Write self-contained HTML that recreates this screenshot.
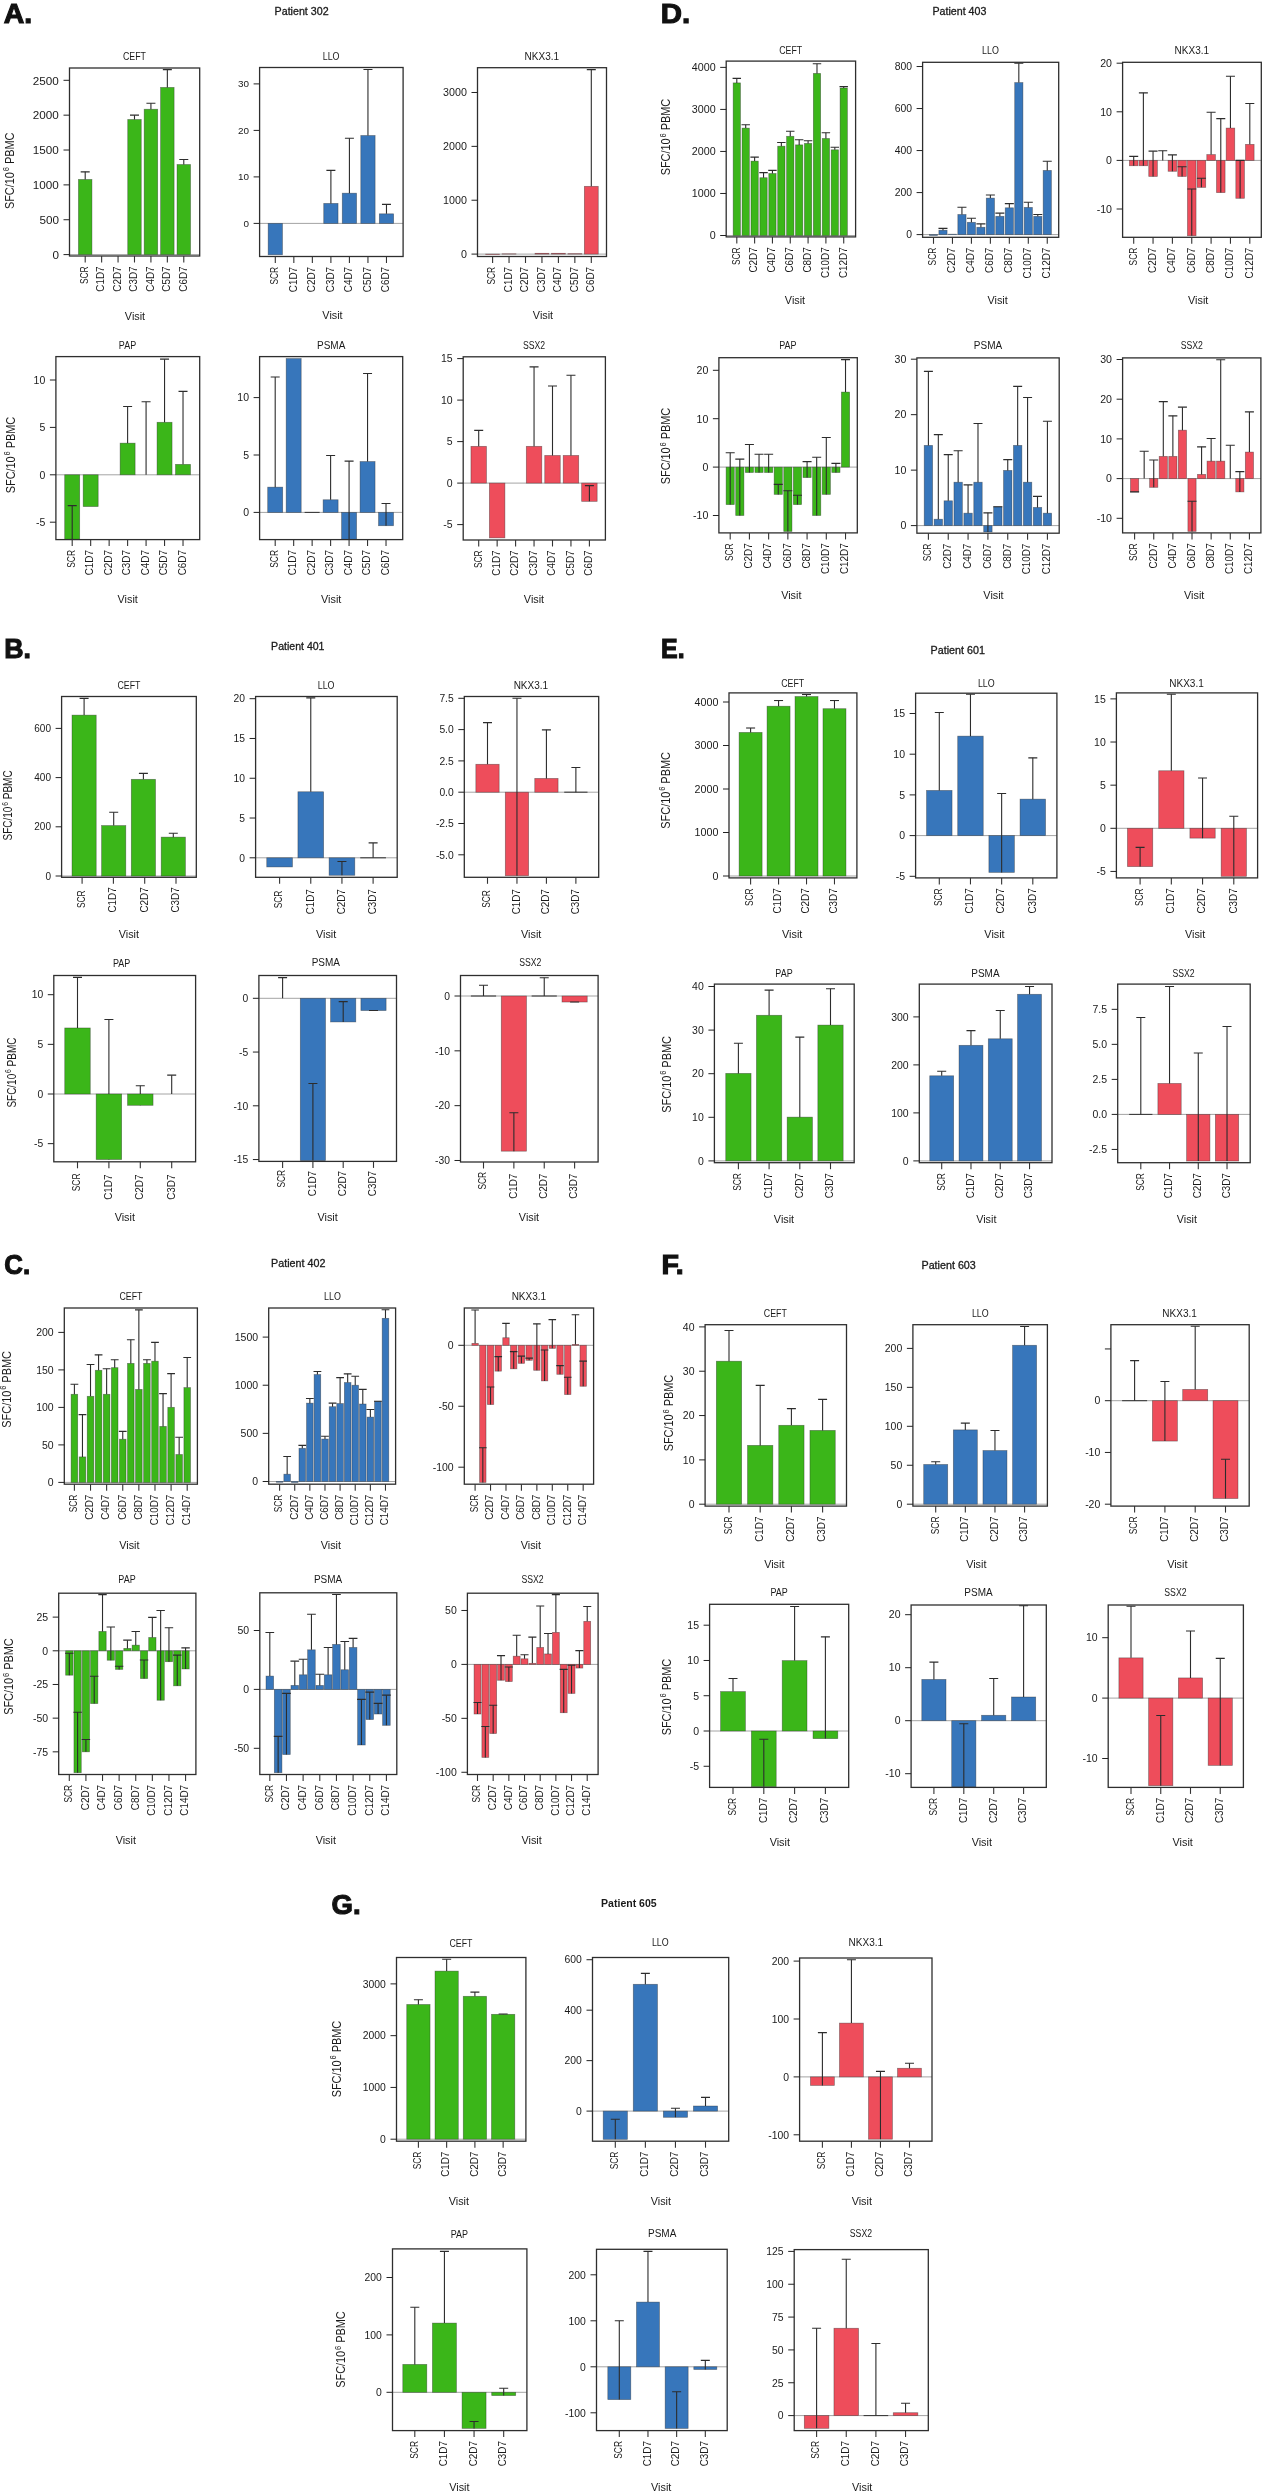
<!DOCTYPE html>
<html><head><meta charset="utf-8"><style>
html,body{margin:0;padding:0;background:#fff;overflow:hidden;}
svg{display:block;font-family:"Liberation Sans",sans-serif;will-change:transform;-webkit-font-smoothing:antialiased;}
</style></head><body>
<svg width="1262" height="2492" viewBox="0 0 1262 2492">
<rect width="1262" height="2492" fill="#fff"/>
<text x="3.70" y="23.20" text-anchor="start" font-size="27.5" font-weight="bold" textLength="28.40" lengthAdjust="spacingAndGlyphs" fill="#111" stroke="#111" stroke-width="1.1">A.</text>
<text x="274.60" y="15.00" text-anchor="start" font-size="10.6" textLength="54.00" lengthAdjust="spacingAndGlyphs" fill="#1a1a1a" stroke="#1a1a1a" stroke-width="0.3">Patient 302</text>
<text x="660.70" y="22.80" text-anchor="start" font-size="27.5" font-weight="bold" textLength="29.40" lengthAdjust="spacingAndGlyphs" fill="#111" stroke="#111" stroke-width="1.1">D.</text>
<text x="932.40" y="14.60" text-anchor="start" font-size="10.6" textLength="54.00" lengthAdjust="spacingAndGlyphs" fill="#1a1a1a" stroke="#1a1a1a" stroke-width="0.3">Patient 403</text>
<text x="4.30" y="658.20" text-anchor="start" font-size="27.5" font-weight="bold" textLength="26.70" lengthAdjust="spacingAndGlyphs" fill="#111" stroke="#111" stroke-width="1.1">B.</text>
<text x="271.10" y="649.70" text-anchor="start" font-size="10.6" textLength="53.40" lengthAdjust="spacingAndGlyphs" fill="#1a1a1a" stroke="#1a1a1a" stroke-width="0.3">Patient 401</text>
<text x="661.00" y="657.70" text-anchor="start" font-size="27.5" font-weight="bold" textLength="23.60" lengthAdjust="spacingAndGlyphs" fill="#111" stroke="#111" stroke-width="1.1">E.</text>
<text x="930.60" y="653.70" text-anchor="start" font-size="10.6" textLength="54.30" lengthAdjust="spacingAndGlyphs" fill="#1a1a1a" stroke="#1a1a1a" stroke-width="0.3">Patient 601</text>
<text x="4.30" y="1273.70" text-anchor="start" font-size="27.5" font-weight="bold" textLength="25.80" lengthAdjust="spacingAndGlyphs" fill="#111" stroke="#111" stroke-width="1.1">C.</text>
<text x="271.10" y="1266.80" text-anchor="start" font-size="10.6" textLength="54.30" lengthAdjust="spacingAndGlyphs" fill="#1a1a1a" stroke="#1a1a1a" stroke-width="0.3">Patient 402</text>
<text x="661.60" y="1273.70" text-anchor="start" font-size="27.5" font-weight="bold" textLength="22.20" lengthAdjust="spacingAndGlyphs" fill="#111" stroke="#111" stroke-width="1.1">F.</text>
<text x="921.50" y="1268.80" text-anchor="start" font-size="10.6" textLength="54.30" lengthAdjust="spacingAndGlyphs" fill="#1a1a1a" stroke="#1a1a1a" stroke-width="0.3">Patient 603</text>
<text x="331.50" y="1914.30" text-anchor="start" font-size="27.5" font-weight="bold" textLength="29.10" lengthAdjust="spacingAndGlyphs" fill="#111" stroke="#111" stroke-width="1.1">G.</text>
<text x="601.10" y="1907.40" text-anchor="start" font-size="10.6" font-weight="bold" textLength="55.60" lengthAdjust="spacingAndGlyphs" fill="#1a1a1a">Patient 605</text>
<clipPath id="c1"><rect x="69.5" y="68" width="130.20" height="188.00"/></clipPath>
<g clip-path="url(#c1)">
<line x1="69.5" x2="199.7" y1="254.60" y2="254.60" stroke="#a4a4a4" stroke-width="1"/>
<rect x="78.45" y="179.44" width="13.50" height="75.16" fill="#3bb619" stroke="rgba(40,40,40,0.5)" stroke-width="0.7"/>
<rect x="127.74" y="119.48" width="13.50" height="135.12" fill="#3bb619" stroke="rgba(40,40,40,0.5)" stroke-width="0.7"/>
<rect x="144.17" y="109.23" width="13.50" height="145.37" fill="#3bb619" stroke="rgba(40,40,40,0.5)" stroke-width="0.7"/>
<rect x="160.60" y="87.41" width="13.50" height="167.19" fill="#3bb619" stroke="rgba(40,40,40,0.5)" stroke-width="0.7"/>
<rect x="177.03" y="164.52" width="13.50" height="90.08" fill="#3bb619" stroke="rgba(40,40,40,0.5)" stroke-width="0.7"/>
<line x1="85.20" x2="85.20" y1="179.44" y2="171.84" stroke="#2c2c2c" stroke-width="1.1"/>
<line x1="80.70" x2="89.70" y1="171.84" y2="171.84" stroke="#2c2c2c" stroke-width="1.1"/>
<line x1="134.49" x2="134.49" y1="119.48" y2="115.16" stroke="#2c2c2c" stroke-width="1.1"/>
<line x1="129.99" x2="138.99" y1="115.16" y2="115.16" stroke="#2c2c2c" stroke-width="1.1"/>
<line x1="150.92" x2="150.92" y1="109.23" y2="103.24" stroke="#2c2c2c" stroke-width="1.1"/>
<line x1="146.42" x2="155.42" y1="103.24" y2="103.24" stroke="#2c2c2c" stroke-width="1.1"/>
<line x1="167.35" x2="167.35" y1="87.41" y2="69.63" stroke="#2c2c2c" stroke-width="1.1"/>
<line x1="162.85" x2="171.85" y1="69.63" y2="69.63" stroke="#2c2c2c" stroke-width="1.1"/>
<line x1="183.78" x2="183.78" y1="164.52" y2="159.50" stroke="#2c2c2c" stroke-width="1.1"/>
<line x1="179.28" x2="188.28" y1="159.50" y2="159.50" stroke="#2c2c2c" stroke-width="1.1"/>
</g>
<rect x="69.5" y="68" width="130.20" height="188.00" fill="none" stroke="#2e2e2e" stroke-width="1.3"/>
<line x1="63.50" x2="69.5" y1="254.60" y2="254.60" stroke="#222" stroke-width="1"/>
<text x="58.90" y="258.81" text-anchor="end" font-size="11.7" textLength="6.51" lengthAdjust="spacingAndGlyphs" fill="#1a1a1a">0</text>
<line x1="63.50" x2="69.5" y1="219.74" y2="219.74" stroke="#222" stroke-width="1"/>
<text x="58.90" y="223.95" text-anchor="end" font-size="11.7" textLength="19.52" lengthAdjust="spacingAndGlyphs" fill="#1a1a1a">500</text>
<line x1="63.50" x2="69.5" y1="184.88" y2="184.88" stroke="#222" stroke-width="1"/>
<text x="58.90" y="189.09" text-anchor="end" font-size="11.7" textLength="26.03" lengthAdjust="spacingAndGlyphs" fill="#1a1a1a">1000</text>
<line x1="63.50" x2="69.5" y1="150.02" y2="150.02" stroke="#222" stroke-width="1"/>
<text x="58.90" y="154.23" text-anchor="end" font-size="11.7" textLength="26.03" lengthAdjust="spacingAndGlyphs" fill="#1a1a1a">1500</text>
<line x1="63.50" x2="69.5" y1="115.16" y2="115.16" stroke="#222" stroke-width="1"/>
<text x="58.90" y="119.37" text-anchor="end" font-size="11.7" textLength="26.03" lengthAdjust="spacingAndGlyphs" fill="#1a1a1a">2000</text>
<line x1="63.50" x2="69.5" y1="80.30" y2="80.30" stroke="#222" stroke-width="1"/>
<text x="58.90" y="84.51" text-anchor="end" font-size="11.7" textLength="26.03" lengthAdjust="spacingAndGlyphs" fill="#1a1a1a">2500</text>
<line x1="85.20" x2="85.20" y1="256" y2="262.5" stroke="#333" stroke-width="1.1"/>
<text transform="translate(88.00,266.50) rotate(-90)" text-anchor="end" font-size="11" textLength="17.60" lengthAdjust="spacingAndGlyphs" fill="#1a1a1a">SCR</text>
<line x1="101.63" x2="101.63" y1="256" y2="262.5" stroke="#333" stroke-width="1.1"/>
<text transform="translate(104.43,266.50) rotate(-90)" text-anchor="end" font-size="11" textLength="25.17" lengthAdjust="spacingAndGlyphs" fill="#1a1a1a">C1D7</text>
<line x1="118.06" x2="118.06" y1="256" y2="262.5" stroke="#333" stroke-width="1.1"/>
<text transform="translate(120.86,266.50) rotate(-90)" text-anchor="end" font-size="11" textLength="25.17" lengthAdjust="spacingAndGlyphs" fill="#1a1a1a">C2D7</text>
<line x1="134.49" x2="134.49" y1="256" y2="262.5" stroke="#333" stroke-width="1.1"/>
<text transform="translate(137.29,266.50) rotate(-90)" text-anchor="end" font-size="11" textLength="25.17" lengthAdjust="spacingAndGlyphs" fill="#1a1a1a">C3D7</text>
<line x1="150.92" x2="150.92" y1="256" y2="262.5" stroke="#333" stroke-width="1.1"/>
<text transform="translate(153.72,266.50) rotate(-90)" text-anchor="end" font-size="11" textLength="25.17" lengthAdjust="spacingAndGlyphs" fill="#1a1a1a">C4D7</text>
<line x1="167.35" x2="167.35" y1="256" y2="262.5" stroke="#333" stroke-width="1.1"/>
<text transform="translate(170.15,266.50) rotate(-90)" text-anchor="end" font-size="11" textLength="25.17" lengthAdjust="spacingAndGlyphs" fill="#1a1a1a">C5D7</text>
<line x1="183.78" x2="183.78" y1="256" y2="262.5" stroke="#333" stroke-width="1.1"/>
<text transform="translate(186.58,266.50) rotate(-90)" text-anchor="end" font-size="11" textLength="25.17" lengthAdjust="spacingAndGlyphs" fill="#1a1a1a">C6D7</text>
<text x="134.50" y="59.60" text-anchor="middle" font-size="10" textLength="23.00" lengthAdjust="spacingAndGlyphs" fill="#1a1a1a">CEFT</text>
<text x="135.00" y="320.00" text-anchor="middle" font-size="10.5" textLength="20.30" lengthAdjust="spacingAndGlyphs" fill="#1a1a1a">Visit</text>
<text transform="translate(13.60,170.80) rotate(-90)" text-anchor="middle" font-size="12" fill="#1a1a1a" textLength="76.5" lengthAdjust="spacingAndGlyphs">SFC/10<tspan font-size="8.2" dx="1" dy="-4.3">6</tspan><tspan dy="4.3"> PBMC</tspan></text>
<clipPath id="c2"><rect x="259.6" y="67.5" width="143.50" height="189.00"/></clipPath>
<g clip-path="url(#c2)">
<line x1="259.6" x2="403.1" y1="223.40" y2="223.40" stroke="#a4a4a4" stroke-width="1"/>
<rect x="268.15" y="223.40" width="14.30" height="31.39" fill="#3776bb" stroke="rgba(40,40,40,0.5)" stroke-width="0.7"/>
<rect x="323.74" y="203.41" width="14.30" height="20.00" fill="#3776bb" stroke="rgba(40,40,40,0.5)" stroke-width="0.7"/>
<rect x="342.27" y="193.18" width="14.30" height="30.22" fill="#3776bb" stroke="rgba(40,40,40,0.5)" stroke-width="0.7"/>
<rect x="360.80" y="135.51" width="14.30" height="87.89" fill="#3776bb" stroke="rgba(40,40,40,0.5)" stroke-width="0.7"/>
<rect x="379.33" y="213.82" width="14.30" height="9.58" fill="#3776bb" stroke="rgba(40,40,40,0.5)" stroke-width="0.7"/>
<line x1="330.89" x2="330.89" y1="203.41" y2="170.39" stroke="#2c2c2c" stroke-width="1.1"/>
<line x1="326.39" x2="335.39" y1="170.39" y2="170.39" stroke="#2c2c2c" stroke-width="1.1"/>
<line x1="349.42" x2="349.42" y1="193.18" y2="138.31" stroke="#2c2c2c" stroke-width="1.1"/>
<line x1="344.92" x2="353.92" y1="138.31" y2="138.31" stroke="#2c2c2c" stroke-width="1.1"/>
<line x1="367.95" x2="367.95" y1="135.51" y2="69.48" stroke="#2c2c2c" stroke-width="1.1"/>
<line x1="363.45" x2="372.45" y1="69.48" y2="69.48" stroke="#2c2c2c" stroke-width="1.1"/>
<line x1="386.48" x2="386.48" y1="213.82" y2="204.34" stroke="#2c2c2c" stroke-width="1.1"/>
<line x1="381.98" x2="390.98" y1="204.34" y2="204.34" stroke="#2c2c2c" stroke-width="1.1"/>
</g>
<rect x="259.6" y="67.5" width="143.50" height="189.00" fill="none" stroke="#2e2e2e" stroke-width="1.3"/>
<line x1="253.60" x2="259.6" y1="223.40" y2="223.40" stroke="#222" stroke-width="1"/>
<text x="249.00" y="226.96" text-anchor="end" font-size="9.9" textLength="5.51" lengthAdjust="spacingAndGlyphs" fill="#1a1a1a">0</text>
<line x1="253.60" x2="259.6" y1="176.90" y2="176.90" stroke="#222" stroke-width="1"/>
<text x="249.00" y="180.46" text-anchor="end" font-size="9.9" textLength="11.01" lengthAdjust="spacingAndGlyphs" fill="#1a1a1a">10</text>
<line x1="253.60" x2="259.6" y1="130.40" y2="130.40" stroke="#222" stroke-width="1"/>
<text x="249.00" y="133.96" text-anchor="end" font-size="9.9" textLength="11.01" lengthAdjust="spacingAndGlyphs" fill="#1a1a1a">20</text>
<line x1="253.60" x2="259.6" y1="83.90" y2="83.90" stroke="#222" stroke-width="1"/>
<text x="249.00" y="87.46" text-anchor="end" font-size="9.9" textLength="11.01" lengthAdjust="spacingAndGlyphs" fill="#1a1a1a">30</text>
<line x1="275.30" x2="275.30" y1="256.5" y2="263.0" stroke="#333" stroke-width="1.1"/>
<text transform="translate(278.10,267.00) rotate(-90)" text-anchor="end" font-size="11" textLength="17.60" lengthAdjust="spacingAndGlyphs" fill="#1a1a1a">SCR</text>
<line x1="293.83" x2="293.83" y1="256.5" y2="263.0" stroke="#333" stroke-width="1.1"/>
<text transform="translate(296.63,267.00) rotate(-90)" text-anchor="end" font-size="11" textLength="25.17" lengthAdjust="spacingAndGlyphs" fill="#1a1a1a">C1D7</text>
<line x1="312.36" x2="312.36" y1="256.5" y2="263.0" stroke="#333" stroke-width="1.1"/>
<text transform="translate(315.16,267.00) rotate(-90)" text-anchor="end" font-size="11" textLength="25.17" lengthAdjust="spacingAndGlyphs" fill="#1a1a1a">C2D7</text>
<line x1="330.89" x2="330.89" y1="256.5" y2="263.0" stroke="#333" stroke-width="1.1"/>
<text transform="translate(333.69,267.00) rotate(-90)" text-anchor="end" font-size="11" textLength="25.17" lengthAdjust="spacingAndGlyphs" fill="#1a1a1a">C3D7</text>
<line x1="349.42" x2="349.42" y1="256.5" y2="263.0" stroke="#333" stroke-width="1.1"/>
<text transform="translate(352.22,267.00) rotate(-90)" text-anchor="end" font-size="11" textLength="25.17" lengthAdjust="spacingAndGlyphs" fill="#1a1a1a">C4D7</text>
<line x1="367.95" x2="367.95" y1="256.5" y2="263.0" stroke="#333" stroke-width="1.1"/>
<text transform="translate(370.75,267.00) rotate(-90)" text-anchor="end" font-size="11" textLength="25.17" lengthAdjust="spacingAndGlyphs" fill="#1a1a1a">C5D7</text>
<line x1="386.48" x2="386.48" y1="256.5" y2="263.0" stroke="#333" stroke-width="1.1"/>
<text transform="translate(389.28,267.00) rotate(-90)" text-anchor="end" font-size="11" textLength="25.17" lengthAdjust="spacingAndGlyphs" fill="#1a1a1a">C6D7</text>
<text x="331.10" y="59.50" text-anchor="middle" font-size="10" textLength="16.80" lengthAdjust="spacingAndGlyphs" fill="#1a1a1a">LLO</text>
<text x="332.50" y="319.00" text-anchor="middle" font-size="10.5" textLength="20.30" lengthAdjust="spacingAndGlyphs" fill="#1a1a1a">Visit</text>
<clipPath id="c3"><rect x="477.5" y="67.7" width="129.00" height="188.80"/></clipPath>
<g clip-path="url(#c3)">
<line x1="477.5" x2="606.5" y1="254.10" y2="254.10" stroke="#a4a4a4" stroke-width="1"/>
<rect x="485.65" y="254.10" width="13.90" height="0.43" fill="#ee4d5b" stroke="rgba(40,40,40,0.5)" stroke-width="0.7"/>
<rect x="502.10" y="253.83" width="13.90" height="0.27" fill="#ee4d5b" stroke="rgba(40,40,40,0.5)" stroke-width="0.7"/>
<rect x="535.00" y="253.29" width="13.90" height="0.81" fill="#ee4d5b" stroke="rgba(40,40,40,0.5)" stroke-width="0.7"/>
<rect x="551.45" y="253.29" width="13.90" height="0.81" fill="#ee4d5b" stroke="rgba(40,40,40,0.5)" stroke-width="0.7"/>
<rect x="567.90" y="253.67" width="13.90" height="0.43" fill="#ee4d5b" stroke="rgba(40,40,40,0.5)" stroke-width="0.7"/>
<rect x="584.35" y="186.33" width="13.90" height="67.77" fill="#ee4d5b" stroke="rgba(40,40,40,0.5)" stroke-width="0.7"/>
<line x1="591.30" x2="591.30" y1="186.33" y2="69.60" stroke="#2c2c2c" stroke-width="1.1"/>
<line x1="586.80" x2="595.80" y1="69.60" y2="69.60" stroke="#2c2c2c" stroke-width="1.1"/>
</g>
<rect x="477.5" y="67.7" width="129.00" height="188.80" fill="none" stroke="#2e2e2e" stroke-width="1.3"/>
<line x1="471.50" x2="477.5" y1="254.10" y2="254.10" stroke="#222" stroke-width="1"/>
<text x="466.90" y="257.95" text-anchor="end" font-size="10.7" textLength="5.95" lengthAdjust="spacingAndGlyphs" fill="#1a1a1a">0</text>
<line x1="471.50" x2="477.5" y1="200.23" y2="200.23" stroke="#222" stroke-width="1"/>
<text x="466.90" y="204.08" text-anchor="end" font-size="10.7" textLength="23.80" lengthAdjust="spacingAndGlyphs" fill="#1a1a1a">1000</text>
<line x1="471.50" x2="477.5" y1="146.36" y2="146.36" stroke="#222" stroke-width="1"/>
<text x="466.90" y="150.21" text-anchor="end" font-size="10.7" textLength="23.80" lengthAdjust="spacingAndGlyphs" fill="#1a1a1a">2000</text>
<line x1="471.50" x2="477.5" y1="92.49" y2="92.49" stroke="#222" stroke-width="1"/>
<text x="466.90" y="96.34" text-anchor="end" font-size="10.7" textLength="23.80" lengthAdjust="spacingAndGlyphs" fill="#1a1a1a">3000</text>
<line x1="492.60" x2="492.60" y1="256.5" y2="263.0" stroke="#333" stroke-width="1.1"/>
<text transform="translate(495.40,267.00) rotate(-90)" text-anchor="end" font-size="11" textLength="17.60" lengthAdjust="spacingAndGlyphs" fill="#1a1a1a">SCR</text>
<line x1="509.05" x2="509.05" y1="256.5" y2="263.0" stroke="#333" stroke-width="1.1"/>
<text transform="translate(511.85,267.00) rotate(-90)" text-anchor="end" font-size="11" textLength="25.17" lengthAdjust="spacingAndGlyphs" fill="#1a1a1a">C1D7</text>
<line x1="525.50" x2="525.50" y1="256.5" y2="263.0" stroke="#333" stroke-width="1.1"/>
<text transform="translate(528.30,267.00) rotate(-90)" text-anchor="end" font-size="11" textLength="25.17" lengthAdjust="spacingAndGlyphs" fill="#1a1a1a">C2D7</text>
<line x1="541.95" x2="541.95" y1="256.5" y2="263.0" stroke="#333" stroke-width="1.1"/>
<text transform="translate(544.75,267.00) rotate(-90)" text-anchor="end" font-size="11" textLength="25.17" lengthAdjust="spacingAndGlyphs" fill="#1a1a1a">C3D7</text>
<line x1="558.40" x2="558.40" y1="256.5" y2="263.0" stroke="#333" stroke-width="1.1"/>
<text transform="translate(561.20,267.00) rotate(-90)" text-anchor="end" font-size="11" textLength="25.17" lengthAdjust="spacingAndGlyphs" fill="#1a1a1a">C4D7</text>
<line x1="574.85" x2="574.85" y1="256.5" y2="263.0" stroke="#333" stroke-width="1.1"/>
<text transform="translate(577.65,267.00) rotate(-90)" text-anchor="end" font-size="11" textLength="25.17" lengthAdjust="spacingAndGlyphs" fill="#1a1a1a">C5D7</text>
<line x1="591.30" x2="591.30" y1="256.5" y2="263.0" stroke="#333" stroke-width="1.1"/>
<text transform="translate(594.10,267.00) rotate(-90)" text-anchor="end" font-size="11" textLength="25.17" lengthAdjust="spacingAndGlyphs" fill="#1a1a1a">C6D7</text>
<text x="541.80" y="59.70" text-anchor="middle" font-size="10" textLength="34.50" lengthAdjust="spacingAndGlyphs" fill="#1a1a1a">NKX3.1</text>
<text x="543.00" y="318.80" text-anchor="middle" font-size="10.5" textLength="20.30" lengthAdjust="spacingAndGlyphs" fill="#1a1a1a">Visit</text>
<clipPath id="c4"><rect x="55.9" y="356.6" width="143.80" height="183.00"/></clipPath>
<g clip-path="url(#c4)">
<line x1="55.9" x2="199.7" y1="474.80" y2="474.80" stroke="#a4a4a4" stroke-width="1"/>
<rect x="64.70" y="474.80" width="15.00" height="64.46" fill="#3bb619" stroke="rgba(40,40,40,0.5)" stroke-width="0.7"/>
<rect x="83.17" y="474.80" width="15.00" height="31.76" fill="#3bb619" stroke="rgba(40,40,40,0.5)" stroke-width="0.7"/>
<rect x="120.11" y="443.14" width="15.00" height="31.66" fill="#3bb619" stroke="rgba(40,40,40,0.5)" stroke-width="0.7"/>
<rect x="157.05" y="422.28" width="15.00" height="52.52" fill="#3bb619" stroke="rgba(40,40,40,0.5)" stroke-width="0.7"/>
<rect x="175.52" y="464.37" width="15.00" height="10.43" fill="#3bb619" stroke="rgba(40,40,40,0.5)" stroke-width="0.7"/>
<line x1="72.20" x2="72.20" y1="539.26" y2="505.61" stroke="#2c2c2c" stroke-width="1.1"/>
<line x1="67.70" x2="76.70" y1="505.61" y2="505.61" stroke="#2c2c2c" stroke-width="1.1"/>
<line x1="127.61" x2="127.61" y1="443.14" y2="406.54" stroke="#2c2c2c" stroke-width="1.1"/>
<line x1="123.11" x2="132.11" y1="406.54" y2="406.54" stroke="#2c2c2c" stroke-width="1.1"/>
<line x1="146.08" x2="146.08" y1="474.80" y2="401.80" stroke="#2c2c2c" stroke-width="1.1"/>
<line x1="141.58" x2="150.58" y1="401.80" y2="401.80" stroke="#2c2c2c" stroke-width="1.1"/>
<line x1="164.55" x2="164.55" y1="422.28" y2="359.14" stroke="#2c2c2c" stroke-width="1.1"/>
<line x1="160.05" x2="169.05" y1="359.14" y2="359.14" stroke="#2c2c2c" stroke-width="1.1"/>
<line x1="183.02" x2="183.02" y1="464.37" y2="391.38" stroke="#2c2c2c" stroke-width="1.1"/>
<line x1="178.52" x2="187.52" y1="391.38" y2="391.38" stroke="#2c2c2c" stroke-width="1.1"/>
</g>
<rect x="55.9" y="356.6" width="143.80" height="183.00" fill="none" stroke="#2e2e2e" stroke-width="1.3"/>
<line x1="49.90" x2="55.9" y1="522.20" y2="522.20" stroke="#222" stroke-width="1"/>
<text x="45.30" y="525.98" text-anchor="end" font-size="10.5" textLength="9.34" lengthAdjust="spacingAndGlyphs" fill="#1a1a1a">-5</text>
<line x1="49.90" x2="55.9" y1="474.80" y2="474.80" stroke="#222" stroke-width="1"/>
<text x="45.30" y="478.58" text-anchor="end" font-size="10.5" textLength="5.84" lengthAdjust="spacingAndGlyphs" fill="#1a1a1a">0</text>
<line x1="49.90" x2="55.9" y1="427.40" y2="427.40" stroke="#222" stroke-width="1"/>
<text x="45.30" y="431.18" text-anchor="end" font-size="10.5" textLength="5.84" lengthAdjust="spacingAndGlyphs" fill="#1a1a1a">5</text>
<line x1="49.90" x2="55.9" y1="380.00" y2="380.00" stroke="#222" stroke-width="1"/>
<text x="45.30" y="383.78" text-anchor="end" font-size="10.5" textLength="11.68" lengthAdjust="spacingAndGlyphs" fill="#1a1a1a">10</text>
<line x1="72.20" x2="72.20" y1="539.6" y2="546.1" stroke="#333" stroke-width="1.1"/>
<text transform="translate(75.00,550.10) rotate(-90)" text-anchor="end" font-size="11" textLength="17.60" lengthAdjust="spacingAndGlyphs" fill="#1a1a1a">SCR</text>
<line x1="90.67" x2="90.67" y1="539.6" y2="546.1" stroke="#333" stroke-width="1.1"/>
<text transform="translate(93.47,550.10) rotate(-90)" text-anchor="end" font-size="11" textLength="25.17" lengthAdjust="spacingAndGlyphs" fill="#1a1a1a">C1D7</text>
<line x1="109.14" x2="109.14" y1="539.6" y2="546.1" stroke="#333" stroke-width="1.1"/>
<text transform="translate(111.94,550.10) rotate(-90)" text-anchor="end" font-size="11" textLength="25.17" lengthAdjust="spacingAndGlyphs" fill="#1a1a1a">C2D7</text>
<line x1="127.61" x2="127.61" y1="539.6" y2="546.1" stroke="#333" stroke-width="1.1"/>
<text transform="translate(130.41,550.10) rotate(-90)" text-anchor="end" font-size="11" textLength="25.17" lengthAdjust="spacingAndGlyphs" fill="#1a1a1a">C3D7</text>
<line x1="146.08" x2="146.08" y1="539.6" y2="546.1" stroke="#333" stroke-width="1.1"/>
<text transform="translate(148.88,550.10) rotate(-90)" text-anchor="end" font-size="11" textLength="25.17" lengthAdjust="spacingAndGlyphs" fill="#1a1a1a">C4D7</text>
<line x1="164.55" x2="164.55" y1="539.6" y2="546.1" stroke="#333" stroke-width="1.1"/>
<text transform="translate(167.35,550.10) rotate(-90)" text-anchor="end" font-size="11" textLength="25.17" lengthAdjust="spacingAndGlyphs" fill="#1a1a1a">C5D7</text>
<line x1="183.02" x2="183.02" y1="539.6" y2="546.1" stroke="#333" stroke-width="1.1"/>
<text transform="translate(185.82,550.10) rotate(-90)" text-anchor="end" font-size="11" textLength="25.17" lengthAdjust="spacingAndGlyphs" fill="#1a1a1a">C6D7</text>
<text x="127.50" y="349.30" text-anchor="middle" font-size="10" textLength="17.30" lengthAdjust="spacingAndGlyphs" fill="#1a1a1a">PAP</text>
<text x="127.70" y="603.30" text-anchor="middle" font-size="10.5" textLength="20.30" lengthAdjust="spacingAndGlyphs" fill="#1a1a1a">Visit</text>
<text transform="translate(14.60,455.00) rotate(-90)" text-anchor="middle" font-size="12" fill="#1a1a1a" textLength="76.5" lengthAdjust="spacingAndGlyphs">SFC/10<tspan font-size="8.2" dx="1" dy="-4.3">6</tspan><tspan dy="4.3"> PBMC</tspan></text>
<clipPath id="c5"><rect x="259.6" y="356.6" width="143.10" height="183.00"/></clipPath>
<g clip-path="url(#c5)">
<line x1="259.6" x2="402.7" y1="512.40" y2="512.40" stroke="#a4a4a4" stroke-width="1"/>
<rect x="267.70" y="487.14" width="15.00" height="25.26" fill="#3776bb" stroke="rgba(40,40,40,0.5)" stroke-width="0.7"/>
<rect x="286.17" y="358.57" width="15.00" height="153.83" fill="#3776bb" stroke="rgba(40,40,40,0.5)" stroke-width="0.7"/>
<line x1="304.64" x2="319.64" y1="512.40" y2="512.40" stroke="#333" stroke-width="1"/>
<rect x="323.11" y="499.77" width="15.00" height="12.63" fill="#3776bb" stroke="rgba(40,40,40,0.5)" stroke-width="0.7"/>
<rect x="341.58" y="512.40" width="15.00" height="28.70" fill="#3776bb" stroke="rgba(40,40,40,0.5)" stroke-width="0.7"/>
<rect x="360.05" y="461.54" width="15.00" height="50.86" fill="#3776bb" stroke="rgba(40,40,40,0.5)" stroke-width="0.7"/>
<rect x="378.52" y="512.40" width="15.00" height="13.32" fill="#3776bb" stroke="rgba(40,40,40,0.5)" stroke-width="0.7"/>
<line x1="275.20" x2="275.20" y1="487.14" y2="376.94" stroke="#2c2c2c" stroke-width="1.1"/>
<line x1="270.70" x2="279.70" y1="376.94" y2="376.94" stroke="#2c2c2c" stroke-width="1.1"/>
<line x1="330.61" x2="330.61" y1="499.77" y2="455.46" stroke="#2c2c2c" stroke-width="1.1"/>
<line x1="326.11" x2="335.11" y1="455.46" y2="455.46" stroke="#2c2c2c" stroke-width="1.1"/>
<line x1="349.08" x2="349.08" y1="541.10" y2="461.08" stroke="#2c2c2c" stroke-width="1.1"/>
<line x1="344.58" x2="353.58" y1="461.08" y2="461.08" stroke="#2c2c2c" stroke-width="1.1"/>
<line x1="367.55" x2="367.55" y1="461.54" y2="373.49" stroke="#2c2c2c" stroke-width="1.1"/>
<line x1="363.05" x2="372.05" y1="373.49" y2="373.49" stroke="#2c2c2c" stroke-width="1.1"/>
<line x1="386.02" x2="386.02" y1="525.72" y2="503.45" stroke="#2c2c2c" stroke-width="1.1"/>
<line x1="381.52" x2="390.52" y1="503.45" y2="503.45" stroke="#2c2c2c" stroke-width="1.1"/>
</g>
<rect x="259.6" y="356.6" width="143.10" height="183.00" fill="none" stroke="#2e2e2e" stroke-width="1.3"/>
<line x1="253.60" x2="259.6" y1="512.40" y2="512.40" stroke="#222" stroke-width="1"/>
<text x="249.00" y="516.18" text-anchor="end" font-size="10.5" textLength="5.84" lengthAdjust="spacingAndGlyphs" fill="#1a1a1a">0</text>
<line x1="253.60" x2="259.6" y1="455.00" y2="455.00" stroke="#222" stroke-width="1"/>
<text x="249.00" y="458.78" text-anchor="end" font-size="10.5" textLength="5.84" lengthAdjust="spacingAndGlyphs" fill="#1a1a1a">5</text>
<line x1="253.60" x2="259.6" y1="397.60" y2="397.60" stroke="#222" stroke-width="1"/>
<text x="249.00" y="401.38" text-anchor="end" font-size="10.5" textLength="11.68" lengthAdjust="spacingAndGlyphs" fill="#1a1a1a">10</text>
<line x1="275.20" x2="275.20" y1="539.6" y2="546.1" stroke="#333" stroke-width="1.1"/>
<text transform="translate(278.00,550.10) rotate(-90)" text-anchor="end" font-size="11" textLength="17.60" lengthAdjust="spacingAndGlyphs" fill="#1a1a1a">SCR</text>
<line x1="293.67" x2="293.67" y1="539.6" y2="546.1" stroke="#333" stroke-width="1.1"/>
<text transform="translate(296.47,550.10) rotate(-90)" text-anchor="end" font-size="11" textLength="25.17" lengthAdjust="spacingAndGlyphs" fill="#1a1a1a">C1D7</text>
<line x1="312.14" x2="312.14" y1="539.6" y2="546.1" stroke="#333" stroke-width="1.1"/>
<text transform="translate(314.94,550.10) rotate(-90)" text-anchor="end" font-size="11" textLength="25.17" lengthAdjust="spacingAndGlyphs" fill="#1a1a1a">C2D7</text>
<line x1="330.61" x2="330.61" y1="539.6" y2="546.1" stroke="#333" stroke-width="1.1"/>
<text transform="translate(333.41,550.10) rotate(-90)" text-anchor="end" font-size="11" textLength="25.17" lengthAdjust="spacingAndGlyphs" fill="#1a1a1a">C3D7</text>
<line x1="349.08" x2="349.08" y1="539.6" y2="546.1" stroke="#333" stroke-width="1.1"/>
<text transform="translate(351.88,550.10) rotate(-90)" text-anchor="end" font-size="11" textLength="25.17" lengthAdjust="spacingAndGlyphs" fill="#1a1a1a">C4D7</text>
<line x1="367.55" x2="367.55" y1="539.6" y2="546.1" stroke="#333" stroke-width="1.1"/>
<text transform="translate(370.35,550.10) rotate(-90)" text-anchor="end" font-size="11" textLength="25.17" lengthAdjust="spacingAndGlyphs" fill="#1a1a1a">C5D7</text>
<line x1="386.02" x2="386.02" y1="539.6" y2="546.1" stroke="#333" stroke-width="1.1"/>
<text transform="translate(388.82,550.10) rotate(-90)" text-anchor="end" font-size="11" textLength="25.17" lengthAdjust="spacingAndGlyphs" fill="#1a1a1a">C6D7</text>
<text x="331.20" y="349.30" text-anchor="middle" font-size="10" textLength="28.30" lengthAdjust="spacingAndGlyphs" fill="#1a1a1a">PSMA</text>
<text x="331.20" y="603.30" text-anchor="middle" font-size="10.5" textLength="20.30" lengthAdjust="spacingAndGlyphs" fill="#1a1a1a">Visit</text>
<clipPath id="c6"><rect x="463.2" y="356.8" width="142.20" height="183.20"/></clipPath>
<g clip-path="url(#c6)">
<line x1="463.2" x2="605.4" y1="483.10" y2="483.10" stroke="#a4a4a4" stroke-width="1"/>
<rect x="470.95" y="446.33" width="15.50" height="36.77" fill="#ee4d5b" stroke="rgba(40,40,40,0.5)" stroke-width="0.7"/>
<rect x="489.40" y="483.10" width="15.50" height="54.78" fill="#ee4d5b" stroke="rgba(40,40,40,0.5)" stroke-width="0.7"/>
<rect x="526.30" y="446.33" width="15.50" height="36.77" fill="#ee4d5b" stroke="rgba(40,40,40,0.5)" stroke-width="0.7"/>
<rect x="544.75" y="455.46" width="15.50" height="27.64" fill="#ee4d5b" stroke="rgba(40,40,40,0.5)" stroke-width="0.7"/>
<rect x="563.20" y="455.46" width="15.50" height="27.64" fill="#ee4d5b" stroke="rgba(40,40,40,0.5)" stroke-width="0.7"/>
<rect x="581.65" y="483.10" width="15.50" height="18.26" fill="#ee4d5b" stroke="rgba(40,40,40,0.5)" stroke-width="0.7"/>
<line x1="478.70" x2="478.70" y1="446.33" y2="430.40" stroke="#2c2c2c" stroke-width="1.1"/>
<line x1="474.20" x2="483.20" y1="430.40" y2="430.40" stroke="#2c2c2c" stroke-width="1.1"/>
<line x1="534.05" x2="534.05" y1="446.33" y2="366.90" stroke="#2c2c2c" stroke-width="1.1"/>
<line x1="529.55" x2="538.55" y1="366.90" y2="366.90" stroke="#2c2c2c" stroke-width="1.1"/>
<line x1="552.50" x2="552.50" y1="455.46" y2="385.99" stroke="#2c2c2c" stroke-width="1.1"/>
<line x1="548.00" x2="557.00" y1="385.99" y2="385.99" stroke="#2c2c2c" stroke-width="1.1"/>
<line x1="570.95" x2="570.95" y1="455.46" y2="375.20" stroke="#2c2c2c" stroke-width="1.1"/>
<line x1="566.45" x2="575.45" y1="375.20" y2="375.20" stroke="#2c2c2c" stroke-width="1.1"/>
<line x1="589.40" x2="589.40" y1="501.36" y2="485.59" stroke="#2c2c2c" stroke-width="1.1"/>
<line x1="584.90" x2="593.90" y1="485.59" y2="485.59" stroke="#2c2c2c" stroke-width="1.1"/>
</g>
<rect x="463.2" y="356.8" width="142.20" height="183.20" fill="none" stroke="#2e2e2e" stroke-width="1.3"/>
<line x1="457.20" x2="463.2" y1="524.60" y2="524.60" stroke="#222" stroke-width="1"/>
<text x="452.60" y="528.38" text-anchor="end" font-size="10.5" textLength="9.34" lengthAdjust="spacingAndGlyphs" fill="#1a1a1a">-5</text>
<line x1="457.20" x2="463.2" y1="483.10" y2="483.10" stroke="#222" stroke-width="1"/>
<text x="452.60" y="486.88" text-anchor="end" font-size="10.5" textLength="5.84" lengthAdjust="spacingAndGlyphs" fill="#1a1a1a">0</text>
<line x1="457.20" x2="463.2" y1="441.60" y2="441.60" stroke="#222" stroke-width="1"/>
<text x="452.60" y="445.38" text-anchor="end" font-size="10.5" textLength="5.84" lengthAdjust="spacingAndGlyphs" fill="#1a1a1a">5</text>
<line x1="457.20" x2="463.2" y1="400.10" y2="400.10" stroke="#222" stroke-width="1"/>
<text x="452.60" y="403.88" text-anchor="end" font-size="10.5" textLength="11.68" lengthAdjust="spacingAndGlyphs" fill="#1a1a1a">10</text>
<line x1="457.20" x2="463.2" y1="358.60" y2="358.60" stroke="#222" stroke-width="1"/>
<text x="452.60" y="362.38" text-anchor="end" font-size="10.5" textLength="11.68" lengthAdjust="spacingAndGlyphs" fill="#1a1a1a">15</text>
<line x1="478.70" x2="478.70" y1="540" y2="546.5" stroke="#333" stroke-width="1.1"/>
<text transform="translate(481.50,550.50) rotate(-90)" text-anchor="end" font-size="11" textLength="17.60" lengthAdjust="spacingAndGlyphs" fill="#1a1a1a">SCR</text>
<line x1="497.15" x2="497.15" y1="540" y2="546.5" stroke="#333" stroke-width="1.1"/>
<text transform="translate(499.95,550.50) rotate(-90)" text-anchor="end" font-size="11" textLength="25.17" lengthAdjust="spacingAndGlyphs" fill="#1a1a1a">C1D7</text>
<line x1="515.60" x2="515.60" y1="540" y2="546.5" stroke="#333" stroke-width="1.1"/>
<text transform="translate(518.40,550.50) rotate(-90)" text-anchor="end" font-size="11" textLength="25.17" lengthAdjust="spacingAndGlyphs" fill="#1a1a1a">C2D7</text>
<line x1="534.05" x2="534.05" y1="540" y2="546.5" stroke="#333" stroke-width="1.1"/>
<text transform="translate(536.85,550.50) rotate(-90)" text-anchor="end" font-size="11" textLength="25.17" lengthAdjust="spacingAndGlyphs" fill="#1a1a1a">C3D7</text>
<line x1="552.50" x2="552.50" y1="540" y2="546.5" stroke="#333" stroke-width="1.1"/>
<text transform="translate(555.30,550.50) rotate(-90)" text-anchor="end" font-size="11" textLength="25.17" lengthAdjust="spacingAndGlyphs" fill="#1a1a1a">C4D7</text>
<line x1="570.95" x2="570.95" y1="540" y2="546.5" stroke="#333" stroke-width="1.1"/>
<text transform="translate(573.75,550.50) rotate(-90)" text-anchor="end" font-size="11" textLength="25.17" lengthAdjust="spacingAndGlyphs" fill="#1a1a1a">C5D7</text>
<line x1="589.40" x2="589.40" y1="540" y2="546.5" stroke="#333" stroke-width="1.1"/>
<text transform="translate(592.20,550.50) rotate(-90)" text-anchor="end" font-size="11" textLength="25.17" lengthAdjust="spacingAndGlyphs" fill="#1a1a1a">C6D7</text>
<text x="534.00" y="349.10" text-anchor="middle" font-size="10" textLength="22.20" lengthAdjust="spacingAndGlyphs" fill="#1a1a1a">SSX2</text>
<text x="534.00" y="603.40" text-anchor="middle" font-size="10.5" textLength="20.30" lengthAdjust="spacingAndGlyphs" fill="#1a1a1a">Visit</text>
<clipPath id="c7"><rect x="726.2" y="61.1" width="129.40" height="175.80"/></clipPath>
<g clip-path="url(#c7)">
<line x1="726.2" x2="855.6" y1="235.50" y2="235.50" stroke="#a4a4a4" stroke-width="1"/>
<rect x="733.15" y="82.89" width="7.30" height="152.61" fill="#3bb619" stroke="rgba(40,40,40,0.5)" stroke-width="0.7"/>
<rect x="742.06" y="128.11" width="7.30" height="107.39" fill="#3bb619" stroke="rgba(40,40,40,0.5)" stroke-width="0.7"/>
<rect x="750.97" y="161.11" width="7.30" height="74.39" fill="#3bb619" stroke="rgba(40,40,40,0.5)" stroke-width="0.7"/>
<rect x="759.88" y="177.71" width="7.30" height="57.79" fill="#3bb619" stroke="rgba(40,40,40,0.5)" stroke-width="0.7"/>
<rect x="768.79" y="173.51" width="7.30" height="61.99" fill="#3bb619" stroke="rgba(40,40,40,0.5)" stroke-width="0.7"/>
<rect x="777.70" y="146.19" width="7.30" height="89.31" fill="#3bb619" stroke="rgba(40,40,40,0.5)" stroke-width="0.7"/>
<rect x="786.61" y="136.31" width="7.30" height="99.19" fill="#3bb619" stroke="rgba(40,40,40,0.5)" stroke-width="0.7"/>
<rect x="795.52" y="144.88" width="7.30" height="90.62" fill="#3bb619" stroke="rgba(40,40,40,0.5)" stroke-width="0.7"/>
<rect x="804.43" y="143.41" width="7.30" height="92.09" fill="#3bb619" stroke="rgba(40,40,40,0.5)" stroke-width="0.7"/>
<rect x="813.34" y="73.39" width="7.30" height="162.11" fill="#3bb619" stroke="rgba(40,40,40,0.5)" stroke-width="0.7"/>
<rect x="822.25" y="138.49" width="7.30" height="97.01" fill="#3bb619" stroke="rgba(40,40,40,0.5)" stroke-width="0.7"/>
<rect x="831.16" y="149.80" width="7.30" height="85.70" fill="#3bb619" stroke="rgba(40,40,40,0.5)" stroke-width="0.7"/>
<rect x="840.07" y="88.02" width="7.30" height="147.48" fill="#3bb619" stroke="rgba(40,40,40,0.5)" stroke-width="0.7"/>
<line x1="736.80" x2="736.80" y1="82.89" y2="78.39" stroke="#2c2c2c" stroke-width="1.1"/>
<line x1="732.58" x2="741.02" y1="78.39" y2="78.39" stroke="#2c2c2c" stroke-width="1.1"/>
<line x1="745.71" x2="745.71" y1="128.11" y2="124.79" stroke="#2c2c2c" stroke-width="1.1"/>
<line x1="741.49" x2="749.93" y1="124.79" y2="124.79" stroke="#2c2c2c" stroke-width="1.1"/>
<line x1="754.62" x2="754.62" y1="161.11" y2="157.11" stroke="#2c2c2c" stroke-width="1.1"/>
<line x1="750.40" x2="758.84" y1="157.11" y2="157.11" stroke="#2c2c2c" stroke-width="1.1"/>
<line x1="763.53" x2="763.53" y1="177.71" y2="172.58" stroke="#2c2c2c" stroke-width="1.1"/>
<line x1="759.31" x2="767.75" y1="172.58" y2="172.58" stroke="#2c2c2c" stroke-width="1.1"/>
<line x1="772.44" x2="772.44" y1="173.51" y2="170.40" stroke="#2c2c2c" stroke-width="1.1"/>
<line x1="768.22" x2="776.66" y1="170.40" y2="170.40" stroke="#2c2c2c" stroke-width="1.1"/>
<line x1="781.35" x2="781.35" y1="146.19" y2="142.49" stroke="#2c2c2c" stroke-width="1.1"/>
<line x1="777.13" x2="785.57" y1="142.49" y2="142.49" stroke="#2c2c2c" stroke-width="1.1"/>
<line x1="790.26" x2="790.26" y1="136.31" y2="131.18" stroke="#2c2c2c" stroke-width="1.1"/>
<line x1="786.04" x2="794.48" y1="131.18" y2="131.18" stroke="#2c2c2c" stroke-width="1.1"/>
<line x1="799.17" x2="799.17" y1="144.88" y2="139.80" stroke="#2c2c2c" stroke-width="1.1"/>
<line x1="794.95" x2="803.39" y1="139.80" y2="139.80" stroke="#2c2c2c" stroke-width="1.1"/>
<line x1="808.08" x2="808.08" y1="143.41" y2="140.68" stroke="#2c2c2c" stroke-width="1.1"/>
<line x1="803.86" x2="812.30" y1="140.68" y2="140.68" stroke="#2c2c2c" stroke-width="1.1"/>
<line x1="816.99" x2="816.99" y1="73.39" y2="63.81" stroke="#2c2c2c" stroke-width="1.1"/>
<line x1="812.77" x2="821.21" y1="63.81" y2="63.81" stroke="#2c2c2c" stroke-width="1.1"/>
<line x1="825.90" x2="825.90" y1="138.49" y2="132.69" stroke="#2c2c2c" stroke-width="1.1"/>
<line x1="821.68" x2="830.12" y1="132.69" y2="132.69" stroke="#2c2c2c" stroke-width="1.1"/>
<line x1="834.81" x2="834.81" y1="149.80" y2="147.28" stroke="#2c2c2c" stroke-width="1.1"/>
<line x1="830.59" x2="839.03" y1="147.28" y2="147.28" stroke="#2c2c2c" stroke-width="1.1"/>
<line x1="843.72" x2="843.72" y1="88.02" y2="86.59" stroke="#2c2c2c" stroke-width="1.1"/>
<line x1="839.50" x2="847.94" y1="86.59" y2="86.59" stroke="#2c2c2c" stroke-width="1.1"/>
</g>
<rect x="726.2" y="61.1" width="129.40" height="175.80" fill="none" stroke="#2e2e2e" stroke-width="1.3"/>
<line x1="720.20" x2="726.2" y1="235.50" y2="235.50" stroke="#222" stroke-width="1"/>
<text x="715.60" y="239.35" text-anchor="end" font-size="10.7" textLength="5.95" lengthAdjust="spacingAndGlyphs" fill="#1a1a1a">0</text>
<line x1="720.20" x2="726.2" y1="193.47" y2="193.47" stroke="#222" stroke-width="1"/>
<text x="715.60" y="197.32" text-anchor="end" font-size="10.7" textLength="23.80" lengthAdjust="spacingAndGlyphs" fill="#1a1a1a">1000</text>
<line x1="720.20" x2="726.2" y1="151.44" y2="151.44" stroke="#222" stroke-width="1"/>
<text x="715.60" y="155.29" text-anchor="end" font-size="10.7" textLength="23.80" lengthAdjust="spacingAndGlyphs" fill="#1a1a1a">2000</text>
<line x1="720.20" x2="726.2" y1="109.41" y2="109.41" stroke="#222" stroke-width="1"/>
<text x="715.60" y="113.26" text-anchor="end" font-size="10.7" textLength="23.80" lengthAdjust="spacingAndGlyphs" fill="#1a1a1a">3000</text>
<line x1="720.20" x2="726.2" y1="67.38" y2="67.38" stroke="#222" stroke-width="1"/>
<text x="715.60" y="71.23" text-anchor="end" font-size="10.7" textLength="23.80" lengthAdjust="spacingAndGlyphs" fill="#1a1a1a">4000</text>
<line x1="736.80" x2="736.80" y1="236.9" y2="243.4" stroke="#333" stroke-width="1.1"/>
<text transform="translate(739.60,247.40) rotate(-90)" text-anchor="end" font-size="11" textLength="17.60" lengthAdjust="spacingAndGlyphs" fill="#1a1a1a">SCR</text>
<line x1="754.62" x2="754.62" y1="236.9" y2="243.4" stroke="#333" stroke-width="1.1"/>
<text transform="translate(757.42,247.40) rotate(-90)" text-anchor="end" font-size="11" textLength="25.17" lengthAdjust="spacingAndGlyphs" fill="#1a1a1a">C2D7</text>
<line x1="772.44" x2="772.44" y1="236.9" y2="243.4" stroke="#333" stroke-width="1.1"/>
<text transform="translate(775.24,247.40) rotate(-90)" text-anchor="end" font-size="11" textLength="25.17" lengthAdjust="spacingAndGlyphs" fill="#1a1a1a">C4D7</text>
<line x1="790.26" x2="790.26" y1="236.9" y2="243.4" stroke="#333" stroke-width="1.1"/>
<text transform="translate(793.06,247.40) rotate(-90)" text-anchor="end" font-size="11" textLength="25.17" lengthAdjust="spacingAndGlyphs" fill="#1a1a1a">C6D7</text>
<line x1="808.08" x2="808.08" y1="236.9" y2="243.4" stroke="#333" stroke-width="1.1"/>
<text transform="translate(810.88,247.40) rotate(-90)" text-anchor="end" font-size="11" textLength="25.17" lengthAdjust="spacingAndGlyphs" fill="#1a1a1a">C8D7</text>
<line x1="825.90" x2="825.90" y1="236.9" y2="243.4" stroke="#333" stroke-width="1.1"/>
<text transform="translate(828.70,247.40) rotate(-90)" text-anchor="end" font-size="11" textLength="30.64" lengthAdjust="spacingAndGlyphs" fill="#1a1a1a">C10D7</text>
<line x1="843.72" x2="843.72" y1="236.9" y2="243.4" stroke="#333" stroke-width="1.1"/>
<text transform="translate(846.52,247.40) rotate(-90)" text-anchor="end" font-size="11" textLength="30.64" lengthAdjust="spacingAndGlyphs" fill="#1a1a1a">C12D7</text>
<text x="790.70" y="53.80" text-anchor="middle" font-size="10" textLength="23.00" lengthAdjust="spacingAndGlyphs" fill="#1a1a1a">CEFT</text>
<text x="795.00" y="304.40" text-anchor="middle" font-size="10.5" textLength="20.30" lengthAdjust="spacingAndGlyphs" fill="#1a1a1a">Visit</text>
<text transform="translate(670.10,137.10) rotate(-90)" text-anchor="middle" font-size="12" fill="#1a1a1a" textLength="76.5" lengthAdjust="spacingAndGlyphs">SFC/10<tspan font-size="8.2" dx="1" dy="-4.3">6</tspan><tspan dy="4.3"> PBMC</tspan></text>
<clipPath id="c8"><rect x="922.6" y="62.3" width="136.10" height="175.00"/></clipPath>
<g clip-path="url(#c8)">
<line x1="922.6" x2="1058.7" y1="234.60" y2="234.60" stroke="#a4a4a4" stroke-width="1"/>
<rect x="929.40" y="234.60" width="8.20" height="0.84" fill="#3776bb" stroke="rgba(40,40,40,0.5)" stroke-width="0.7"/>
<rect x="938.88" y="230.19" width="8.20" height="4.41" fill="#3776bb" stroke="rgba(40,40,40,0.5)" stroke-width="0.7"/>
<rect x="948.36" y="234.18" width="8.20" height="0.42" fill="#3776bb" stroke="rgba(40,40,40,0.5)" stroke-width="0.7"/>
<rect x="957.84" y="214.49" width="8.20" height="20.11" fill="#3776bb" stroke="rgba(40,40,40,0.5)" stroke-width="0.7"/>
<rect x="967.32" y="222.31" width="8.20" height="12.29" fill="#3776bb" stroke="rgba(40,40,40,0.5)" stroke-width="0.7"/>
<rect x="976.80" y="227.25" width="8.20" height="7.35" fill="#3776bb" stroke="rgba(40,40,40,0.5)" stroke-width="0.7"/>
<rect x="986.28" y="198.11" width="8.20" height="36.49" fill="#3776bb" stroke="rgba(40,40,40,0.5)" stroke-width="0.7"/>
<rect x="995.76" y="216.32" width="8.20" height="18.28" fill="#3776bb" stroke="rgba(40,40,40,0.5)" stroke-width="0.7"/>
<rect x="1005.24" y="207.81" width="8.20" height="26.79" fill="#3776bb" stroke="rgba(40,40,40,0.5)" stroke-width="0.7"/>
<rect x="1014.72" y="82.59" width="8.20" height="152.01" fill="#3776bb" stroke="rgba(40,40,40,0.5)" stroke-width="0.7"/>
<rect x="1024.20" y="207.39" width="8.20" height="27.21" fill="#3776bb" stroke="rgba(40,40,40,0.5)" stroke-width="0.7"/>
<rect x="1033.68" y="216.32" width="8.20" height="18.28" fill="#3776bb" stroke="rgba(40,40,40,0.5)" stroke-width="0.7"/>
<rect x="1043.16" y="170.41" width="8.20" height="64.19" fill="#3776bb" stroke="rgba(40,40,40,0.5)" stroke-width="0.7"/>
<line x1="942.98" x2="942.98" y1="230.19" y2="228.40" stroke="#2c2c2c" stroke-width="1.1"/>
<line x1="938.48" x2="947.48" y1="228.40" y2="228.40" stroke="#2c2c2c" stroke-width="1.1"/>
<line x1="961.94" x2="961.94" y1="214.49" y2="207.29" stroke="#2c2c2c" stroke-width="1.1"/>
<line x1="957.44" x2="966.44" y1="207.29" y2="207.29" stroke="#2c2c2c" stroke-width="1.1"/>
<line x1="971.42" x2="971.42" y1="222.31" y2="218.21" stroke="#2c2c2c" stroke-width="1.1"/>
<line x1="966.92" x2="975.92" y1="218.21" y2="218.21" stroke="#2c2c2c" stroke-width="1.1"/>
<line x1="980.90" x2="980.90" y1="227.25" y2="223.88" stroke="#2c2c2c" stroke-width="1.1"/>
<line x1="976.40" x2="985.40" y1="223.88" y2="223.88" stroke="#2c2c2c" stroke-width="1.1"/>
<line x1="990.38" x2="990.38" y1="198.11" y2="195.00" stroke="#2c2c2c" stroke-width="1.1"/>
<line x1="985.88" x2="994.88" y1="195.00" y2="195.00" stroke="#2c2c2c" stroke-width="1.1"/>
<line x1="999.86" x2="999.86" y1="216.32" y2="213.17" stroke="#2c2c2c" stroke-width="1.1"/>
<line x1="995.36" x2="1004.36" y1="213.17" y2="213.17" stroke="#2c2c2c" stroke-width="1.1"/>
<line x1="1009.34" x2="1009.34" y1="207.81" y2="203.61" stroke="#2c2c2c" stroke-width="1.1"/>
<line x1="1004.84" x2="1013.84" y1="203.61" y2="203.61" stroke="#2c2c2c" stroke-width="1.1"/>
<line x1="1018.82" x2="1018.82" y1="82.59" y2="63.24" stroke="#2c2c2c" stroke-width="1.1"/>
<line x1="1014.32" x2="1023.32" y1="63.24" y2="63.24" stroke="#2c2c2c" stroke-width="1.1"/>
<line x1="1028.30" x2="1028.30" y1="207.39" y2="202.31" stroke="#2c2c2c" stroke-width="1.1"/>
<line x1="1023.80" x2="1032.80" y1="202.31" y2="202.31" stroke="#2c2c2c" stroke-width="1.1"/>
<line x1="1037.78" x2="1037.78" y1="216.32" y2="214.49" stroke="#2c2c2c" stroke-width="1.1"/>
<line x1="1033.28" x2="1042.28" y1="214.49" y2="214.49" stroke="#2c2c2c" stroke-width="1.1"/>
<line x1="1047.26" x2="1047.26" y1="170.41" y2="161.30" stroke="#2c2c2c" stroke-width="1.1"/>
<line x1="1042.76" x2="1051.76" y1="161.30" y2="161.30" stroke="#2c2c2c" stroke-width="1.1"/>
</g>
<rect x="922.6" y="62.3" width="136.10" height="175.00" fill="none" stroke="#2e2e2e" stroke-width="1.3"/>
<line x1="916.60" x2="922.6" y1="234.60" y2="234.60" stroke="#222" stroke-width="1"/>
<text x="912.00" y="238.34" text-anchor="end" font-size="10.4" textLength="5.78" lengthAdjust="spacingAndGlyphs" fill="#1a1a1a">0</text>
<line x1="916.60" x2="922.6" y1="192.58" y2="192.58" stroke="#222" stroke-width="1"/>
<text x="912.00" y="196.32" text-anchor="end" font-size="10.4" textLength="17.35" lengthAdjust="spacingAndGlyphs" fill="#1a1a1a">200</text>
<line x1="916.60" x2="922.6" y1="150.56" y2="150.56" stroke="#222" stroke-width="1"/>
<text x="912.00" y="154.30" text-anchor="end" font-size="10.4" textLength="17.35" lengthAdjust="spacingAndGlyphs" fill="#1a1a1a">400</text>
<line x1="916.60" x2="922.6" y1="108.54" y2="108.54" stroke="#222" stroke-width="1"/>
<text x="912.00" y="112.28" text-anchor="end" font-size="10.4" textLength="17.35" lengthAdjust="spacingAndGlyphs" fill="#1a1a1a">600</text>
<line x1="916.60" x2="922.6" y1="66.52" y2="66.52" stroke="#222" stroke-width="1"/>
<text x="912.00" y="70.26" text-anchor="end" font-size="10.4" textLength="17.35" lengthAdjust="spacingAndGlyphs" fill="#1a1a1a">800</text>
<line x1="933.50" x2="933.50" y1="237.3" y2="243.8" stroke="#333" stroke-width="1.1"/>
<text transform="translate(936.30,247.80) rotate(-90)" text-anchor="end" font-size="11" textLength="17.60" lengthAdjust="spacingAndGlyphs" fill="#1a1a1a">SCR</text>
<line x1="952.46" x2="952.46" y1="237.3" y2="243.8" stroke="#333" stroke-width="1.1"/>
<text transform="translate(955.26,247.80) rotate(-90)" text-anchor="end" font-size="11" textLength="25.17" lengthAdjust="spacingAndGlyphs" fill="#1a1a1a">C2D7</text>
<line x1="971.42" x2="971.42" y1="237.3" y2="243.8" stroke="#333" stroke-width="1.1"/>
<text transform="translate(974.22,247.80) rotate(-90)" text-anchor="end" font-size="11" textLength="25.17" lengthAdjust="spacingAndGlyphs" fill="#1a1a1a">C4D7</text>
<line x1="990.38" x2="990.38" y1="237.3" y2="243.8" stroke="#333" stroke-width="1.1"/>
<text transform="translate(993.18,247.80) rotate(-90)" text-anchor="end" font-size="11" textLength="25.17" lengthAdjust="spacingAndGlyphs" fill="#1a1a1a">C6D7</text>
<line x1="1009.34" x2="1009.34" y1="237.3" y2="243.8" stroke="#333" stroke-width="1.1"/>
<text transform="translate(1012.14,247.80) rotate(-90)" text-anchor="end" font-size="11" textLength="25.17" lengthAdjust="spacingAndGlyphs" fill="#1a1a1a">C8D7</text>
<line x1="1028.30" x2="1028.30" y1="237.3" y2="243.8" stroke="#333" stroke-width="1.1"/>
<text transform="translate(1031.10,247.80) rotate(-90)" text-anchor="end" font-size="11" textLength="30.64" lengthAdjust="spacingAndGlyphs" fill="#1a1a1a">C10D7</text>
<line x1="1047.26" x2="1047.26" y1="237.3" y2="243.8" stroke="#333" stroke-width="1.1"/>
<text transform="translate(1050.06,247.80) rotate(-90)" text-anchor="end" font-size="11" textLength="30.64" lengthAdjust="spacingAndGlyphs" fill="#1a1a1a">C12D7</text>
<text x="990.50" y="53.80" text-anchor="middle" font-size="10" textLength="16.80" lengthAdjust="spacingAndGlyphs" fill="#1a1a1a">LLO</text>
<text x="997.60" y="304.40" text-anchor="middle" font-size="10.5" textLength="20.30" lengthAdjust="spacingAndGlyphs" fill="#1a1a1a">Visit</text>
<clipPath id="c9"><rect x="1122.6" y="62.3" width="138.70" height="175.00"/></clipPath>
<g clip-path="url(#c9)">
<line x1="1122.6" x2="1261.3" y1="160.40" y2="160.40" stroke="#a4a4a4" stroke-width="1"/>
<rect x="1129.40" y="160.40" width="8.60" height="5.35" fill="#ee4d5b" stroke="rgba(40,40,40,0.5)" stroke-width="0.7"/>
<rect x="1139.08" y="160.40" width="8.60" height="5.35" fill="#ee4d5b" stroke="rgba(40,40,40,0.5)" stroke-width="0.7"/>
<rect x="1148.75" y="160.40" width="8.60" height="16.04" fill="#ee4d5b" stroke="rgba(40,40,40,0.5)" stroke-width="0.7"/>
<rect x="1168.10" y="160.40" width="8.60" height="10.89" fill="#ee4d5b" stroke="rgba(40,40,40,0.5)" stroke-width="0.7"/>
<rect x="1177.78" y="160.40" width="8.60" height="16.04" fill="#ee4d5b" stroke="rgba(40,40,40,0.5)" stroke-width="0.7"/>
<rect x="1187.45" y="160.40" width="8.60" height="75.33" fill="#ee4d5b" stroke="rgba(40,40,40,0.5)" stroke-width="0.7"/>
<rect x="1197.12" y="160.40" width="8.60" height="26.97" fill="#ee4d5b" stroke="rgba(40,40,40,0.5)" stroke-width="0.7"/>
<rect x="1206.80" y="154.57" width="8.60" height="5.83" fill="#ee4d5b" stroke="rgba(40,40,40,0.5)" stroke-width="0.7"/>
<rect x="1216.48" y="160.40" width="8.60" height="32.22" fill="#ee4d5b" stroke="rgba(40,40,40,0.5)" stroke-width="0.7"/>
<rect x="1226.15" y="128.08" width="8.60" height="32.32" fill="#ee4d5b" stroke="rgba(40,40,40,0.5)" stroke-width="0.7"/>
<rect x="1235.83" y="160.40" width="8.60" height="37.91" fill="#ee4d5b" stroke="rgba(40,40,40,0.5)" stroke-width="0.7"/>
<rect x="1245.50" y="144.36" width="8.60" height="16.04" fill="#ee4d5b" stroke="rgba(40,40,40,0.5)" stroke-width="0.7"/>
<line x1="1133.70" x2="1133.70" y1="165.75" y2="156.41" stroke="#2c2c2c" stroke-width="1.1"/>
<line x1="1129.20" x2="1138.20" y1="156.41" y2="156.41" stroke="#2c2c2c" stroke-width="1.1"/>
<line x1="1143.38" x2="1143.38" y1="165.75" y2="92.85" stroke="#2c2c2c" stroke-width="1.1"/>
<line x1="1138.88" x2="1147.88" y1="92.85" y2="92.85" stroke="#2c2c2c" stroke-width="1.1"/>
<line x1="1153.05" x2="1153.05" y1="176.44" y2="151.17" stroke="#2c2c2c" stroke-width="1.1"/>
<line x1="1148.55" x2="1157.55" y1="151.17" y2="151.17" stroke="#2c2c2c" stroke-width="1.1"/>
<line x1="1162.73" x2="1162.73" y1="160.40" y2="150.68" stroke="#2c2c2c" stroke-width="1.1"/>
<line x1="1158.23" x2="1167.23" y1="150.68" y2="150.68" stroke="#2c2c2c" stroke-width="1.1"/>
<line x1="1172.40" x2="1172.40" y1="171.29" y2="154.91" stroke="#2c2c2c" stroke-width="1.1"/>
<line x1="1167.90" x2="1176.90" y1="154.91" y2="154.91" stroke="#2c2c2c" stroke-width="1.1"/>
<line x1="1182.08" x2="1182.08" y1="176.44" y2="166.72" stroke="#2c2c2c" stroke-width="1.1"/>
<line x1="1177.58" x2="1186.58" y1="166.72" y2="166.72" stroke="#2c2c2c" stroke-width="1.1"/>
<line x1="1191.75" x2="1191.75" y1="235.73" y2="189.07" stroke="#2c2c2c" stroke-width="1.1"/>
<line x1="1187.25" x2="1196.25" y1="189.07" y2="189.07" stroke="#2c2c2c" stroke-width="1.1"/>
<line x1="1201.42" x2="1201.42" y1="187.37" y2="178.19" stroke="#2c2c2c" stroke-width="1.1"/>
<line x1="1196.92" x2="1205.92" y1="178.19" y2="178.19" stroke="#2c2c2c" stroke-width="1.1"/>
<line x1="1211.10" x2="1211.10" y1="154.57" y2="112.29" stroke="#2c2c2c" stroke-width="1.1"/>
<line x1="1206.60" x2="1215.60" y1="112.29" y2="112.29" stroke="#2c2c2c" stroke-width="1.1"/>
<line x1="1220.78" x2="1220.78" y1="192.62" y2="118.60" stroke="#2c2c2c" stroke-width="1.1"/>
<line x1="1216.28" x2="1225.28" y1="118.60" y2="118.60" stroke="#2c2c2c" stroke-width="1.1"/>
<line x1="1230.45" x2="1230.45" y1="128.08" y2="76.32" stroke="#2c2c2c" stroke-width="1.1"/>
<line x1="1225.95" x2="1234.95" y1="76.32" y2="76.32" stroke="#2c2c2c" stroke-width="1.1"/>
<line x1="1240.12" x2="1240.12" y1="198.31" y2="160.40" stroke="#2c2c2c" stroke-width="1.1"/>
<line x1="1235.62" x2="1244.62" y1="160.40" y2="160.40" stroke="#2c2c2c" stroke-width="1.1"/>
<line x1="1249.80" x2="1249.80" y1="144.36" y2="103.54" stroke="#2c2c2c" stroke-width="1.1"/>
<line x1="1245.30" x2="1254.30" y1="103.54" y2="103.54" stroke="#2c2c2c" stroke-width="1.1"/>
</g>
<rect x="1122.6" y="62.3" width="138.70" height="175.00" fill="none" stroke="#2e2e2e" stroke-width="1.3"/>
<line x1="1116.60" x2="1122.6" y1="209.00" y2="209.00" stroke="#222" stroke-width="1"/>
<text x="1112.00" y="212.82" text-anchor="end" font-size="10.6" textLength="15.32" lengthAdjust="spacingAndGlyphs" fill="#1a1a1a">-10</text>
<line x1="1116.60" x2="1122.6" y1="160.40" y2="160.40" stroke="#222" stroke-width="1"/>
<text x="1112.00" y="164.22" text-anchor="end" font-size="10.6" textLength="5.89" lengthAdjust="spacingAndGlyphs" fill="#1a1a1a">0</text>
<line x1="1116.60" x2="1122.6" y1="111.80" y2="111.80" stroke="#222" stroke-width="1"/>
<text x="1112.00" y="115.62" text-anchor="end" font-size="10.6" textLength="11.79" lengthAdjust="spacingAndGlyphs" fill="#1a1a1a">10</text>
<line x1="1116.60" x2="1122.6" y1="63.20" y2="63.20" stroke="#222" stroke-width="1"/>
<text x="1112.00" y="67.02" text-anchor="end" font-size="10.6" textLength="11.79" lengthAdjust="spacingAndGlyphs" fill="#1a1a1a">20</text>
<line x1="1133.70" x2="1133.70" y1="237.3" y2="243.8" stroke="#333" stroke-width="1.1"/>
<text transform="translate(1136.50,247.80) rotate(-90)" text-anchor="end" font-size="11" textLength="17.60" lengthAdjust="spacingAndGlyphs" fill="#1a1a1a">SCR</text>
<line x1="1153.05" x2="1153.05" y1="237.3" y2="243.8" stroke="#333" stroke-width="1.1"/>
<text transform="translate(1155.85,247.80) rotate(-90)" text-anchor="end" font-size="11" textLength="25.17" lengthAdjust="spacingAndGlyphs" fill="#1a1a1a">C2D7</text>
<line x1="1172.40" x2="1172.40" y1="237.3" y2="243.8" stroke="#333" stroke-width="1.1"/>
<text transform="translate(1175.20,247.80) rotate(-90)" text-anchor="end" font-size="11" textLength="25.17" lengthAdjust="spacingAndGlyphs" fill="#1a1a1a">C4D7</text>
<line x1="1191.75" x2="1191.75" y1="237.3" y2="243.8" stroke="#333" stroke-width="1.1"/>
<text transform="translate(1194.55,247.80) rotate(-90)" text-anchor="end" font-size="11" textLength="25.17" lengthAdjust="spacingAndGlyphs" fill="#1a1a1a">C6D7</text>
<line x1="1211.10" x2="1211.10" y1="237.3" y2="243.8" stroke="#333" stroke-width="1.1"/>
<text transform="translate(1213.90,247.80) rotate(-90)" text-anchor="end" font-size="11" textLength="25.17" lengthAdjust="spacingAndGlyphs" fill="#1a1a1a">C8D7</text>
<line x1="1230.45" x2="1230.45" y1="237.3" y2="243.8" stroke="#333" stroke-width="1.1"/>
<text transform="translate(1233.25,247.80) rotate(-90)" text-anchor="end" font-size="11" textLength="30.64" lengthAdjust="spacingAndGlyphs" fill="#1a1a1a">C10D7</text>
<line x1="1249.80" x2="1249.80" y1="237.3" y2="243.8" stroke="#333" stroke-width="1.1"/>
<text transform="translate(1252.60,247.80) rotate(-90)" text-anchor="end" font-size="11" textLength="30.64" lengthAdjust="spacingAndGlyphs" fill="#1a1a1a">C12D7</text>
<text x="1191.80" y="53.80" text-anchor="middle" font-size="10" textLength="34.50" lengthAdjust="spacingAndGlyphs" fill="#1a1a1a">NKX3.1</text>
<text x="1198.20" y="304.40" text-anchor="middle" font-size="10.5" textLength="20.30" lengthAdjust="spacingAndGlyphs" fill="#1a1a1a">Visit</text>
<clipPath id="c10"><rect x="718.9" y="357.7" width="138.40" height="175.20"/></clipPath>
<g clip-path="url(#c10)">
<line x1="718.9" x2="857.3" y1="467.10" y2="467.10" stroke="#a4a4a4" stroke-width="1"/>
<rect x="726.10" y="467.10" width="8.20" height="37.51" fill="#3bb619" stroke="rgba(40,40,40,0.5)" stroke-width="0.7"/>
<rect x="735.71" y="467.10" width="8.20" height="48.40" fill="#3bb619" stroke="rgba(40,40,40,0.5)" stroke-width="0.7"/>
<rect x="745.32" y="467.10" width="8.20" height="5.42" fill="#3bb619" stroke="rgba(40,40,40,0.5)" stroke-width="0.7"/>
<rect x="754.93" y="467.10" width="8.20" height="5.42" fill="#3bb619" stroke="rgba(40,40,40,0.5)" stroke-width="0.7"/>
<rect x="764.54" y="467.10" width="8.20" height="5.42" fill="#3bb619" stroke="rgba(40,40,40,0.5)" stroke-width="0.7"/>
<rect x="774.15" y="467.10" width="8.20" height="27.30" fill="#3bb619" stroke="rgba(40,40,40,0.5)" stroke-width="0.7"/>
<rect x="783.76" y="467.10" width="8.20" height="64.37" fill="#3bb619" stroke="rgba(40,40,40,0.5)" stroke-width="0.7"/>
<rect x="793.37" y="467.10" width="8.20" height="37.51" fill="#3bb619" stroke="rgba(40,40,40,0.5)" stroke-width="0.7"/>
<rect x="802.98" y="467.10" width="8.20" height="10.50" fill="#3bb619" stroke="rgba(40,40,40,0.5)" stroke-width="0.7"/>
<rect x="812.59" y="467.10" width="8.20" height="48.40" fill="#3bb619" stroke="rgba(40,40,40,0.5)" stroke-width="0.7"/>
<rect x="822.20" y="467.10" width="8.20" height="27.30" fill="#3bb619" stroke="rgba(40,40,40,0.5)" stroke-width="0.7"/>
<rect x="831.81" y="467.10" width="8.20" height="5.42" fill="#3bb619" stroke="rgba(40,40,40,0.5)" stroke-width="0.7"/>
<rect x="841.42" y="392.08" width="8.20" height="75.02" fill="#3bb619" stroke="rgba(40,40,40,0.5)" stroke-width="0.7"/>
<line x1="730.20" x2="730.20" y1="504.61" y2="452.68" stroke="#2c2c2c" stroke-width="1.1"/>
<line x1="725.70" x2="734.70" y1="452.68" y2="452.68" stroke="#2c2c2c" stroke-width="1.1"/>
<line x1="739.81" x2="739.81" y1="515.50" y2="459.11" stroke="#2c2c2c" stroke-width="1.1"/>
<line x1="735.31" x2="744.31" y1="459.11" y2="459.11" stroke="#2c2c2c" stroke-width="1.1"/>
<line x1="749.42" x2="749.42" y1="472.52" y2="444.50" stroke="#2c2c2c" stroke-width="1.1"/>
<line x1="744.92" x2="753.92" y1="444.50" y2="444.50" stroke="#2c2c2c" stroke-width="1.1"/>
<line x1="759.03" x2="759.03" y1="472.52" y2="454.32" stroke="#2c2c2c" stroke-width="1.1"/>
<line x1="754.53" x2="763.53" y1="454.32" y2="454.32" stroke="#2c2c2c" stroke-width="1.1"/>
<line x1="768.64" x2="768.64" y1="472.52" y2="454.32" stroke="#2c2c2c" stroke-width="1.1"/>
<line x1="764.14" x2="773.14" y1="454.32" y2="454.32" stroke="#2c2c2c" stroke-width="1.1"/>
<line x1="778.25" x2="778.25" y1="494.40" y2="484.38" stroke="#2c2c2c" stroke-width="1.1"/>
<line x1="773.75" x2="782.75" y1="484.38" y2="484.38" stroke="#2c2c2c" stroke-width="1.1"/>
<line x1="787.86" x2="787.86" y1="531.47" y2="490.82" stroke="#2c2c2c" stroke-width="1.1"/>
<line x1="783.36" x2="792.36" y1="490.82" y2="490.82" stroke="#2c2c2c" stroke-width="1.1"/>
<line x1="797.47" x2="797.47" y1="504.61" y2="495.32" stroke="#2c2c2c" stroke-width="1.1"/>
<line x1="792.97" x2="801.97" y1="495.32" y2="495.32" stroke="#2c2c2c" stroke-width="1.1"/>
<line x1="807.08" x2="807.08" y1="477.60" y2="461.58" stroke="#2c2c2c" stroke-width="1.1"/>
<line x1="802.58" x2="811.58" y1="461.58" y2="461.58" stroke="#2c2c2c" stroke-width="1.1"/>
<line x1="816.69" x2="816.69" y1="515.50" y2="457.18" stroke="#2c2c2c" stroke-width="1.1"/>
<line x1="812.19" x2="821.19" y1="457.18" y2="457.18" stroke="#2c2c2c" stroke-width="1.1"/>
<line x1="826.30" x2="826.30" y1="494.40" y2="437.48" stroke="#2c2c2c" stroke-width="1.1"/>
<line x1="821.80" x2="830.80" y1="437.48" y2="437.48" stroke="#2c2c2c" stroke-width="1.1"/>
<line x1="835.91" x2="835.91" y1="472.52" y2="463.42" stroke="#2c2c2c" stroke-width="1.1"/>
<line x1="831.41" x2="840.41" y1="463.42" y2="463.42" stroke="#2c2c2c" stroke-width="1.1"/>
<line x1="845.52" x2="845.52" y1="392.08" y2="359.65" stroke="#2c2c2c" stroke-width="1.1"/>
<line x1="841.02" x2="850.02" y1="359.65" y2="359.65" stroke="#2c2c2c" stroke-width="1.1"/>
</g>
<rect x="718.9" y="357.7" width="138.40" height="175.20" fill="none" stroke="#2e2e2e" stroke-width="1.3"/>
<line x1="712.90" x2="718.9" y1="515.50" y2="515.50" stroke="#222" stroke-width="1"/>
<text x="708.30" y="519.32" text-anchor="end" font-size="10.6" textLength="15.32" lengthAdjust="spacingAndGlyphs" fill="#1a1a1a">-10</text>
<line x1="712.90" x2="718.9" y1="467.10" y2="467.10" stroke="#222" stroke-width="1"/>
<text x="708.30" y="470.92" text-anchor="end" font-size="10.6" textLength="5.89" lengthAdjust="spacingAndGlyphs" fill="#1a1a1a">0</text>
<line x1="712.90" x2="718.9" y1="418.70" y2="418.70" stroke="#222" stroke-width="1"/>
<text x="708.30" y="422.52" text-anchor="end" font-size="10.6" textLength="11.79" lengthAdjust="spacingAndGlyphs" fill="#1a1a1a">10</text>
<line x1="712.90" x2="718.9" y1="370.30" y2="370.30" stroke="#222" stroke-width="1"/>
<text x="708.30" y="374.12" text-anchor="end" font-size="10.6" textLength="11.79" lengthAdjust="spacingAndGlyphs" fill="#1a1a1a">20</text>
<line x1="730.20" x2="730.20" y1="532.9" y2="539.4" stroke="#333" stroke-width="1.1"/>
<text transform="translate(733.00,543.40) rotate(-90)" text-anchor="end" font-size="11" textLength="17.60" lengthAdjust="spacingAndGlyphs" fill="#1a1a1a">SCR</text>
<line x1="749.42" x2="749.42" y1="532.9" y2="539.4" stroke="#333" stroke-width="1.1"/>
<text transform="translate(752.22,543.40) rotate(-90)" text-anchor="end" font-size="11" textLength="25.17" lengthAdjust="spacingAndGlyphs" fill="#1a1a1a">C2D7</text>
<line x1="768.64" x2="768.64" y1="532.9" y2="539.4" stroke="#333" stroke-width="1.1"/>
<text transform="translate(771.44,543.40) rotate(-90)" text-anchor="end" font-size="11" textLength="25.17" lengthAdjust="spacingAndGlyphs" fill="#1a1a1a">C4D7</text>
<line x1="787.86" x2="787.86" y1="532.9" y2="539.4" stroke="#333" stroke-width="1.1"/>
<text transform="translate(790.66,543.40) rotate(-90)" text-anchor="end" font-size="11" textLength="25.17" lengthAdjust="spacingAndGlyphs" fill="#1a1a1a">C6D7</text>
<line x1="807.08" x2="807.08" y1="532.9" y2="539.4" stroke="#333" stroke-width="1.1"/>
<text transform="translate(809.88,543.40) rotate(-90)" text-anchor="end" font-size="11" textLength="25.17" lengthAdjust="spacingAndGlyphs" fill="#1a1a1a">C8D7</text>
<line x1="826.30" x2="826.30" y1="532.9" y2="539.4" stroke="#333" stroke-width="1.1"/>
<text transform="translate(829.10,543.40) rotate(-90)" text-anchor="end" font-size="11" textLength="30.64" lengthAdjust="spacingAndGlyphs" fill="#1a1a1a">C10D7</text>
<line x1="845.52" x2="845.52" y1="532.9" y2="539.4" stroke="#333" stroke-width="1.1"/>
<text transform="translate(848.32,543.40) rotate(-90)" text-anchor="end" font-size="11" textLength="30.64" lengthAdjust="spacingAndGlyphs" fill="#1a1a1a">C12D7</text>
<text x="787.80" y="349.20" text-anchor="middle" font-size="10" textLength="17.30" lengthAdjust="spacingAndGlyphs" fill="#1a1a1a">PAP</text>
<text x="791.30" y="599.20" text-anchor="middle" font-size="10.5" textLength="20.30" lengthAdjust="spacingAndGlyphs" fill="#1a1a1a">Visit</text>
<text transform="translate(670.10,446.00) rotate(-90)" text-anchor="middle" font-size="12" fill="#1a1a1a" textLength="76.5" lengthAdjust="spacingAndGlyphs">SFC/10<tspan font-size="8.2" dx="1" dy="-4.3">6</tspan><tspan dy="4.3"> PBMC</tspan></text>
<clipPath id="c11"><rect x="916.9" y="357.9" width="142.30" height="175.30"/></clipPath>
<g clip-path="url(#c11)">
<line x1="916.9" x2="1059.2" y1="525.60" y2="525.60" stroke="#a4a4a4" stroke-width="1"/>
<rect x="924.20" y="445.39" width="8.40" height="80.21" fill="#3776bb" stroke="rgba(40,40,40,0.5)" stroke-width="0.7"/>
<rect x="934.12" y="519.22" width="8.40" height="6.38" fill="#3776bb" stroke="rgba(40,40,40,0.5)" stroke-width="0.7"/>
<rect x="944.04" y="500.80" width="8.40" height="24.80" fill="#3776bb" stroke="rgba(40,40,40,0.5)" stroke-width="0.7"/>
<rect x="953.95" y="482.22" width="8.40" height="43.38" fill="#3776bb" stroke="rgba(40,40,40,0.5)" stroke-width="0.7"/>
<rect x="963.87" y="513.17" width="8.40" height="12.43" fill="#3776bb" stroke="rgba(40,40,40,0.5)" stroke-width="0.7"/>
<rect x="973.79" y="482.22" width="8.40" height="43.38" fill="#3776bb" stroke="rgba(40,40,40,0.5)" stroke-width="0.7"/>
<rect x="983.71" y="525.60" width="8.40" height="6.38" fill="#3776bb" stroke="rgba(40,40,40,0.5)" stroke-width="0.7"/>
<rect x="993.63" y="506.80" width="8.40" height="18.80" fill="#3776bb" stroke="rgba(40,40,40,0.5)" stroke-width="0.7"/>
<rect x="1003.54" y="470.41" width="8.40" height="55.19" fill="#3776bb" stroke="rgba(40,40,40,0.5)" stroke-width="0.7"/>
<rect x="1013.46" y="445.39" width="8.40" height="80.21" fill="#3776bb" stroke="rgba(40,40,40,0.5)" stroke-width="0.7"/>
<rect x="1023.38" y="482.22" width="8.40" height="43.38" fill="#3776bb" stroke="rgba(40,40,40,0.5)" stroke-width="0.7"/>
<rect x="1033.30" y="507.41" width="8.40" height="18.19" fill="#3776bb" stroke="rgba(40,40,40,0.5)" stroke-width="0.7"/>
<rect x="1043.22" y="513.17" width="8.40" height="12.43" fill="#3776bb" stroke="rgba(40,40,40,0.5)" stroke-width="0.7"/>
<line x1="928.40" x2="928.40" y1="445.39" y2="371.39" stroke="#2c2c2c" stroke-width="1.1"/>
<line x1="923.90" x2="932.90" y1="371.39" y2="371.39" stroke="#2c2c2c" stroke-width="1.1"/>
<line x1="938.32" x2="938.32" y1="519.22" y2="434.63" stroke="#2c2c2c" stroke-width="1.1"/>
<line x1="933.82" x2="942.82" y1="434.63" y2="434.63" stroke="#2c2c2c" stroke-width="1.1"/>
<line x1="948.24" x2="948.24" y1="500.80" y2="454.60" stroke="#2c2c2c" stroke-width="1.1"/>
<line x1="943.74" x2="952.74" y1="454.60" y2="454.60" stroke="#2c2c2c" stroke-width="1.1"/>
<line x1="958.15" x2="958.15" y1="482.22" y2="450.72" stroke="#2c2c2c" stroke-width="1.1"/>
<line x1="953.65" x2="962.65" y1="450.72" y2="450.72" stroke="#2c2c2c" stroke-width="1.1"/>
<line x1="968.07" x2="968.07" y1="513.17" y2="484.89" stroke="#2c2c2c" stroke-width="1.1"/>
<line x1="963.57" x2="972.57" y1="484.89" y2="484.89" stroke="#2c2c2c" stroke-width="1.1"/>
<line x1="977.99" x2="977.99" y1="482.22" y2="423.54" stroke="#2c2c2c" stroke-width="1.1"/>
<line x1="973.49" x2="982.49" y1="423.54" y2="423.54" stroke="#2c2c2c" stroke-width="1.1"/>
<line x1="987.91" x2="987.91" y1="531.98" y2="512.84" stroke="#2c2c2c" stroke-width="1.1"/>
<line x1="983.41" x2="992.41" y1="512.84" y2="512.84" stroke="#2c2c2c" stroke-width="1.1"/>
<line x1="997.83" x2="997.83" y1="506.80" y2="506.80" stroke="#2c2c2c" stroke-width="1.1"/>
<line x1="993.33" x2="1002.33" y1="506.80" y2="506.80" stroke="#2c2c2c" stroke-width="1.1"/>
<line x1="1007.74" x2="1007.74" y1="470.41" y2="459.59" stroke="#2c2c2c" stroke-width="1.1"/>
<line x1="1003.24" x2="1012.24" y1="459.59" y2="459.59" stroke="#2c2c2c" stroke-width="1.1"/>
<line x1="1017.66" x2="1017.66" y1="445.39" y2="386.37" stroke="#2c2c2c" stroke-width="1.1"/>
<line x1="1013.16" x2="1022.16" y1="386.37" y2="386.37" stroke="#2c2c2c" stroke-width="1.1"/>
<line x1="1027.58" x2="1027.58" y1="482.22" y2="397.46" stroke="#2c2c2c" stroke-width="1.1"/>
<line x1="1023.08" x2="1032.08" y1="397.46" y2="397.46" stroke="#2c2c2c" stroke-width="1.1"/>
<line x1="1037.50" x2="1037.50" y1="507.41" y2="496.42" stroke="#2c2c2c" stroke-width="1.1"/>
<line x1="1033.00" x2="1042.00" y1="496.42" y2="496.42" stroke="#2c2c2c" stroke-width="1.1"/>
<line x1="1047.42" x2="1047.42" y1="513.17" y2="421.32" stroke="#2c2c2c" stroke-width="1.1"/>
<line x1="1042.92" x2="1051.92" y1="421.32" y2="421.32" stroke="#2c2c2c" stroke-width="1.1"/>
</g>
<rect x="916.9" y="357.9" width="142.30" height="175.30" fill="none" stroke="#2e2e2e" stroke-width="1.3"/>
<line x1="910.90" x2="916.9" y1="525.60" y2="525.60" stroke="#222" stroke-width="1"/>
<text x="906.30" y="529.42" text-anchor="end" font-size="10.6" textLength="5.89" lengthAdjust="spacingAndGlyphs" fill="#1a1a1a">0</text>
<line x1="910.90" x2="916.9" y1="470.13" y2="470.13" stroke="#222" stroke-width="1"/>
<text x="906.30" y="473.95" text-anchor="end" font-size="10.6" textLength="11.79" lengthAdjust="spacingAndGlyphs" fill="#1a1a1a">10</text>
<line x1="910.90" x2="916.9" y1="414.66" y2="414.66" stroke="#222" stroke-width="1"/>
<text x="906.30" y="418.48" text-anchor="end" font-size="10.6" textLength="11.79" lengthAdjust="spacingAndGlyphs" fill="#1a1a1a">20</text>
<line x1="910.90" x2="916.9" y1="359.19" y2="359.19" stroke="#222" stroke-width="1"/>
<text x="906.30" y="363.01" text-anchor="end" font-size="10.6" textLength="11.79" lengthAdjust="spacingAndGlyphs" fill="#1a1a1a">30</text>
<line x1="928.40" x2="928.40" y1="533.2" y2="539.7" stroke="#333" stroke-width="1.1"/>
<text transform="translate(931.20,543.70) rotate(-90)" text-anchor="end" font-size="11" textLength="17.60" lengthAdjust="spacingAndGlyphs" fill="#1a1a1a">SCR</text>
<line x1="948.24" x2="948.24" y1="533.2" y2="539.7" stroke="#333" stroke-width="1.1"/>
<text transform="translate(951.04,543.70) rotate(-90)" text-anchor="end" font-size="11" textLength="25.17" lengthAdjust="spacingAndGlyphs" fill="#1a1a1a">C2D7</text>
<line x1="968.07" x2="968.07" y1="533.2" y2="539.7" stroke="#333" stroke-width="1.1"/>
<text transform="translate(970.87,543.70) rotate(-90)" text-anchor="end" font-size="11" textLength="25.17" lengthAdjust="spacingAndGlyphs" fill="#1a1a1a">C4D7</text>
<line x1="987.91" x2="987.91" y1="533.2" y2="539.7" stroke="#333" stroke-width="1.1"/>
<text transform="translate(990.71,543.70) rotate(-90)" text-anchor="end" font-size="11" textLength="25.17" lengthAdjust="spacingAndGlyphs" fill="#1a1a1a">C6D7</text>
<line x1="1007.74" x2="1007.74" y1="533.2" y2="539.7" stroke="#333" stroke-width="1.1"/>
<text transform="translate(1010.54,543.70) rotate(-90)" text-anchor="end" font-size="11" textLength="25.17" lengthAdjust="spacingAndGlyphs" fill="#1a1a1a">C8D7</text>
<line x1="1027.58" x2="1027.58" y1="533.2" y2="539.7" stroke="#333" stroke-width="1.1"/>
<text transform="translate(1030.38,543.70) rotate(-90)" text-anchor="end" font-size="11" textLength="30.64" lengthAdjust="spacingAndGlyphs" fill="#1a1a1a">C10D7</text>
<line x1="1047.42" x2="1047.42" y1="533.2" y2="539.7" stroke="#333" stroke-width="1.1"/>
<text transform="translate(1050.22,543.70) rotate(-90)" text-anchor="end" font-size="11" textLength="30.64" lengthAdjust="spacingAndGlyphs" fill="#1a1a1a">C12D7</text>
<text x="988.00" y="349.20" text-anchor="middle" font-size="10" textLength="28.30" lengthAdjust="spacingAndGlyphs" fill="#1a1a1a">PSMA</text>
<text x="993.50" y="599.20" text-anchor="middle" font-size="10.5" textLength="20.30" lengthAdjust="spacingAndGlyphs" fill="#1a1a1a">Visit</text>
<clipPath id="c12"><rect x="1122.6" y="357.9" width="138.30" height="175.00"/></clipPath>
<g clip-path="url(#c12)">
<line x1="1122.6" x2="1260.9" y1="478.60" y2="478.60" stroke="#a4a4a4" stroke-width="1"/>
<rect x="1130.50" y="478.60" width="8.20" height="13.30" fill="#ee4d5b" stroke="rgba(40,40,40,0.5)" stroke-width="0.7"/>
<rect x="1149.64" y="478.60" width="8.20" height="8.73" fill="#ee4d5b" stroke="rgba(40,40,40,0.5)" stroke-width="0.7"/>
<rect x="1159.20" y="456.37" width="8.20" height="22.23" fill="#ee4d5b" stroke="rgba(40,40,40,0.5)" stroke-width="0.7"/>
<rect x="1168.77" y="456.37" width="8.20" height="22.23" fill="#ee4d5b" stroke="rgba(40,40,40,0.5)" stroke-width="0.7"/>
<rect x="1178.34" y="430.17" width="8.20" height="48.43" fill="#ee4d5b" stroke="rgba(40,40,40,0.5)" stroke-width="0.7"/>
<rect x="1187.91" y="478.60" width="8.20" height="52.80" fill="#ee4d5b" stroke="rgba(40,40,40,0.5)" stroke-width="0.7"/>
<rect x="1197.48" y="474.39" width="8.20" height="4.21" fill="#ee4d5b" stroke="rgba(40,40,40,0.5)" stroke-width="0.7"/>
<rect x="1207.04" y="461.13" width="8.20" height="17.47" fill="#ee4d5b" stroke="rgba(40,40,40,0.5)" stroke-width="0.7"/>
<rect x="1216.61" y="461.13" width="8.20" height="17.47" fill="#ee4d5b" stroke="rgba(40,40,40,0.5)" stroke-width="0.7"/>
<rect x="1235.75" y="478.60" width="8.20" height="13.30" fill="#ee4d5b" stroke="rgba(40,40,40,0.5)" stroke-width="0.7"/>
<rect x="1245.32" y="452.08" width="8.20" height="26.52" fill="#ee4d5b" stroke="rgba(40,40,40,0.5)" stroke-width="0.7"/>
<line x1="1134.60" x2="1134.60" y1="491.90" y2="491.90" stroke="#2c2c2c" stroke-width="1.1"/>
<line x1="1130.10" x2="1139.10" y1="491.90" y2="491.90" stroke="#2c2c2c" stroke-width="1.1"/>
<line x1="1144.17" x2="1144.17" y1="478.60" y2="451.21" stroke="#2c2c2c" stroke-width="1.1"/>
<line x1="1139.67" x2="1148.67" y1="451.21" y2="451.21" stroke="#2c2c2c" stroke-width="1.1"/>
<line x1="1153.74" x2="1153.74" y1="487.33" y2="459.94" stroke="#2c2c2c" stroke-width="1.1"/>
<line x1="1149.24" x2="1158.24" y1="459.94" y2="459.94" stroke="#2c2c2c" stroke-width="1.1"/>
<line x1="1163.30" x2="1163.30" y1="456.37" y2="401.58" stroke="#2c2c2c" stroke-width="1.1"/>
<line x1="1158.80" x2="1167.80" y1="401.58" y2="401.58" stroke="#2c2c2c" stroke-width="1.1"/>
<line x1="1172.87" x2="1172.87" y1="456.37" y2="415.87" stroke="#2c2c2c" stroke-width="1.1"/>
<line x1="1168.37" x2="1177.37" y1="415.87" y2="415.87" stroke="#2c2c2c" stroke-width="1.1"/>
<line x1="1182.44" x2="1182.44" y1="430.17" y2="407.14" stroke="#2c2c2c" stroke-width="1.1"/>
<line x1="1177.94" x2="1186.94" y1="407.14" y2="407.14" stroke="#2c2c2c" stroke-width="1.1"/>
<line x1="1192.01" x2="1192.01" y1="531.40" y2="501.23" stroke="#2c2c2c" stroke-width="1.1"/>
<line x1="1187.51" x2="1196.51" y1="501.23" y2="501.23" stroke="#2c2c2c" stroke-width="1.1"/>
<line x1="1201.58" x2="1201.58" y1="474.39" y2="446.84" stroke="#2c2c2c" stroke-width="1.1"/>
<line x1="1197.08" x2="1206.08" y1="446.84" y2="446.84" stroke="#2c2c2c" stroke-width="1.1"/>
<line x1="1211.14" x2="1211.14" y1="461.13" y2="438.50" stroke="#2c2c2c" stroke-width="1.1"/>
<line x1="1206.64" x2="1215.64" y1="438.50" y2="438.50" stroke="#2c2c2c" stroke-width="1.1"/>
<line x1="1220.71" x2="1220.71" y1="461.13" y2="359.70" stroke="#2c2c2c" stroke-width="1.1"/>
<line x1="1216.21" x2="1225.21" y1="359.70" y2="359.70" stroke="#2c2c2c" stroke-width="1.1"/>
<line x1="1230.28" x2="1230.28" y1="478.60" y2="445.25" stroke="#2c2c2c" stroke-width="1.1"/>
<line x1="1225.78" x2="1234.78" y1="445.25" y2="445.25" stroke="#2c2c2c" stroke-width="1.1"/>
<line x1="1239.85" x2="1239.85" y1="491.90" y2="471.61" stroke="#2c2c2c" stroke-width="1.1"/>
<line x1="1235.35" x2="1244.35" y1="471.61" y2="471.61" stroke="#2c2c2c" stroke-width="1.1"/>
<line x1="1249.42" x2="1249.42" y1="452.08" y2="411.90" stroke="#2c2c2c" stroke-width="1.1"/>
<line x1="1244.92" x2="1253.92" y1="411.90" y2="411.90" stroke="#2c2c2c" stroke-width="1.1"/>
</g>
<rect x="1122.6" y="357.9" width="138.30" height="175.00" fill="none" stroke="#2e2e2e" stroke-width="1.3"/>
<line x1="1116.60" x2="1122.6" y1="518.30" y2="518.30" stroke="#222" stroke-width="1"/>
<text x="1112.00" y="522.12" text-anchor="end" font-size="10.6" textLength="15.32" lengthAdjust="spacingAndGlyphs" fill="#1a1a1a">-10</text>
<line x1="1116.60" x2="1122.6" y1="478.60" y2="478.60" stroke="#222" stroke-width="1"/>
<text x="1112.00" y="482.42" text-anchor="end" font-size="10.6" textLength="5.89" lengthAdjust="spacingAndGlyphs" fill="#1a1a1a">0</text>
<line x1="1116.60" x2="1122.6" y1="438.90" y2="438.90" stroke="#222" stroke-width="1"/>
<text x="1112.00" y="442.72" text-anchor="end" font-size="10.6" textLength="11.79" lengthAdjust="spacingAndGlyphs" fill="#1a1a1a">10</text>
<line x1="1116.60" x2="1122.6" y1="399.20" y2="399.20" stroke="#222" stroke-width="1"/>
<text x="1112.00" y="403.02" text-anchor="end" font-size="10.6" textLength="11.79" lengthAdjust="spacingAndGlyphs" fill="#1a1a1a">20</text>
<line x1="1116.60" x2="1122.6" y1="359.50" y2="359.50" stroke="#222" stroke-width="1"/>
<text x="1112.00" y="363.32" text-anchor="end" font-size="10.6" textLength="11.79" lengthAdjust="spacingAndGlyphs" fill="#1a1a1a">30</text>
<line x1="1134.60" x2="1134.60" y1="532.9" y2="539.4" stroke="#333" stroke-width="1.1"/>
<text transform="translate(1137.40,543.40) rotate(-90)" text-anchor="end" font-size="11" textLength="17.60" lengthAdjust="spacingAndGlyphs" fill="#1a1a1a">SCR</text>
<line x1="1153.74" x2="1153.74" y1="532.9" y2="539.4" stroke="#333" stroke-width="1.1"/>
<text transform="translate(1156.54,543.40) rotate(-90)" text-anchor="end" font-size="11" textLength="25.17" lengthAdjust="spacingAndGlyphs" fill="#1a1a1a">C2D7</text>
<line x1="1172.87" x2="1172.87" y1="532.9" y2="539.4" stroke="#333" stroke-width="1.1"/>
<text transform="translate(1175.67,543.40) rotate(-90)" text-anchor="end" font-size="11" textLength="25.17" lengthAdjust="spacingAndGlyphs" fill="#1a1a1a">C4D7</text>
<line x1="1192.01" x2="1192.01" y1="532.9" y2="539.4" stroke="#333" stroke-width="1.1"/>
<text transform="translate(1194.81,543.40) rotate(-90)" text-anchor="end" font-size="11" textLength="25.17" lengthAdjust="spacingAndGlyphs" fill="#1a1a1a">C6D7</text>
<line x1="1211.14" x2="1211.14" y1="532.9" y2="539.4" stroke="#333" stroke-width="1.1"/>
<text transform="translate(1213.94,543.40) rotate(-90)" text-anchor="end" font-size="11" textLength="25.17" lengthAdjust="spacingAndGlyphs" fill="#1a1a1a">C8D7</text>
<line x1="1230.28" x2="1230.28" y1="532.9" y2="539.4" stroke="#333" stroke-width="1.1"/>
<text transform="translate(1233.08,543.40) rotate(-90)" text-anchor="end" font-size="11" textLength="30.64" lengthAdjust="spacingAndGlyphs" fill="#1a1a1a">C10D7</text>
<line x1="1249.42" x2="1249.42" y1="532.9" y2="539.4" stroke="#333" stroke-width="1.1"/>
<text transform="translate(1252.22,543.40) rotate(-90)" text-anchor="end" font-size="11" textLength="30.64" lengthAdjust="spacingAndGlyphs" fill="#1a1a1a">C12D7</text>
<text x="1191.80" y="349.20" text-anchor="middle" font-size="10" textLength="22.20" lengthAdjust="spacingAndGlyphs" fill="#1a1a1a">SSX2</text>
<text x="1194.20" y="599.20" text-anchor="middle" font-size="10.5" textLength="20.30" lengthAdjust="spacingAndGlyphs" fill="#1a1a1a">Visit</text>
<clipPath id="c13"><rect x="61.6" y="696.5" width="134.70" height="180.80"/></clipPath>
<g clip-path="url(#c13)">
<line x1="61.6" x2="196.3" y1="876.00" y2="876.00" stroke="#a4a4a4" stroke-width="1"/>
<rect x="72.00" y="715.12" width="24.20" height="160.88" fill="#3bb619" stroke="rgba(40,40,40,0.5)" stroke-width="0.7"/>
<rect x="101.60" y="825.57" width="24.20" height="50.43" fill="#3bb619" stroke="rgba(40,40,40,0.5)" stroke-width="0.7"/>
<rect x="131.30" y="779.32" width="24.20" height="96.68" fill="#3bb619" stroke="rgba(40,40,40,0.5)" stroke-width="0.7"/>
<rect x="161.20" y="837.13" width="24.20" height="38.87" fill="#3bb619" stroke="rgba(40,40,40,0.5)" stroke-width="0.7"/>
<line x1="84.10" x2="84.10" y1="715.12" y2="698.39" stroke="#2c2c2c" stroke-width="1.1"/>
<line x1="79.60" x2="88.60" y1="698.39" y2="698.39" stroke="#2c2c2c" stroke-width="1.1"/>
<line x1="113.70" x2="113.70" y1="825.57" y2="812.29" stroke="#2c2c2c" stroke-width="1.1"/>
<line x1="109.20" x2="118.20" y1="812.29" y2="812.29" stroke="#2c2c2c" stroke-width="1.1"/>
<line x1="143.40" x2="143.40" y1="779.32" y2="773.42" stroke="#2c2c2c" stroke-width="1.1"/>
<line x1="138.90" x2="147.90" y1="773.42" y2="773.42" stroke="#2c2c2c" stroke-width="1.1"/>
<line x1="173.30" x2="173.30" y1="837.13" y2="833.20" stroke="#2c2c2c" stroke-width="1.1"/>
<line x1="168.80" x2="177.80" y1="833.20" y2="833.20" stroke="#2c2c2c" stroke-width="1.1"/>
</g>
<rect x="61.6" y="696.5" width="134.70" height="180.80" fill="none" stroke="#2e2e2e" stroke-width="1.3"/>
<line x1="55.60" x2="61.6" y1="876.00" y2="876.00" stroke="#222" stroke-width="1"/>
<text x="51.00" y="879.60" text-anchor="end" font-size="10" textLength="5.56" lengthAdjust="spacingAndGlyphs" fill="#1a1a1a">0</text>
<line x1="55.60" x2="61.6" y1="826.80" y2="826.80" stroke="#222" stroke-width="1"/>
<text x="51.00" y="830.40" text-anchor="end" font-size="10" textLength="16.68" lengthAdjust="spacingAndGlyphs" fill="#1a1a1a">200</text>
<line x1="55.60" x2="61.6" y1="777.60" y2="777.60" stroke="#222" stroke-width="1"/>
<text x="51.00" y="781.20" text-anchor="end" font-size="10" textLength="16.68" lengthAdjust="spacingAndGlyphs" fill="#1a1a1a">400</text>
<line x1="55.60" x2="61.6" y1="728.40" y2="728.40" stroke="#222" stroke-width="1"/>
<text x="51.00" y="732.00" text-anchor="end" font-size="10" textLength="16.68" lengthAdjust="spacingAndGlyphs" fill="#1a1a1a">600</text>
<line x1="82.10" x2="82.10" y1="877.3" y2="883.8" stroke="#333" stroke-width="1.1"/>
<text transform="translate(84.90,890.40) rotate(-90)" text-anchor="end" font-size="11" textLength="17.60" lengthAdjust="spacingAndGlyphs" fill="#1a1a1a">SCR</text>
<line x1="113.40" x2="113.40" y1="877.3" y2="883.8" stroke="#333" stroke-width="1.1"/>
<text transform="translate(116.20,887.40) rotate(-90)" text-anchor="end" font-size="11" textLength="25.17" lengthAdjust="spacingAndGlyphs" fill="#1a1a1a">C1D7</text>
<line x1="144.70" x2="144.70" y1="877.3" y2="883.8" stroke="#333" stroke-width="1.1"/>
<text transform="translate(147.50,887.40) rotate(-90)" text-anchor="end" font-size="11" textLength="25.17" lengthAdjust="spacingAndGlyphs" fill="#1a1a1a">C2D7</text>
<line x1="176.00" x2="176.00" y1="877.3" y2="883.8" stroke="#333" stroke-width="1.1"/>
<text transform="translate(178.80,887.40) rotate(-90)" text-anchor="end" font-size="11" textLength="25.17" lengthAdjust="spacingAndGlyphs" fill="#1a1a1a">C3D7</text>
<text x="128.90" y="688.70" text-anchor="middle" font-size="10" textLength="23.00" lengthAdjust="spacingAndGlyphs" fill="#1a1a1a">CEFT</text>
<text x="128.90" y="938.00" text-anchor="middle" font-size="10.5" textLength="20.30" lengthAdjust="spacingAndGlyphs" fill="#1a1a1a">Visit</text>
<text transform="translate(12.40,805.40) rotate(-90)" text-anchor="middle" font-size="12" fill="#1a1a1a" textLength="70" lengthAdjust="spacingAndGlyphs">SFC/10<tspan font-size="8.2" dx="1" dy="-4.3">6</tspan><tspan dy="4.3"> PBMC</tspan></text>
<clipPath id="c14"><rect x="255.6" y="696.5" width="141.60" height="180.80"/></clipPath>
<g clip-path="url(#c14)">
<line x1="255.6" x2="397.2" y1="857.80" y2="857.80" stroke="#a4a4a4" stroke-width="1"/>
<rect x="266.75" y="857.80" width="25.70" height="9.15" fill="#3776bb" stroke="rgba(40,40,40,0.5)" stroke-width="0.7"/>
<rect x="297.92" y="791.77" width="25.70" height="66.03" fill="#3776bb" stroke="rgba(40,40,40,0.5)" stroke-width="0.7"/>
<rect x="329.09" y="857.80" width="25.70" height="17.50" fill="#3776bb" stroke="rgba(40,40,40,0.5)" stroke-width="0.7"/>
<line x1="360.26" x2="385.96" y1="857.80" y2="857.80" stroke="#333" stroke-width="1"/>
<line x1="310.77" x2="310.77" y1="791.77" y2="697.90" stroke="#2c2c2c" stroke-width="1.1"/>
<line x1="306.27" x2="315.27" y1="697.90" y2="697.90" stroke="#2c2c2c" stroke-width="1.1"/>
<line x1="341.94" x2="341.94" y1="875.30" y2="861.46" stroke="#2c2c2c" stroke-width="1.1"/>
<line x1="337.44" x2="346.44" y1="861.46" y2="861.46" stroke="#2c2c2c" stroke-width="1.1"/>
<line x1="373.11" x2="373.11" y1="857.80" y2="842.92" stroke="#2c2c2c" stroke-width="1.1"/>
<line x1="368.61" x2="377.61" y1="842.92" y2="842.92" stroke="#2c2c2c" stroke-width="1.1"/>
</g>
<rect x="255.6" y="696.5" width="141.60" height="180.80" fill="none" stroke="#2e2e2e" stroke-width="1.3"/>
<line x1="249.60" x2="255.6" y1="857.80" y2="857.80" stroke="#222" stroke-width="1"/>
<text x="245.00" y="861.51" text-anchor="end" font-size="10.3" textLength="5.73" lengthAdjust="spacingAndGlyphs" fill="#1a1a1a">0</text>
<line x1="249.60" x2="255.6" y1="818.02" y2="818.02" stroke="#222" stroke-width="1"/>
<text x="245.00" y="821.73" text-anchor="end" font-size="10.3" textLength="5.73" lengthAdjust="spacingAndGlyphs" fill="#1a1a1a">5</text>
<line x1="249.60" x2="255.6" y1="778.25" y2="778.25" stroke="#222" stroke-width="1"/>
<text x="245.00" y="781.96" text-anchor="end" font-size="10.3" textLength="11.46" lengthAdjust="spacingAndGlyphs" fill="#1a1a1a">10</text>
<line x1="249.60" x2="255.6" y1="738.47" y2="738.47" stroke="#222" stroke-width="1"/>
<text x="245.00" y="742.18" text-anchor="end" font-size="10.3" textLength="11.46" lengthAdjust="spacingAndGlyphs" fill="#1a1a1a">15</text>
<line x1="249.60" x2="255.6" y1="698.70" y2="698.70" stroke="#222" stroke-width="1"/>
<text x="245.00" y="702.41" text-anchor="end" font-size="10.3" textLength="11.46" lengthAdjust="spacingAndGlyphs" fill="#1a1a1a">20</text>
<line x1="279.60" x2="279.60" y1="877.3" y2="883.8" stroke="#333" stroke-width="1.1"/>
<text transform="translate(282.40,890.70) rotate(-90)" text-anchor="end" font-size="11" textLength="17.60" lengthAdjust="spacingAndGlyphs" fill="#1a1a1a">SCR</text>
<line x1="310.77" x2="310.77" y1="877.3" y2="883.8" stroke="#333" stroke-width="1.1"/>
<text transform="translate(313.57,889.20) rotate(-90)" text-anchor="end" font-size="11" textLength="25.17" lengthAdjust="spacingAndGlyphs" fill="#1a1a1a">C1D7</text>
<line x1="341.94" x2="341.94" y1="877.3" y2="883.8" stroke="#333" stroke-width="1.1"/>
<text transform="translate(344.74,889.20) rotate(-90)" text-anchor="end" font-size="11" textLength="25.17" lengthAdjust="spacingAndGlyphs" fill="#1a1a1a">C2D7</text>
<line x1="373.11" x2="373.11" y1="877.3" y2="883.8" stroke="#333" stroke-width="1.1"/>
<text transform="translate(375.91,889.20) rotate(-90)" text-anchor="end" font-size="11" textLength="25.17" lengthAdjust="spacingAndGlyphs" fill="#1a1a1a">C3D7</text>
<text x="326.10" y="688.70" text-anchor="middle" font-size="10" textLength="16.80" lengthAdjust="spacingAndGlyphs" fill="#1a1a1a">LLO</text>
<text x="326.10" y="938.00" text-anchor="middle" font-size="10.5" textLength="20.30" lengthAdjust="spacingAndGlyphs" fill="#1a1a1a">Visit</text>
<clipPath id="c15"><rect x="464.3" y="696.5" width="134.40" height="180.80"/></clipPath>
<g clip-path="url(#c15)">
<line x1="464.3" x2="598.7" y1="792.20" y2="792.20" stroke="#a4a4a4" stroke-width="1"/>
<rect x="475.85" y="764.28" width="23.30" height="27.92" fill="#ee4d5b" stroke="rgba(40,40,40,0.5)" stroke-width="0.7"/>
<rect x="505.31" y="792.20" width="23.30" height="83.51" fill="#ee4d5b" stroke="rgba(40,40,40,0.5)" stroke-width="0.7"/>
<rect x="534.77" y="778.43" width="23.30" height="13.77" fill="#ee4d5b" stroke="rgba(40,40,40,0.5)" stroke-width="0.7"/>
<line x1="564.23" x2="587.53" y1="792.20" y2="792.20" stroke="#333" stroke-width="1"/>
<line x1="487.50" x2="487.50" y1="764.28" y2="722.59" stroke="#2c2c2c" stroke-width="1.1"/>
<line x1="483.00" x2="492.00" y1="722.59" y2="722.59" stroke="#2c2c2c" stroke-width="1.1"/>
<line x1="516.96" x2="516.96" y1="875.71" y2="698.30" stroke="#2c2c2c" stroke-width="1.1"/>
<line x1="512.46" x2="521.46" y1="698.30" y2="698.30" stroke="#2c2c2c" stroke-width="1.1"/>
<line x1="546.42" x2="546.42" y1="778.43" y2="729.85" stroke="#2c2c2c" stroke-width="1.1"/>
<line x1="541.92" x2="550.92" y1="729.85" y2="729.85" stroke="#2c2c2c" stroke-width="1.1"/>
<line x1="575.88" x2="575.88" y1="792.20" y2="767.54" stroke="#2c2c2c" stroke-width="1.1"/>
<line x1="571.38" x2="580.38" y1="767.54" y2="767.54" stroke="#2c2c2c" stroke-width="1.1"/>
</g>
<rect x="464.3" y="696.5" width="134.40" height="180.80" fill="none" stroke="#2e2e2e" stroke-width="1.3"/>
<line x1="458.30" x2="464.3" y1="854.80" y2="854.80" stroke="#222" stroke-width="1"/>
<text x="453.70" y="858.51" text-anchor="end" font-size="10.3" textLength="17.75" lengthAdjust="spacingAndGlyphs" fill="#1a1a1a">-5.0</text>
<line x1="458.30" x2="464.3" y1="823.50" y2="823.50" stroke="#222" stroke-width="1"/>
<text x="453.70" y="827.21" text-anchor="end" font-size="10.3" textLength="17.75" lengthAdjust="spacingAndGlyphs" fill="#1a1a1a">-2.5</text>
<line x1="458.30" x2="464.3" y1="792.20" y2="792.20" stroke="#222" stroke-width="1"/>
<text x="453.70" y="795.91" text-anchor="end" font-size="10.3" textLength="14.32" lengthAdjust="spacingAndGlyphs" fill="#1a1a1a">0.0</text>
<line x1="458.30" x2="464.3" y1="760.90" y2="760.90" stroke="#222" stroke-width="1"/>
<text x="453.70" y="764.61" text-anchor="end" font-size="10.3" textLength="14.32" lengthAdjust="spacingAndGlyphs" fill="#1a1a1a">2.5</text>
<line x1="458.30" x2="464.3" y1="729.60" y2="729.60" stroke="#222" stroke-width="1"/>
<text x="453.70" y="733.31" text-anchor="end" font-size="10.3" textLength="14.32" lengthAdjust="spacingAndGlyphs" fill="#1a1a1a">5.0</text>
<line x1="458.30" x2="464.3" y1="698.30" y2="698.30" stroke="#222" stroke-width="1"/>
<text x="453.70" y="702.01" text-anchor="end" font-size="10.3" textLength="14.32" lengthAdjust="spacingAndGlyphs" fill="#1a1a1a">7.5</text>
<line x1="487.50" x2="487.50" y1="877.3" y2="883.8" stroke="#333" stroke-width="1.1"/>
<text transform="translate(490.30,890.20) rotate(-90)" text-anchor="end" font-size="11" textLength="17.60" lengthAdjust="spacingAndGlyphs" fill="#1a1a1a">SCR</text>
<line x1="516.96" x2="516.96" y1="877.3" y2="883.8" stroke="#333" stroke-width="1.1"/>
<text transform="translate(519.76,889.20) rotate(-90)" text-anchor="end" font-size="11" textLength="25.17" lengthAdjust="spacingAndGlyphs" fill="#1a1a1a">C1D7</text>
<line x1="546.42" x2="546.42" y1="877.3" y2="883.8" stroke="#333" stroke-width="1.1"/>
<text transform="translate(549.22,889.20) rotate(-90)" text-anchor="end" font-size="11" textLength="25.17" lengthAdjust="spacingAndGlyphs" fill="#1a1a1a">C2D7</text>
<line x1="575.88" x2="575.88" y1="877.3" y2="883.8" stroke="#333" stroke-width="1.1"/>
<text transform="translate(578.68,889.20) rotate(-90)" text-anchor="end" font-size="11" textLength="25.17" lengthAdjust="spacingAndGlyphs" fill="#1a1a1a">C3D7</text>
<text x="530.90" y="688.70" text-anchor="middle" font-size="10" textLength="34.50" lengthAdjust="spacingAndGlyphs" fill="#1a1a1a">NKX3.1</text>
<text x="531.20" y="938.00" text-anchor="middle" font-size="10.5" textLength="20.30" lengthAdjust="spacingAndGlyphs" fill="#1a1a1a">Visit</text>
<clipPath id="c16"><rect x="53.8" y="975.5" width="141.80" height="186.30"/></clipPath>
<g clip-path="url(#c16)">
<line x1="53.8" x2="195.6" y1="1094.00" y2="1094.00" stroke="#a4a4a4" stroke-width="1"/>
<line x1="77.50" x2="77.50" y1="1027.97" y2="977.42" stroke="#2c2c2c" stroke-width="1.1"/>
<line x1="73.00" x2="82.00" y1="977.42" y2="977.42" stroke="#2c2c2c" stroke-width="1.1"/>
<line x1="108.90" x2="108.90" y1="1159.54" y2="1019.52" stroke="#2c2c2c" stroke-width="1.1"/>
<line x1="104.40" x2="113.40" y1="1019.52" y2="1019.52" stroke="#2c2c2c" stroke-width="1.1"/>
<line x1="140.30" x2="140.30" y1="1105.32" y2="1085.76" stroke="#2c2c2c" stroke-width="1.1"/>
<line x1="135.80" x2="144.80" y1="1085.76" y2="1085.76" stroke="#2c2c2c" stroke-width="1.1"/>
<line x1="171.70" x2="171.70" y1="1094.00" y2="1075.13" stroke="#2c2c2c" stroke-width="1.1"/>
<line x1="167.20" x2="176.20" y1="1075.13" y2="1075.13" stroke="#2c2c2c" stroke-width="1.1"/>
<rect x="64.75" y="1027.97" width="25.50" height="66.03" fill="#3bb619" stroke="rgba(40,40,40,0.5)" stroke-width="0.7"/>
<rect x="96.15" y="1094.00" width="25.50" height="65.54" fill="#3bb619" stroke="rgba(40,40,40,0.5)" stroke-width="0.7"/>
<rect x="127.55" y="1094.00" width="25.50" height="11.32" fill="#3bb619" stroke="rgba(40,40,40,0.5)" stroke-width="0.7"/>
</g>
<rect x="53.8" y="975.5" width="141.80" height="186.30" fill="none" stroke="#2e2e2e" stroke-width="1.3"/>
<line x1="47.80" x2="53.8" y1="1143.65" y2="1143.65" stroke="#222" stroke-width="1"/>
<text x="43.20" y="1147.36" text-anchor="end" font-size="10.3" textLength="9.16" lengthAdjust="spacingAndGlyphs" fill="#1a1a1a">-5</text>
<line x1="47.80" x2="53.8" y1="1094.00" y2="1094.00" stroke="#222" stroke-width="1"/>
<text x="43.20" y="1097.71" text-anchor="end" font-size="10.3" textLength="5.73" lengthAdjust="spacingAndGlyphs" fill="#1a1a1a">0</text>
<line x1="47.80" x2="53.8" y1="1044.35" y2="1044.35" stroke="#222" stroke-width="1"/>
<text x="43.20" y="1048.06" text-anchor="end" font-size="10.3" textLength="5.73" lengthAdjust="spacingAndGlyphs" fill="#1a1a1a">5</text>
<line x1="47.80" x2="53.8" y1="994.70" y2="994.70" stroke="#222" stroke-width="1"/>
<text x="43.20" y="998.41" text-anchor="end" font-size="10.3" textLength="11.46" lengthAdjust="spacingAndGlyphs" fill="#1a1a1a">10</text>
<line x1="77.50" x2="77.50" y1="1161.8" y2="1168.3" stroke="#333" stroke-width="1.1"/>
<text transform="translate(80.30,1173.60) rotate(-90)" text-anchor="end" font-size="11" textLength="17.60" lengthAdjust="spacingAndGlyphs" fill="#1a1a1a">SCR</text>
<line x1="108.90" x2="108.90" y1="1161.8" y2="1168.3" stroke="#333" stroke-width="1.1"/>
<text transform="translate(111.70,1174.60) rotate(-90)" text-anchor="end" font-size="11" textLength="25.17" lengthAdjust="spacingAndGlyphs" fill="#1a1a1a">C1D7</text>
<line x1="140.30" x2="140.30" y1="1161.8" y2="1168.3" stroke="#333" stroke-width="1.1"/>
<text transform="translate(143.10,1174.60) rotate(-90)" text-anchor="end" font-size="11" textLength="25.17" lengthAdjust="spacingAndGlyphs" fill="#1a1a1a">C2D7</text>
<line x1="171.70" x2="171.70" y1="1161.8" y2="1168.3" stroke="#333" stroke-width="1.1"/>
<text transform="translate(174.50,1174.60) rotate(-90)" text-anchor="end" font-size="11" textLength="25.17" lengthAdjust="spacingAndGlyphs" fill="#1a1a1a">C3D7</text>
<text x="121.70" y="967.30" text-anchor="middle" font-size="10" textLength="17.30" lengthAdjust="spacingAndGlyphs" fill="#1a1a1a">PAP</text>
<text x="124.80" y="1220.70" text-anchor="middle" font-size="10.5" textLength="20.30" lengthAdjust="spacingAndGlyphs" fill="#1a1a1a">Visit</text>
<text transform="translate(15.60,1072.60) rotate(-90)" text-anchor="middle" font-size="12" fill="#1a1a1a" textLength="70" lengthAdjust="spacingAndGlyphs">SFC/10<tspan font-size="8.2" dx="1" dy="-4.3">6</tspan><tspan dy="4.3"> PBMC</tspan></text>
<clipPath id="c17"><rect x="258.9" y="975.5" width="137.60" height="185.90"/></clipPath>
<g clip-path="url(#c17)">
<line x1="258.9" x2="396.5" y1="998.30" y2="998.30" stroke="#a4a4a4" stroke-width="1"/>
<rect x="300.30" y="998.30" width="25.20" height="162.33" fill="#3776bb" stroke="rgba(40,40,40,0.5)" stroke-width="0.7"/>
<rect x="330.60" y="998.30" width="25.20" height="23.65" fill="#3776bb" stroke="rgba(40,40,40,0.5)" stroke-width="0.7"/>
<rect x="360.90" y="998.30" width="25.20" height="12.25" fill="#3776bb" stroke="rgba(40,40,40,0.5)" stroke-width="0.7"/>
<line x1="282.60" x2="282.60" y1="998.30" y2="977.66" stroke="#2c2c2c" stroke-width="1.1"/>
<line x1="278.10" x2="287.10" y1="977.66" y2="977.66" stroke="#2c2c2c" stroke-width="1.1"/>
<line x1="312.90" x2="312.90" y1="1160.62" y2="1083.55" stroke="#2c2c2c" stroke-width="1.1"/>
<line x1="308.40" x2="317.40" y1="1083.55" y2="1083.55" stroke="#2c2c2c" stroke-width="1.1"/>
<line x1="343.20" x2="343.20" y1="1021.95" y2="1001.63" stroke="#2c2c2c" stroke-width="1.1"/>
<line x1="338.70" x2="347.70" y1="1001.63" y2="1001.63" stroke="#2c2c2c" stroke-width="1.1"/>
<line x1="373.50" x2="373.50" y1="1010.55" y2="1010.55" stroke="#2c2c2c" stroke-width="1.1"/>
<line x1="369.00" x2="378.00" y1="1010.55" y2="1010.55" stroke="#2c2c2c" stroke-width="1.1"/>
</g>
<rect x="258.9" y="975.5" width="137.60" height="185.90" fill="none" stroke="#2e2e2e" stroke-width="1.3"/>
<line x1="252.90" x2="258.9" y1="1159.55" y2="1159.55" stroke="#222" stroke-width="1"/>
<text x="248.30" y="1163.26" text-anchor="end" font-size="10.3" textLength="14.89" lengthAdjust="spacingAndGlyphs" fill="#1a1a1a">-15</text>
<line x1="252.90" x2="258.9" y1="1105.80" y2="1105.80" stroke="#222" stroke-width="1"/>
<text x="248.30" y="1109.51" text-anchor="end" font-size="10.3" textLength="14.89" lengthAdjust="spacingAndGlyphs" fill="#1a1a1a">-10</text>
<line x1="252.90" x2="258.9" y1="1052.05" y2="1052.05" stroke="#222" stroke-width="1"/>
<text x="248.30" y="1055.76" text-anchor="end" font-size="10.3" textLength="9.16" lengthAdjust="spacingAndGlyphs" fill="#1a1a1a">-5</text>
<line x1="252.90" x2="258.9" y1="998.30" y2="998.30" stroke="#222" stroke-width="1"/>
<text x="248.30" y="1002.01" text-anchor="end" font-size="10.3" textLength="5.73" lengthAdjust="spacingAndGlyphs" fill="#1a1a1a">0</text>
<line x1="282.60" x2="282.60" y1="1161.4" y2="1167.9" stroke="#333" stroke-width="1.1"/>
<text transform="translate(285.40,1170.00) rotate(-90)" text-anchor="end" font-size="11" textLength="17.60" lengthAdjust="spacingAndGlyphs" fill="#1a1a1a">SCR</text>
<line x1="312.90" x2="312.90" y1="1161.4" y2="1167.9" stroke="#333" stroke-width="1.1"/>
<text transform="translate(315.70,1171.00) rotate(-90)" text-anchor="end" font-size="11" textLength="25.17" lengthAdjust="spacingAndGlyphs" fill="#1a1a1a">C1D7</text>
<line x1="343.20" x2="343.20" y1="1161.4" y2="1167.9" stroke="#333" stroke-width="1.1"/>
<text transform="translate(346.00,1171.00) rotate(-90)" text-anchor="end" font-size="11" textLength="25.17" lengthAdjust="spacingAndGlyphs" fill="#1a1a1a">C2D7</text>
<line x1="373.50" x2="373.50" y1="1161.4" y2="1167.9" stroke="#333" stroke-width="1.1"/>
<text transform="translate(376.30,1171.00) rotate(-90)" text-anchor="end" font-size="11" textLength="25.17" lengthAdjust="spacingAndGlyphs" fill="#1a1a1a">C3D7</text>
<text x="325.80" y="966.40" text-anchor="middle" font-size="10" textLength="28.30" lengthAdjust="spacingAndGlyphs" fill="#1a1a1a">PSMA</text>
<text x="327.60" y="1220.70" text-anchor="middle" font-size="10.5" textLength="20.30" lengthAdjust="spacingAndGlyphs" fill="#1a1a1a">Visit</text>
<clipPath id="c18"><rect x="460.5" y="975.5" width="137.60" height="186.50"/></clipPath>
<g clip-path="url(#c18)">
<line x1="460.5" x2="598.1" y1="996.00" y2="996.00" stroke="#a4a4a4" stroke-width="1"/>
<line x1="470.90" x2="496.10" y1="996.00" y2="996.00" stroke="#333" stroke-width="1"/>
<rect x="501.27" y="996.00" width="25.20" height="155.17" fill="#ee4d5b" stroke="rgba(40,40,40,0.5)" stroke-width="0.7"/>
<line x1="531.64" x2="556.84" y1="996.00" y2="996.00" stroke="#333" stroke-width="1"/>
<rect x="562.01" y="996.00" width="25.20" height="6.03" fill="#ee4d5b" stroke="rgba(40,40,40,0.5)" stroke-width="0.7"/>
<line x1="483.50" x2="483.50" y1="996.00" y2="985.20" stroke="#2c2c2c" stroke-width="1.1"/>
<line x1="479.00" x2="488.00" y1="985.20" y2="985.20" stroke="#2c2c2c" stroke-width="1.1"/>
<line x1="513.87" x2="513.87" y1="1151.17" y2="1112.79" stroke="#2c2c2c" stroke-width="1.1"/>
<line x1="509.37" x2="518.37" y1="1112.79" y2="1112.79" stroke="#2c2c2c" stroke-width="1.1"/>
<line x1="544.24" x2="544.24" y1="996.00" y2="977.74" stroke="#2c2c2c" stroke-width="1.1"/>
<line x1="539.74" x2="548.74" y1="977.74" y2="977.74" stroke="#2c2c2c" stroke-width="1.1"/>
<line x1="574.61" x2="574.61" y1="1002.03" y2="1002.03" stroke="#2c2c2c" stroke-width="1.1"/>
<line x1="570.11" x2="579.11" y1="1002.03" y2="1002.03" stroke="#2c2c2c" stroke-width="1.1"/>
</g>
<rect x="460.5" y="975.5" width="137.60" height="186.50" fill="none" stroke="#2e2e2e" stroke-width="1.3"/>
<line x1="454.50" x2="460.5" y1="1160.49" y2="1160.49" stroke="#222" stroke-width="1"/>
<text x="449.90" y="1164.20" text-anchor="end" font-size="10.3" textLength="14.89" lengthAdjust="spacingAndGlyphs" fill="#1a1a1a">-30</text>
<line x1="454.50" x2="460.5" y1="1105.66" y2="1105.66" stroke="#222" stroke-width="1"/>
<text x="449.90" y="1109.37" text-anchor="end" font-size="10.3" textLength="14.89" lengthAdjust="spacingAndGlyphs" fill="#1a1a1a">-20</text>
<line x1="454.50" x2="460.5" y1="1050.83" y2="1050.83" stroke="#222" stroke-width="1"/>
<text x="449.90" y="1054.54" text-anchor="end" font-size="10.3" textLength="14.89" lengthAdjust="spacingAndGlyphs" fill="#1a1a1a">-10</text>
<line x1="454.50" x2="460.5" y1="996.00" y2="996.00" stroke="#222" stroke-width="1"/>
<text x="449.90" y="999.71" text-anchor="end" font-size="10.3" textLength="5.73" lengthAdjust="spacingAndGlyphs" fill="#1a1a1a">0</text>
<line x1="483.50" x2="483.50" y1="1162" y2="1168.5" stroke="#333" stroke-width="1.1"/>
<text transform="translate(486.30,1171.90) rotate(-90)" text-anchor="end" font-size="11" textLength="17.60" lengthAdjust="spacingAndGlyphs" fill="#1a1a1a">SCR</text>
<line x1="513.87" x2="513.87" y1="1162" y2="1168.5" stroke="#333" stroke-width="1.1"/>
<text transform="translate(516.67,1173.70) rotate(-90)" text-anchor="end" font-size="11" textLength="25.17" lengthAdjust="spacingAndGlyphs" fill="#1a1a1a">C1D7</text>
<line x1="544.24" x2="544.24" y1="1162" y2="1168.5" stroke="#333" stroke-width="1.1"/>
<text transform="translate(547.04,1173.70) rotate(-90)" text-anchor="end" font-size="11" textLength="25.17" lengthAdjust="spacingAndGlyphs" fill="#1a1a1a">C2D7</text>
<line x1="574.61" x2="574.61" y1="1162" y2="1168.5" stroke="#333" stroke-width="1.1"/>
<text transform="translate(577.41,1173.70) rotate(-90)" text-anchor="end" font-size="11" textLength="25.17" lengthAdjust="spacingAndGlyphs" fill="#1a1a1a">C3D7</text>
<text x="530.30" y="966.40" text-anchor="middle" font-size="10" textLength="22.20" lengthAdjust="spacingAndGlyphs" fill="#1a1a1a">SSX2</text>
<text x="529.00" y="1220.70" text-anchor="middle" font-size="10.5" textLength="20.30" lengthAdjust="spacingAndGlyphs" fill="#1a1a1a">Visit</text>
<clipPath id="c19"><rect x="729" y="692.9" width="127.90" height="185.00"/></clipPath>
<g clip-path="url(#c19)">
<line x1="729" x2="856.9" y1="876.00" y2="876.00" stroke="#a4a4a4" stroke-width="1"/>
<rect x="739.10" y="732.41" width="23.00" height="143.59" fill="#3bb619" stroke="rgba(40,40,40,0.5)" stroke-width="0.7"/>
<rect x="767.06" y="706.22" width="23.00" height="169.78" fill="#3bb619" stroke="rgba(40,40,40,0.5)" stroke-width="0.7"/>
<rect x="795.02" y="696.52" width="23.00" height="179.48" fill="#3bb619" stroke="rgba(40,40,40,0.5)" stroke-width="0.7"/>
<rect x="822.98" y="708.70" width="23.00" height="167.30" fill="#3bb619" stroke="rgba(40,40,40,0.5)" stroke-width="0.7"/>
<line x1="750.60" x2="750.60" y1="732.41" y2="728.01" stroke="#2c2c2c" stroke-width="1.1"/>
<line x1="746.10" x2="755.10" y1="728.01" y2="728.01" stroke="#2c2c2c" stroke-width="1.1"/>
<line x1="778.56" x2="778.56" y1="706.22" y2="700.52" stroke="#2c2c2c" stroke-width="1.1"/>
<line x1="774.06" x2="783.06" y1="700.52" y2="700.52" stroke="#2c2c2c" stroke-width="1.1"/>
<line x1="806.52" x2="806.52" y1="696.52" y2="694.52" stroke="#2c2c2c" stroke-width="1.1"/>
<line x1="802.02" x2="811.02" y1="694.52" y2="694.52" stroke="#2c2c2c" stroke-width="1.1"/>
<line x1="834.48" x2="834.48" y1="708.70" y2="700.52" stroke="#2c2c2c" stroke-width="1.1"/>
<line x1="829.98" x2="838.98" y1="700.52" y2="700.52" stroke="#2c2c2c" stroke-width="1.1"/>
</g>
<rect x="729" y="692.9" width="127.90" height="185.00" fill="none" stroke="#2e2e2e" stroke-width="1.3"/>
<line x1="723.00" x2="729" y1="876.00" y2="876.00" stroke="#222" stroke-width="1"/>
<text x="718.40" y="879.85" text-anchor="end" font-size="10.7" textLength="5.95" lengthAdjust="spacingAndGlyphs" fill="#1a1a1a">0</text>
<line x1="723.00" x2="729" y1="832.50" y2="832.50" stroke="#222" stroke-width="1"/>
<text x="718.40" y="836.35" text-anchor="end" font-size="10.7" textLength="23.80" lengthAdjust="spacingAndGlyphs" fill="#1a1a1a">1000</text>
<line x1="723.00" x2="729" y1="789.00" y2="789.00" stroke="#222" stroke-width="1"/>
<text x="718.40" y="792.85" text-anchor="end" font-size="10.7" textLength="23.80" lengthAdjust="spacingAndGlyphs" fill="#1a1a1a">2000</text>
<line x1="723.00" x2="729" y1="745.50" y2="745.50" stroke="#222" stroke-width="1"/>
<text x="718.40" y="749.35" text-anchor="end" font-size="10.7" textLength="23.80" lengthAdjust="spacingAndGlyphs" fill="#1a1a1a">3000</text>
<line x1="723.00" x2="729" y1="702.00" y2="702.00" stroke="#222" stroke-width="1"/>
<text x="718.40" y="705.85" text-anchor="end" font-size="10.7" textLength="23.80" lengthAdjust="spacingAndGlyphs" fill="#1a1a1a">4000</text>
<line x1="750.60" x2="750.60" y1="877.9" y2="884.4" stroke="#333" stroke-width="1.1"/>
<text transform="translate(753.40,888.40) rotate(-90)" text-anchor="end" font-size="11" textLength="17.60" lengthAdjust="spacingAndGlyphs" fill="#1a1a1a">SCR</text>
<line x1="778.56" x2="778.56" y1="877.9" y2="884.4" stroke="#333" stroke-width="1.1"/>
<text transform="translate(781.36,888.40) rotate(-90)" text-anchor="end" font-size="11" textLength="25.17" lengthAdjust="spacingAndGlyphs" fill="#1a1a1a">C1D7</text>
<line x1="806.52" x2="806.52" y1="877.9" y2="884.4" stroke="#333" stroke-width="1.1"/>
<text transform="translate(809.32,888.40) rotate(-90)" text-anchor="end" font-size="11" textLength="25.17" lengthAdjust="spacingAndGlyphs" fill="#1a1a1a">C2D7</text>
<line x1="834.48" x2="834.48" y1="877.9" y2="884.4" stroke="#333" stroke-width="1.1"/>
<text transform="translate(837.28,888.40) rotate(-90)" text-anchor="end" font-size="11" textLength="25.17" lengthAdjust="spacingAndGlyphs" fill="#1a1a1a">C3D7</text>
<text x="792.70" y="686.50" text-anchor="middle" font-size="10" textLength="23.00" lengthAdjust="spacingAndGlyphs" fill="#1a1a1a">CEFT</text>
<text x="792.20" y="938.00" text-anchor="middle" font-size="10.5" textLength="20.30" lengthAdjust="spacingAndGlyphs" fill="#1a1a1a">Visit</text>
<text transform="translate(669.60,790.40) rotate(-90)" text-anchor="middle" font-size="12" fill="#1a1a1a" textLength="76.5" lengthAdjust="spacingAndGlyphs">SFC/10<tspan font-size="8.2" dx="1" dy="-4.3">6</tspan><tspan dy="4.3"> PBMC</tspan></text>
<clipPath id="c20"><rect x="915.6" y="693.2" width="141.30" height="184.70"/></clipPath>
<g clip-path="url(#c20)">
<line x1="915.6" x2="1056.9" y1="835.60" y2="835.60" stroke="#a4a4a4" stroke-width="1"/>
<rect x="926.55" y="790.42" width="25.50" height="45.18" fill="#3776bb" stroke="rgba(40,40,40,0.5)" stroke-width="0.7"/>
<rect x="957.72" y="736.13" width="25.50" height="99.47" fill="#3776bb" stroke="rgba(40,40,40,0.5)" stroke-width="0.7"/>
<rect x="988.89" y="835.60" width="25.50" height="36.79" fill="#3776bb" stroke="rgba(40,40,40,0.5)" stroke-width="0.7"/>
<rect x="1020.06" y="799.13" width="25.50" height="36.47" fill="#3776bb" stroke="rgba(40,40,40,0.5)" stroke-width="0.7"/>
<line x1="939.30" x2="939.30" y1="790.42" y2="712.44" stroke="#2c2c2c" stroke-width="1.1"/>
<line x1="934.80" x2="943.80" y1="712.44" y2="712.44" stroke="#2c2c2c" stroke-width="1.1"/>
<line x1="970.47" x2="970.47" y1="736.13" y2="694.29" stroke="#2c2c2c" stroke-width="1.1"/>
<line x1="965.97" x2="974.97" y1="694.29" y2="694.29" stroke="#2c2c2c" stroke-width="1.1"/>
<line x1="1001.64" x2="1001.64" y1="872.39" y2="793.52" stroke="#2c2c2c" stroke-width="1.1"/>
<line x1="997.14" x2="1006.14" y1="793.52" y2="793.52" stroke="#2c2c2c" stroke-width="1.1"/>
<line x1="1032.81" x2="1032.81" y1="799.13" y2="757.86" stroke="#2c2c2c" stroke-width="1.1"/>
<line x1="1028.31" x2="1037.31" y1="757.86" y2="757.86" stroke="#2c2c2c" stroke-width="1.1"/>
</g>
<rect x="915.6" y="693.2" width="141.30" height="184.70" fill="none" stroke="#2e2e2e" stroke-width="1.3"/>
<line x1="909.60" x2="915.6" y1="876.30" y2="876.30" stroke="#222" stroke-width="1"/>
<text x="905.00" y="880.08" text-anchor="end" font-size="10.5" textLength="9.34" lengthAdjust="spacingAndGlyphs" fill="#1a1a1a">-5</text>
<line x1="909.60" x2="915.6" y1="835.60" y2="835.60" stroke="#222" stroke-width="1"/>
<text x="905.00" y="839.38" text-anchor="end" font-size="10.5" textLength="5.84" lengthAdjust="spacingAndGlyphs" fill="#1a1a1a">0</text>
<line x1="909.60" x2="915.6" y1="794.90" y2="794.90" stroke="#222" stroke-width="1"/>
<text x="905.00" y="798.68" text-anchor="end" font-size="10.5" textLength="5.84" lengthAdjust="spacingAndGlyphs" fill="#1a1a1a">5</text>
<line x1="909.60" x2="915.6" y1="754.20" y2="754.20" stroke="#222" stroke-width="1"/>
<text x="905.00" y="757.98" text-anchor="end" font-size="10.5" textLength="11.68" lengthAdjust="spacingAndGlyphs" fill="#1a1a1a">10</text>
<line x1="909.60" x2="915.6" y1="713.50" y2="713.50" stroke="#222" stroke-width="1"/>
<text x="905.00" y="717.28" text-anchor="end" font-size="10.5" textLength="11.68" lengthAdjust="spacingAndGlyphs" fill="#1a1a1a">15</text>
<line x1="939.30" x2="939.30" y1="877.9" y2="884.4" stroke="#333" stroke-width="1.1"/>
<text transform="translate(942.10,888.40) rotate(-90)" text-anchor="end" font-size="11" textLength="17.60" lengthAdjust="spacingAndGlyphs" fill="#1a1a1a">SCR</text>
<line x1="970.47" x2="970.47" y1="877.9" y2="884.4" stroke="#333" stroke-width="1.1"/>
<text transform="translate(973.27,888.40) rotate(-90)" text-anchor="end" font-size="11" textLength="25.17" lengthAdjust="spacingAndGlyphs" fill="#1a1a1a">C1D7</text>
<line x1="1001.64" x2="1001.64" y1="877.9" y2="884.4" stroke="#333" stroke-width="1.1"/>
<text transform="translate(1004.44,888.40) rotate(-90)" text-anchor="end" font-size="11" textLength="25.17" lengthAdjust="spacingAndGlyphs" fill="#1a1a1a">C2D7</text>
<line x1="1032.81" x2="1032.81" y1="877.9" y2="884.4" stroke="#333" stroke-width="1.1"/>
<text transform="translate(1035.61,888.40) rotate(-90)" text-anchor="end" font-size="11" textLength="25.17" lengthAdjust="spacingAndGlyphs" fill="#1a1a1a">C3D7</text>
<text x="986.30" y="686.50" text-anchor="middle" font-size="10" textLength="16.80" lengthAdjust="spacingAndGlyphs" fill="#1a1a1a">LLO</text>
<text x="994.50" y="938.00" text-anchor="middle" font-size="10.5" textLength="20.30" lengthAdjust="spacingAndGlyphs" fill="#1a1a1a">Visit</text>
<clipPath id="c21"><rect x="1116.4" y="692.9" width="141.20" height="185.00"/></clipPath>
<g clip-path="url(#c21)">
<line x1="1116.4" x2="1257.6" y1="828.30" y2="828.30" stroke="#a4a4a4" stroke-width="1"/>
<rect x="1127.45" y="828.30" width="25.30" height="38.30" fill="#ee4d5b" stroke="rgba(40,40,40,0.5)" stroke-width="0.7"/>
<rect x="1158.68" y="770.76" width="25.30" height="57.54" fill="#ee4d5b" stroke="rgba(40,40,40,0.5)" stroke-width="0.7"/>
<rect x="1189.91" y="828.30" width="25.30" height="9.83" fill="#ee4d5b" stroke="rgba(40,40,40,0.5)" stroke-width="0.7"/>
<rect x="1221.14" y="828.30" width="25.30" height="48.05" fill="#ee4d5b" stroke="rgba(40,40,40,0.5)" stroke-width="0.7"/>
<line x1="1140.10" x2="1140.10" y1="866.60" y2="847.37" stroke="#2c2c2c" stroke-width="1.1"/>
<line x1="1135.60" x2="1144.60" y1="847.37" y2="847.37" stroke="#2c2c2c" stroke-width="1.1"/>
<line x1="1171.33" x2="1171.33" y1="770.76" y2="694.24" stroke="#2c2c2c" stroke-width="1.1"/>
<line x1="1166.83" x2="1175.83" y1="694.24" y2="694.24" stroke="#2c2c2c" stroke-width="1.1"/>
<line x1="1202.56" x2="1202.56" y1="838.13" y2="778.00" stroke="#2c2c2c" stroke-width="1.1"/>
<line x1="1198.06" x2="1207.06" y1="778.00" y2="778.00" stroke="#2c2c2c" stroke-width="1.1"/>
<line x1="1233.79" x2="1233.79" y1="876.35" y2="816.31" stroke="#2c2c2c" stroke-width="1.1"/>
<line x1="1229.29" x2="1238.29" y1="816.31" y2="816.31" stroke="#2c2c2c" stroke-width="1.1"/>
</g>
<rect x="1116.4" y="692.9" width="141.20" height="185.00" fill="none" stroke="#2e2e2e" stroke-width="1.3"/>
<line x1="1110.40" x2="1116.4" y1="871.43" y2="871.43" stroke="#222" stroke-width="1"/>
<text x="1105.80" y="875.21" text-anchor="end" font-size="10.5" textLength="9.34" lengthAdjust="spacingAndGlyphs" fill="#1a1a1a">-5</text>
<line x1="1110.40" x2="1116.4" y1="828.30" y2="828.30" stroke="#222" stroke-width="1"/>
<text x="1105.80" y="832.08" text-anchor="end" font-size="10.5" textLength="5.84" lengthAdjust="spacingAndGlyphs" fill="#1a1a1a">0</text>
<line x1="1110.40" x2="1116.4" y1="785.16" y2="785.16" stroke="#222" stroke-width="1"/>
<text x="1105.80" y="788.94" text-anchor="end" font-size="10.5" textLength="5.84" lengthAdjust="spacingAndGlyphs" fill="#1a1a1a">5</text>
<line x1="1110.40" x2="1116.4" y1="742.03" y2="742.03" stroke="#222" stroke-width="1"/>
<text x="1105.80" y="745.81" text-anchor="end" font-size="10.5" textLength="11.68" lengthAdjust="spacingAndGlyphs" fill="#1a1a1a">10</text>
<line x1="1110.40" x2="1116.4" y1="698.89" y2="698.89" stroke="#222" stroke-width="1"/>
<text x="1105.80" y="702.67" text-anchor="end" font-size="10.5" textLength="11.68" lengthAdjust="spacingAndGlyphs" fill="#1a1a1a">15</text>
<line x1="1140.10" x2="1140.10" y1="877.9" y2="884.4" stroke="#333" stroke-width="1.1"/>
<text transform="translate(1142.90,888.40) rotate(-90)" text-anchor="end" font-size="11" textLength="17.60" lengthAdjust="spacingAndGlyphs" fill="#1a1a1a">SCR</text>
<line x1="1171.33" x2="1171.33" y1="877.9" y2="884.4" stroke="#333" stroke-width="1.1"/>
<text transform="translate(1174.13,888.40) rotate(-90)" text-anchor="end" font-size="11" textLength="25.17" lengthAdjust="spacingAndGlyphs" fill="#1a1a1a">C1D7</text>
<line x1="1202.56" x2="1202.56" y1="877.9" y2="884.4" stroke="#333" stroke-width="1.1"/>
<text transform="translate(1205.36,888.40) rotate(-90)" text-anchor="end" font-size="11" textLength="25.17" lengthAdjust="spacingAndGlyphs" fill="#1a1a1a">C2D7</text>
<line x1="1233.79" x2="1233.79" y1="877.9" y2="884.4" stroke="#333" stroke-width="1.1"/>
<text transform="translate(1236.59,888.40) rotate(-90)" text-anchor="end" font-size="11" textLength="25.17" lengthAdjust="spacingAndGlyphs" fill="#1a1a1a">C3D7</text>
<text x="1186.50" y="686.50" text-anchor="middle" font-size="10" textLength="34.50" lengthAdjust="spacingAndGlyphs" fill="#1a1a1a">NKX3.1</text>
<text x="1195.10" y="938.00" text-anchor="middle" font-size="10.5" textLength="20.30" lengthAdjust="spacingAndGlyphs" fill="#1a1a1a">Visit</text>
<clipPath id="c22"><rect x="714.4" y="984.1" width="139.80" height="178.60"/></clipPath>
<g clip-path="url(#c22)">
<line x1="714.4" x2="854.2" y1="1160.90" y2="1160.90" stroke="#a4a4a4" stroke-width="1"/>
<rect x="725.75" y="1073.39" width="25.30" height="87.51" fill="#3bb619" stroke="rgba(40,40,40,0.5)" stroke-width="0.7"/>
<rect x="756.45" y="1015.28" width="25.30" height="145.62" fill="#3bb619" stroke="rgba(40,40,40,0.5)" stroke-width="0.7"/>
<rect x="787.15" y="1117.13" width="25.30" height="43.77" fill="#3bb619" stroke="rgba(40,40,40,0.5)" stroke-width="0.7"/>
<rect x="817.85" y="1025.09" width="25.30" height="135.81" fill="#3bb619" stroke="rgba(40,40,40,0.5)" stroke-width="0.7"/>
<line x1="738.40" x2="738.40" y1="1073.39" y2="1043.31" stroke="#2c2c2c" stroke-width="1.1"/>
<line x1="733.90" x2="742.90" y1="1043.31" y2="1043.31" stroke="#2c2c2c" stroke-width="1.1"/>
<line x1="769.10" x2="769.10" y1="1015.28" y2="990.12" stroke="#2c2c2c" stroke-width="1.1"/>
<line x1="764.60" x2="773.60" y1="990.12" y2="990.12" stroke="#2c2c2c" stroke-width="1.1"/>
<line x1="799.80" x2="799.80" y1="1117.13" y2="1037.08" stroke="#2c2c2c" stroke-width="1.1"/>
<line x1="795.30" x2="804.30" y1="1037.08" y2="1037.08" stroke="#2c2c2c" stroke-width="1.1"/>
<line x1="830.50" x2="830.50" y1="1025.09" y2="988.68" stroke="#2c2c2c" stroke-width="1.1"/>
<line x1="826.00" x2="835.00" y1="988.68" y2="988.68" stroke="#2c2c2c" stroke-width="1.1"/>
</g>
<rect x="714.4" y="984.1" width="139.80" height="178.60" fill="none" stroke="#2e2e2e" stroke-width="1.3"/>
<line x1="708.40" x2="714.4" y1="1160.90" y2="1160.90" stroke="#222" stroke-width="1"/>
<text x="703.80" y="1164.68" text-anchor="end" font-size="10.5" textLength="5.84" lengthAdjust="spacingAndGlyphs" fill="#1a1a1a">0</text>
<line x1="708.40" x2="714.4" y1="1117.30" y2="1117.30" stroke="#222" stroke-width="1"/>
<text x="703.80" y="1121.08" text-anchor="end" font-size="10.5" textLength="11.68" lengthAdjust="spacingAndGlyphs" fill="#1a1a1a">10</text>
<line x1="708.40" x2="714.4" y1="1073.70" y2="1073.70" stroke="#222" stroke-width="1"/>
<text x="703.80" y="1077.48" text-anchor="end" font-size="10.5" textLength="11.68" lengthAdjust="spacingAndGlyphs" fill="#1a1a1a">20</text>
<line x1="708.40" x2="714.4" y1="1030.10" y2="1030.10" stroke="#222" stroke-width="1"/>
<text x="703.80" y="1033.88" text-anchor="end" font-size="10.5" textLength="11.68" lengthAdjust="spacingAndGlyphs" fill="#1a1a1a">30</text>
<line x1="708.40" x2="714.4" y1="986.50" y2="986.50" stroke="#222" stroke-width="1"/>
<text x="703.80" y="990.28" text-anchor="end" font-size="10.5" textLength="11.68" lengthAdjust="spacingAndGlyphs" fill="#1a1a1a">40</text>
<line x1="738.40" x2="738.40" y1="1162.7" y2="1169.2" stroke="#333" stroke-width="1.1"/>
<text transform="translate(741.20,1173.20) rotate(-90)" text-anchor="end" font-size="11" textLength="17.60" lengthAdjust="spacingAndGlyphs" fill="#1a1a1a">SCR</text>
<line x1="769.10" x2="769.10" y1="1162.7" y2="1169.2" stroke="#333" stroke-width="1.1"/>
<text transform="translate(771.90,1173.20) rotate(-90)" text-anchor="end" font-size="11" textLength="25.17" lengthAdjust="spacingAndGlyphs" fill="#1a1a1a">C1D7</text>
<line x1="799.80" x2="799.80" y1="1162.7" y2="1169.2" stroke="#333" stroke-width="1.1"/>
<text transform="translate(802.60,1173.20) rotate(-90)" text-anchor="end" font-size="11" textLength="25.17" lengthAdjust="spacingAndGlyphs" fill="#1a1a1a">C2D7</text>
<line x1="830.50" x2="830.50" y1="1162.7" y2="1169.2" stroke="#333" stroke-width="1.1"/>
<text transform="translate(833.30,1173.20) rotate(-90)" text-anchor="end" font-size="11" textLength="25.17" lengthAdjust="spacingAndGlyphs" fill="#1a1a1a">C3D7</text>
<text x="784.00" y="977.40" text-anchor="middle" font-size="10" textLength="17.30" lengthAdjust="spacingAndGlyphs" fill="#1a1a1a">PAP</text>
<text x="784.00" y="1223.40" text-anchor="middle" font-size="10.5" textLength="20.30" lengthAdjust="spacingAndGlyphs" fill="#1a1a1a">Visit</text>
<text transform="translate(670.60,1074.40) rotate(-90)" text-anchor="middle" font-size="12" fill="#1a1a1a" textLength="76.5" lengthAdjust="spacingAndGlyphs">SFC/10<tspan font-size="8.2" dx="1" dy="-4.3">6</tspan><tspan dy="4.3"> PBMC</tspan></text>
<clipPath id="c23"><rect x="919.3" y="984.1" width="132.70" height="178.60"/></clipPath>
<g clip-path="url(#c23)">
<line x1="919.3" x2="1052" y1="1160.90" y2="1160.90" stroke="#a4a4a4" stroke-width="1"/>
<rect x="929.75" y="1075.80" width="23.90" height="85.10" fill="#3776bb" stroke="rgba(40,40,40,0.5)" stroke-width="0.7"/>
<rect x="959.03" y="1045.32" width="23.90" height="115.58" fill="#3776bb" stroke="rgba(40,40,40,0.5)" stroke-width="0.7"/>
<rect x="988.31" y="1038.79" width="23.90" height="122.11" fill="#3776bb" stroke="rgba(40,40,40,0.5)" stroke-width="0.7"/>
<rect x="1017.59" y="994.29" width="23.90" height="166.61" fill="#3776bb" stroke="rgba(40,40,40,0.5)" stroke-width="0.7"/>
<line x1="941.70" x2="941.70" y1="1075.80" y2="1071.19" stroke="#2c2c2c" stroke-width="1.1"/>
<line x1="937.20" x2="946.20" y1="1071.19" y2="1071.19" stroke="#2c2c2c" stroke-width="1.1"/>
<line x1="970.98" x2="970.98" y1="1045.32" y2="1030.58" stroke="#2c2c2c" stroke-width="1.1"/>
<line x1="966.48" x2="975.48" y1="1030.58" y2="1030.58" stroke="#2c2c2c" stroke-width="1.1"/>
<line x1="1000.26" x2="1000.26" y1="1038.79" y2="1010.52" stroke="#2c2c2c" stroke-width="1.1"/>
<line x1="995.76" x2="1004.76" y1="1010.52" y2="1010.52" stroke="#2c2c2c" stroke-width="1.1"/>
<line x1="1029.54" x2="1029.54" y1="994.29" y2="986.52" stroke="#2c2c2c" stroke-width="1.1"/>
<line x1="1025.04" x2="1034.04" y1="986.52" y2="986.52" stroke="#2c2c2c" stroke-width="1.1"/>
</g>
<rect x="919.3" y="984.1" width="132.70" height="178.60" fill="none" stroke="#2e2e2e" stroke-width="1.3"/>
<line x1="913.30" x2="919.3" y1="1160.90" y2="1160.90" stroke="#222" stroke-width="1"/>
<text x="908.70" y="1164.68" text-anchor="end" font-size="10.5" textLength="5.84" lengthAdjust="spacingAndGlyphs" fill="#1a1a1a">0</text>
<line x1="913.30" x2="919.3" y1="1112.90" y2="1112.90" stroke="#222" stroke-width="1"/>
<text x="908.70" y="1116.68" text-anchor="end" font-size="10.5" textLength="17.52" lengthAdjust="spacingAndGlyphs" fill="#1a1a1a">100</text>
<line x1="913.30" x2="919.3" y1="1064.90" y2="1064.90" stroke="#222" stroke-width="1"/>
<text x="908.70" y="1068.68" text-anchor="end" font-size="10.5" textLength="17.52" lengthAdjust="spacingAndGlyphs" fill="#1a1a1a">200</text>
<line x1="913.30" x2="919.3" y1="1016.90" y2="1016.90" stroke="#222" stroke-width="1"/>
<text x="908.70" y="1020.68" text-anchor="end" font-size="10.5" textLength="17.52" lengthAdjust="spacingAndGlyphs" fill="#1a1a1a">300</text>
<line x1="941.70" x2="941.70" y1="1162.7" y2="1169.2" stroke="#333" stroke-width="1.1"/>
<text transform="translate(944.50,1173.20) rotate(-90)" text-anchor="end" font-size="11" textLength="17.60" lengthAdjust="spacingAndGlyphs" fill="#1a1a1a">SCR</text>
<line x1="970.98" x2="970.98" y1="1162.7" y2="1169.2" stroke="#333" stroke-width="1.1"/>
<text transform="translate(973.78,1173.20) rotate(-90)" text-anchor="end" font-size="11" textLength="25.17" lengthAdjust="spacingAndGlyphs" fill="#1a1a1a">C1D7</text>
<line x1="1000.26" x2="1000.26" y1="1162.7" y2="1169.2" stroke="#333" stroke-width="1.1"/>
<text transform="translate(1003.06,1173.20) rotate(-90)" text-anchor="end" font-size="11" textLength="25.17" lengthAdjust="spacingAndGlyphs" fill="#1a1a1a">C2D7</text>
<line x1="1029.54" x2="1029.54" y1="1162.7" y2="1169.2" stroke="#333" stroke-width="1.1"/>
<text transform="translate(1032.34,1173.20) rotate(-90)" text-anchor="end" font-size="11" textLength="25.17" lengthAdjust="spacingAndGlyphs" fill="#1a1a1a">C3D7</text>
<text x="985.40" y="976.50" text-anchor="middle" font-size="10" textLength="28.30" lengthAdjust="spacingAndGlyphs" fill="#1a1a1a">PSMA</text>
<text x="986.30" y="1223.40" text-anchor="middle" font-size="10.5" textLength="20.30" lengthAdjust="spacingAndGlyphs" fill="#1a1a1a">Visit</text>
<clipPath id="c24"><rect x="1117.7" y="984.1" width="132.50" height="178.60"/></clipPath>
<g clip-path="url(#c24)">
<line x1="1117.7" x2="1250.2" y1="1114.40" y2="1114.40" stroke="#a4a4a4" stroke-width="1"/>
<line x1="1129.15" x2="1152.45" y1="1114.40" y2="1114.40" stroke="#333" stroke-width="1"/>
<rect x="1157.89" y="1083.44" width="23.30" height="30.96" fill="#ee4d5b" stroke="rgba(40,40,40,0.5)" stroke-width="0.7"/>
<rect x="1186.63" y="1114.40" width="23.30" height="46.65" fill="#ee4d5b" stroke="rgba(40,40,40,0.5)" stroke-width="0.7"/>
<rect x="1215.37" y="1114.40" width="23.30" height="46.65" fill="#ee4d5b" stroke="rgba(40,40,40,0.5)" stroke-width="0.7"/>
<line x1="1140.80" x2="1140.80" y1="1114.40" y2="1017.45" stroke="#2c2c2c" stroke-width="1.1"/>
<line x1="1136.30" x2="1145.30" y1="1017.45" y2="1017.45" stroke="#2c2c2c" stroke-width="1.1"/>
<line x1="1169.54" x2="1169.54" y1="1083.44" y2="986.49" stroke="#2c2c2c" stroke-width="1.1"/>
<line x1="1165.04" x2="1174.04" y1="986.49" y2="986.49" stroke="#2c2c2c" stroke-width="1.1"/>
<line x1="1198.28" x2="1198.28" y1="1161.05" y2="1053.04" stroke="#2c2c2c" stroke-width="1.1"/>
<line x1="1193.78" x2="1202.78" y1="1053.04" y2="1053.04" stroke="#2c2c2c" stroke-width="1.1"/>
<line x1="1227.02" x2="1227.02" y1="1161.05" y2="1026.56" stroke="#2c2c2c" stroke-width="1.1"/>
<line x1="1222.52" x2="1231.52" y1="1026.56" y2="1026.56" stroke="#2c2c2c" stroke-width="1.1"/>
</g>
<rect x="1117.7" y="984.1" width="132.50" height="178.60" fill="none" stroke="#2e2e2e" stroke-width="1.3"/>
<line x1="1111.70" x2="1117.7" y1="1149.43" y2="1149.43" stroke="#222" stroke-width="1"/>
<text x="1107.10" y="1153.21" text-anchor="end" font-size="10.5" textLength="18.09" lengthAdjust="spacingAndGlyphs" fill="#1a1a1a">-2.5</text>
<line x1="1111.70" x2="1117.7" y1="1114.40" y2="1114.40" stroke="#222" stroke-width="1"/>
<text x="1107.10" y="1118.18" text-anchor="end" font-size="10.5" textLength="14.59" lengthAdjust="spacingAndGlyphs" fill="#1a1a1a">0.0</text>
<line x1="1111.70" x2="1117.7" y1="1079.38" y2="1079.38" stroke="#222" stroke-width="1"/>
<text x="1107.10" y="1083.15" text-anchor="end" font-size="10.5" textLength="14.59" lengthAdjust="spacingAndGlyphs" fill="#1a1a1a">2.5</text>
<line x1="1111.70" x2="1117.7" y1="1044.35" y2="1044.35" stroke="#222" stroke-width="1"/>
<text x="1107.10" y="1048.13" text-anchor="end" font-size="10.5" textLength="14.59" lengthAdjust="spacingAndGlyphs" fill="#1a1a1a">5.0</text>
<line x1="1111.70" x2="1117.7" y1="1009.33" y2="1009.33" stroke="#222" stroke-width="1"/>
<text x="1107.10" y="1013.11" text-anchor="end" font-size="10.5" textLength="14.59" lengthAdjust="spacingAndGlyphs" fill="#1a1a1a">7.5</text>
<line x1="1140.80" x2="1140.80" y1="1162.7" y2="1169.2" stroke="#333" stroke-width="1.1"/>
<text transform="translate(1143.60,1173.20) rotate(-90)" text-anchor="end" font-size="11" textLength="17.60" lengthAdjust="spacingAndGlyphs" fill="#1a1a1a">SCR</text>
<line x1="1169.54" x2="1169.54" y1="1162.7" y2="1169.2" stroke="#333" stroke-width="1.1"/>
<text transform="translate(1172.34,1173.20) rotate(-90)" text-anchor="end" font-size="11" textLength="25.17" lengthAdjust="spacingAndGlyphs" fill="#1a1a1a">C1D7</text>
<line x1="1198.28" x2="1198.28" y1="1162.7" y2="1169.2" stroke="#333" stroke-width="1.1"/>
<text transform="translate(1201.08,1173.20) rotate(-90)" text-anchor="end" font-size="11" textLength="25.17" lengthAdjust="spacingAndGlyphs" fill="#1a1a1a">C2D7</text>
<line x1="1227.02" x2="1227.02" y1="1162.7" y2="1169.2" stroke="#333" stroke-width="1.1"/>
<text transform="translate(1229.82,1173.20) rotate(-90)" text-anchor="end" font-size="11" textLength="25.17" lengthAdjust="spacingAndGlyphs" fill="#1a1a1a">C3D7</text>
<text x="1183.60" y="976.50" text-anchor="middle" font-size="10" textLength="22.20" lengthAdjust="spacingAndGlyphs" fill="#1a1a1a">SSX2</text>
<text x="1186.90" y="1223.40" text-anchor="middle" font-size="10.5" textLength="20.30" lengthAdjust="spacingAndGlyphs" fill="#1a1a1a">Visit</text>
<clipPath id="c25"><rect x="64.3" y="1308" width="133.10" height="176.20"/></clipPath>
<g clip-path="url(#c25)">
<line x1="64.3" x2="197.4" y1="1482.40" y2="1482.40" stroke="#a4a4a4" stroke-width="1"/>
<rect x="71.10" y="1394.28" width="6.60" height="88.12" fill="#3bb619" stroke="rgba(40,40,40,0.5)" stroke-width="0.7"/>
<rect x="79.16" y="1456.90" width="6.60" height="25.50" fill="#3bb619" stroke="rgba(40,40,40,0.5)" stroke-width="0.7"/>
<rect x="87.22" y="1396.30" width="6.60" height="86.10" fill="#3bb619" stroke="rgba(40,40,40,0.5)" stroke-width="0.7"/>
<rect x="95.27" y="1370.28" width="6.60" height="112.12" fill="#3bb619" stroke="rgba(40,40,40,0.5)" stroke-width="0.7"/>
<rect x="103.33" y="1394.28" width="6.60" height="88.12" fill="#3bb619" stroke="rgba(40,40,40,0.5)" stroke-width="0.7"/>
<rect x="111.39" y="1367.65" width="6.60" height="114.75" fill="#3bb619" stroke="rgba(40,40,40,0.5)" stroke-width="0.7"/>
<rect x="119.45" y="1439.20" width="6.60" height="43.20" fill="#3bb619" stroke="rgba(40,40,40,0.5)" stroke-width="0.7"/>
<rect x="127.51" y="1363.38" width="6.60" height="119.03" fill="#3bb619" stroke="rgba(40,40,40,0.5)" stroke-width="0.7"/>
<rect x="135.56" y="1389.40" width="6.60" height="93.00" fill="#3bb619" stroke="rgba(40,40,40,0.5)" stroke-width="0.7"/>
<rect x="143.62" y="1363.38" width="6.60" height="119.03" fill="#3bb619" stroke="rgba(40,40,40,0.5)" stroke-width="0.7"/>
<rect x="151.68" y="1361.20" width="6.60" height="121.20" fill="#3bb619" stroke="rgba(40,40,40,0.5)" stroke-width="0.7"/>
<rect x="159.74" y="1426.38" width="6.60" height="56.03" fill="#3bb619" stroke="rgba(40,40,40,0.5)" stroke-width="0.7"/>
<rect x="167.80" y="1407.33" width="6.60" height="75.08" fill="#3bb619" stroke="rgba(40,40,40,0.5)" stroke-width="0.7"/>
<rect x="175.85" y="1454.50" width="6.60" height="27.90" fill="#3bb619" stroke="rgba(40,40,40,0.5)" stroke-width="0.7"/>
<rect x="183.91" y="1387.60" width="6.60" height="94.80" fill="#3bb619" stroke="rgba(40,40,40,0.5)" stroke-width="0.7"/>
<line x1="74.40" x2="74.40" y1="1394.28" y2="1384.30" stroke="#2c2c2c" stroke-width="1.1"/>
<line x1="70.52" x2="78.29" y1="1384.30" y2="1384.30" stroke="#2c2c2c" stroke-width="1.1"/>
<line x1="82.46" x2="82.46" y1="1456.90" y2="1414.60" stroke="#2c2c2c" stroke-width="1.1"/>
<line x1="78.57" x2="86.34" y1="1414.60" y2="1414.60" stroke="#2c2c2c" stroke-width="1.1"/>
<line x1="90.52" x2="90.52" y1="1396.30" y2="1364.50" stroke="#2c2c2c" stroke-width="1.1"/>
<line x1="86.63" x2="94.40" y1="1364.50" y2="1364.50" stroke="#2c2c2c" stroke-width="1.1"/>
<line x1="98.57" x2="98.57" y1="1370.28" y2="1354.83" stroke="#2c2c2c" stroke-width="1.1"/>
<line x1="94.69" x2="102.46" y1="1354.83" y2="1354.83" stroke="#2c2c2c" stroke-width="1.1"/>
<line x1="106.63" x2="106.63" y1="1394.28" y2="1368.78" stroke="#2c2c2c" stroke-width="1.1"/>
<line x1="102.75" x2="110.52" y1="1368.78" y2="1368.78" stroke="#2c2c2c" stroke-width="1.1"/>
<line x1="114.69" x2="114.69" y1="1367.65" y2="1359.70" stroke="#2c2c2c" stroke-width="1.1"/>
<line x1="110.80" x2="118.58" y1="1359.70" y2="1359.70" stroke="#2c2c2c" stroke-width="1.1"/>
<line x1="122.75" x2="122.75" y1="1439.20" y2="1431.33" stroke="#2c2c2c" stroke-width="1.1"/>
<line x1="118.86" x2="126.63" y1="1431.33" y2="1431.33" stroke="#2c2c2c" stroke-width="1.1"/>
<line x1="130.81" x2="130.81" y1="1363.38" y2="1339.68" stroke="#2c2c2c" stroke-width="1.1"/>
<line x1="126.92" x2="134.69" y1="1339.68" y2="1339.68" stroke="#2c2c2c" stroke-width="1.1"/>
<line x1="138.86" x2="138.86" y1="1389.40" y2="1309.90" stroke="#2c2c2c" stroke-width="1.1"/>
<line x1="134.98" x2="142.75" y1="1309.90" y2="1309.90" stroke="#2c2c2c" stroke-width="1.1"/>
<line x1="146.92" x2="146.92" y1="1363.38" y2="1359.70" stroke="#2c2c2c" stroke-width="1.1"/>
<line x1="143.04" x2="150.81" y1="1359.70" y2="1359.70" stroke="#2c2c2c" stroke-width="1.1"/>
<line x1="154.98" x2="154.98" y1="1361.20" y2="1342.38" stroke="#2c2c2c" stroke-width="1.1"/>
<line x1="151.10" x2="158.87" y1="1342.38" y2="1342.38" stroke="#2c2c2c" stroke-width="1.1"/>
<line x1="163.04" x2="163.04" y1="1426.38" y2="1393.60" stroke="#2c2c2c" stroke-width="1.1"/>
<line x1="159.15" x2="166.92" y1="1393.60" y2="1393.60" stroke="#2c2c2c" stroke-width="1.1"/>
<line x1="171.10" x2="171.10" y1="1407.33" y2="1373.58" stroke="#2c2c2c" stroke-width="1.1"/>
<line x1="167.21" x2="174.98" y1="1373.58" y2="1373.58" stroke="#2c2c2c" stroke-width="1.1"/>
<line x1="179.15" x2="179.15" y1="1454.50" y2="1437.18" stroke="#2c2c2c" stroke-width="1.1"/>
<line x1="175.27" x2="183.04" y1="1437.18" y2="1437.18" stroke="#2c2c2c" stroke-width="1.1"/>
<line x1="187.21" x2="187.21" y1="1387.60" y2="1357.53" stroke="#2c2c2c" stroke-width="1.1"/>
<line x1="183.33" x2="191.10" y1="1357.53" y2="1357.53" stroke="#2c2c2c" stroke-width="1.1"/>
</g>
<rect x="64.3" y="1308" width="133.10" height="176.20" fill="none" stroke="#2e2e2e" stroke-width="1.3"/>
<line x1="58.30" x2="64.3" y1="1482.40" y2="1482.40" stroke="#222" stroke-width="1"/>
<text x="53.70" y="1486.18" text-anchor="end" font-size="10.5" textLength="5.84" lengthAdjust="spacingAndGlyphs" fill="#1a1a1a">0</text>
<line x1="58.30" x2="64.3" y1="1444.90" y2="1444.90" stroke="#222" stroke-width="1"/>
<text x="53.70" y="1448.68" text-anchor="end" font-size="10.5" textLength="11.68" lengthAdjust="spacingAndGlyphs" fill="#1a1a1a">50</text>
<line x1="58.30" x2="64.3" y1="1407.40" y2="1407.40" stroke="#222" stroke-width="1"/>
<text x="53.70" y="1411.18" text-anchor="end" font-size="10.5" textLength="17.52" lengthAdjust="spacingAndGlyphs" fill="#1a1a1a">100</text>
<line x1="58.30" x2="64.3" y1="1369.90" y2="1369.90" stroke="#222" stroke-width="1"/>
<text x="53.70" y="1373.68" text-anchor="end" font-size="10.5" textLength="17.52" lengthAdjust="spacingAndGlyphs" fill="#1a1a1a">150</text>
<line x1="58.30" x2="64.3" y1="1332.40" y2="1332.40" stroke="#222" stroke-width="1"/>
<text x="53.70" y="1336.18" text-anchor="end" font-size="10.5" textLength="17.52" lengthAdjust="spacingAndGlyphs" fill="#1a1a1a">200</text>
<line x1="74.40" x2="74.40" y1="1484.2" y2="1490.7" stroke="#333" stroke-width="1.1"/>
<text transform="translate(77.20,1494.70) rotate(-90)" text-anchor="end" font-size="11" textLength="17.60" lengthAdjust="spacingAndGlyphs" fill="#1a1a1a">SCR</text>
<line x1="90.52" x2="90.52" y1="1484.2" y2="1490.7" stroke="#333" stroke-width="1.1"/>
<text transform="translate(93.32,1494.70) rotate(-90)" text-anchor="end" font-size="11" textLength="25.17" lengthAdjust="spacingAndGlyphs" fill="#1a1a1a">C2D7</text>
<line x1="106.63" x2="106.63" y1="1484.2" y2="1490.7" stroke="#333" stroke-width="1.1"/>
<text transform="translate(109.43,1494.70) rotate(-90)" text-anchor="end" font-size="11" textLength="25.17" lengthAdjust="spacingAndGlyphs" fill="#1a1a1a">C4D7</text>
<line x1="122.75" x2="122.75" y1="1484.2" y2="1490.7" stroke="#333" stroke-width="1.1"/>
<text transform="translate(125.55,1494.70) rotate(-90)" text-anchor="end" font-size="11" textLength="25.17" lengthAdjust="spacingAndGlyphs" fill="#1a1a1a">C6D7</text>
<line x1="138.86" x2="138.86" y1="1484.2" y2="1490.7" stroke="#333" stroke-width="1.1"/>
<text transform="translate(141.66,1494.70) rotate(-90)" text-anchor="end" font-size="11" textLength="25.17" lengthAdjust="spacingAndGlyphs" fill="#1a1a1a">C8D7</text>
<line x1="154.98" x2="154.98" y1="1484.2" y2="1490.7" stroke="#333" stroke-width="1.1"/>
<text transform="translate(157.78,1494.70) rotate(-90)" text-anchor="end" font-size="11" textLength="30.64" lengthAdjust="spacingAndGlyphs" fill="#1a1a1a">C10D7</text>
<line x1="171.10" x2="171.10" y1="1484.2" y2="1490.7" stroke="#333" stroke-width="1.1"/>
<text transform="translate(173.90,1494.70) rotate(-90)" text-anchor="end" font-size="11" textLength="30.64" lengthAdjust="spacingAndGlyphs" fill="#1a1a1a">C12D7</text>
<line x1="187.21" x2="187.21" y1="1484.2" y2="1490.7" stroke="#333" stroke-width="1.1"/>
<text transform="translate(190.01,1494.70) rotate(-90)" text-anchor="end" font-size="11" textLength="30.64" lengthAdjust="spacingAndGlyphs" fill="#1a1a1a">C14D7</text>
<text x="130.90" y="1300.10" text-anchor="middle" font-size="10" textLength="23.00" lengthAdjust="spacingAndGlyphs" fill="#1a1a1a">CEFT</text>
<text x="129.40" y="1549.30" text-anchor="middle" font-size="10.5" textLength="20.30" lengthAdjust="spacingAndGlyphs" fill="#1a1a1a">Visit</text>
<text transform="translate(10.50,1389.40) rotate(-90)" text-anchor="middle" font-size="12" fill="#1a1a1a" textLength="76.5" lengthAdjust="spacingAndGlyphs">SFC/10<tspan font-size="8.2" dx="1" dy="-4.3">6</tspan><tspan dy="4.3"> PBMC</tspan></text>
<clipPath id="c26"><rect x="268.7" y="1308" width="126.90" height="176.20"/></clipPath>
<g clip-path="url(#c26)">
<line x1="268.7" x2="395.6" y1="1481.50" y2="1481.50" stroke="#a4a4a4" stroke-width="1"/>
<rect x="276.30" y="1481.50" width="6.60" height="0.77" fill="#3776bb" stroke="rgba(40,40,40,0.5)" stroke-width="0.7"/>
<rect x="283.86" y="1474.18" width="6.60" height="7.32" fill="#3776bb" stroke="rgba(40,40,40,0.5)" stroke-width="0.7"/>
<rect x="291.43" y="1481.50" width="6.60" height="0.96" fill="#3776bb" stroke="rgba(40,40,40,0.5)" stroke-width="0.7"/>
<rect x="298.99" y="1448.29" width="6.60" height="33.21" fill="#3776bb" stroke="rgba(40,40,40,0.5)" stroke-width="0.7"/>
<rect x="306.55" y="1403.14" width="6.60" height="78.36" fill="#3776bb" stroke="rgba(40,40,40,0.5)" stroke-width="0.7"/>
<rect x="314.12" y="1374.54" width="6.60" height="106.96" fill="#3776bb" stroke="rgba(40,40,40,0.5)" stroke-width="0.7"/>
<rect x="321.68" y="1439.04" width="6.60" height="42.46" fill="#3776bb" stroke="rgba(40,40,40,0.5)" stroke-width="0.7"/>
<rect x="329.24" y="1406.70" width="6.60" height="74.80" fill="#3776bb" stroke="rgba(40,40,40,0.5)" stroke-width="0.7"/>
<rect x="336.80" y="1403.52" width="6.60" height="77.98" fill="#3776bb" stroke="rgba(40,40,40,0.5)" stroke-width="0.7"/>
<rect x="344.37" y="1382.53" width="6.60" height="98.97" fill="#3776bb" stroke="rgba(40,40,40,0.5)" stroke-width="0.7"/>
<rect x="351.93" y="1385.23" width="6.60" height="96.27" fill="#3776bb" stroke="rgba(40,40,40,0.5)" stroke-width="0.7"/>
<rect x="359.49" y="1404.00" width="6.60" height="77.50" fill="#3776bb" stroke="rgba(40,40,40,0.5)" stroke-width="0.7"/>
<rect x="367.06" y="1417.10" width="6.60" height="64.40" fill="#3776bb" stroke="rgba(40,40,40,0.5)" stroke-width="0.7"/>
<rect x="374.62" y="1401.31" width="6.60" height="80.19" fill="#3776bb" stroke="rgba(40,40,40,0.5)" stroke-width="0.7"/>
<rect x="382.18" y="1318.32" width="6.60" height="163.18" fill="#3776bb" stroke="rgba(40,40,40,0.5)" stroke-width="0.7"/>
<line x1="287.16" x2="287.16" y1="1474.18" y2="1456.47" stroke="#2c2c2c" stroke-width="1.1"/>
<line x1="283.28" x2="291.05" y1="1456.47" y2="1456.47" stroke="#2c2c2c" stroke-width="1.1"/>
<line x1="302.29" x2="302.29" y1="1448.29" y2="1445.40" stroke="#2c2c2c" stroke-width="1.1"/>
<line x1="298.40" x2="306.17" y1="1445.40" y2="1445.40" stroke="#2c2c2c" stroke-width="1.1"/>
<line x1="309.85" x2="309.85" y1="1403.14" y2="1398.52" stroke="#2c2c2c" stroke-width="1.1"/>
<line x1="305.97" x2="313.74" y1="1398.52" y2="1398.52" stroke="#2c2c2c" stroke-width="1.1"/>
<line x1="317.42" x2="317.42" y1="1374.54" y2="1371.56" stroke="#2c2c2c" stroke-width="1.1"/>
<line x1="313.53" x2="321.30" y1="1371.56" y2="1371.56" stroke="#2c2c2c" stroke-width="1.1"/>
<line x1="324.98" x2="324.98" y1="1439.04" y2="1436.25" stroke="#2c2c2c" stroke-width="1.1"/>
<line x1="321.09" x2="328.86" y1="1436.25" y2="1436.25" stroke="#2c2c2c" stroke-width="1.1"/>
<line x1="332.54" x2="332.54" y1="1406.70" y2="1403.14" stroke="#2c2c2c" stroke-width="1.1"/>
<line x1="328.66" x2="336.43" y1="1403.14" y2="1403.14" stroke="#2c2c2c" stroke-width="1.1"/>
<line x1="340.10" x2="340.10" y1="1403.52" y2="1377.62" stroke="#2c2c2c" stroke-width="1.1"/>
<line x1="336.22" x2="343.99" y1="1377.62" y2="1377.62" stroke="#2c2c2c" stroke-width="1.1"/>
<line x1="347.67" x2="347.67" y1="1382.53" y2="1373.87" stroke="#2c2c2c" stroke-width="1.1"/>
<line x1="343.78" x2="351.55" y1="1373.87" y2="1373.87" stroke="#2c2c2c" stroke-width="1.1"/>
<line x1="355.23" x2="355.23" y1="1385.23" y2="1376.28" stroke="#2c2c2c" stroke-width="1.1"/>
<line x1="351.35" x2="359.12" y1="1376.28" y2="1376.28" stroke="#2c2c2c" stroke-width="1.1"/>
<line x1="362.79" x2="362.79" y1="1404.00" y2="1389.37" stroke="#2c2c2c" stroke-width="1.1"/>
<line x1="358.91" x2="366.68" y1="1389.37" y2="1389.37" stroke="#2c2c2c" stroke-width="1.1"/>
<line x1="370.36" x2="370.36" y1="1417.10" y2="1409.49" stroke="#2c2c2c" stroke-width="1.1"/>
<line x1="366.47" x2="374.24" y1="1409.49" y2="1409.49" stroke="#2c2c2c" stroke-width="1.1"/>
<line x1="377.92" x2="377.92" y1="1401.31" y2="1401.31" stroke="#2c2c2c" stroke-width="1.1"/>
<line x1="374.03" x2="381.80" y1="1401.31" y2="1401.31" stroke="#2c2c2c" stroke-width="1.1"/>
<line x1="385.48" x2="385.48" y1="1318.32" y2="1309.75" stroke="#2c2c2c" stroke-width="1.1"/>
<line x1="381.60" x2="389.37" y1="1309.75" y2="1309.75" stroke="#2c2c2c" stroke-width="1.1"/>
</g>
<rect x="268.7" y="1308" width="126.90" height="176.20" fill="none" stroke="#2e2e2e" stroke-width="1.3"/>
<line x1="262.70" x2="268.7" y1="1481.50" y2="1481.50" stroke="#222" stroke-width="1"/>
<text x="258.10" y="1485.28" text-anchor="end" font-size="10.5" textLength="5.84" lengthAdjust="spacingAndGlyphs" fill="#1a1a1a">0</text>
<line x1="262.70" x2="268.7" y1="1433.37" y2="1433.37" stroke="#222" stroke-width="1"/>
<text x="258.10" y="1437.14" text-anchor="end" font-size="10.5" textLength="17.52" lengthAdjust="spacingAndGlyphs" fill="#1a1a1a">500</text>
<line x1="262.70" x2="268.7" y1="1385.23" y2="1385.23" stroke="#222" stroke-width="1"/>
<text x="258.10" y="1389.01" text-anchor="end" font-size="10.5" textLength="23.36" lengthAdjust="spacingAndGlyphs" fill="#1a1a1a">1000</text>
<line x1="262.70" x2="268.7" y1="1337.10" y2="1337.10" stroke="#222" stroke-width="1"/>
<text x="258.10" y="1340.88" text-anchor="end" font-size="10.5" textLength="23.36" lengthAdjust="spacingAndGlyphs" fill="#1a1a1a">1500</text>
<line x1="279.60" x2="279.60" y1="1484.2" y2="1490.7" stroke="#333" stroke-width="1.1"/>
<text transform="translate(282.40,1494.70) rotate(-90)" text-anchor="end" font-size="11" textLength="17.60" lengthAdjust="spacingAndGlyphs" fill="#1a1a1a">SCR</text>
<line x1="294.73" x2="294.73" y1="1484.2" y2="1490.7" stroke="#333" stroke-width="1.1"/>
<text transform="translate(297.53,1494.70) rotate(-90)" text-anchor="end" font-size="11" textLength="25.17" lengthAdjust="spacingAndGlyphs" fill="#1a1a1a">C2D7</text>
<line x1="309.85" x2="309.85" y1="1484.2" y2="1490.7" stroke="#333" stroke-width="1.1"/>
<text transform="translate(312.65,1494.70) rotate(-90)" text-anchor="end" font-size="11" textLength="25.17" lengthAdjust="spacingAndGlyphs" fill="#1a1a1a">C4D7</text>
<line x1="324.98" x2="324.98" y1="1484.2" y2="1490.7" stroke="#333" stroke-width="1.1"/>
<text transform="translate(327.78,1494.70) rotate(-90)" text-anchor="end" font-size="11" textLength="25.17" lengthAdjust="spacingAndGlyphs" fill="#1a1a1a">C6D7</text>
<line x1="340.10" x2="340.10" y1="1484.2" y2="1490.7" stroke="#333" stroke-width="1.1"/>
<text transform="translate(342.90,1494.70) rotate(-90)" text-anchor="end" font-size="11" textLength="25.17" lengthAdjust="spacingAndGlyphs" fill="#1a1a1a">C8D7</text>
<line x1="355.23" x2="355.23" y1="1484.2" y2="1490.7" stroke="#333" stroke-width="1.1"/>
<text transform="translate(358.03,1494.70) rotate(-90)" text-anchor="end" font-size="11" textLength="30.64" lengthAdjust="spacingAndGlyphs" fill="#1a1a1a">C10D7</text>
<line x1="370.36" x2="370.36" y1="1484.2" y2="1490.7" stroke="#333" stroke-width="1.1"/>
<text transform="translate(373.16,1494.70) rotate(-90)" text-anchor="end" font-size="11" textLength="30.64" lengthAdjust="spacingAndGlyphs" fill="#1a1a1a">C12D7</text>
<line x1="385.48" x2="385.48" y1="1484.2" y2="1490.7" stroke="#333" stroke-width="1.1"/>
<text transform="translate(388.28,1494.70) rotate(-90)" text-anchor="end" font-size="11" textLength="30.64" lengthAdjust="spacingAndGlyphs" fill="#1a1a1a">C14D7</text>
<text x="332.50" y="1300.10" text-anchor="middle" font-size="10" textLength="16.80" lengthAdjust="spacingAndGlyphs" fill="#1a1a1a">LLO</text>
<text x="330.90" y="1549.30" text-anchor="middle" font-size="10.5" textLength="20.30" lengthAdjust="spacingAndGlyphs" fill="#1a1a1a">Visit</text>
<clipPath id="c27"><rect x="464.3" y="1308" width="129.30" height="176.20"/></clipPath>
<g clip-path="url(#c27)">
<line x1="464.3" x2="593.6" y1="1345.30" y2="1345.30" stroke="#a4a4a4" stroke-width="1"/>
<rect x="471.90" y="1343.35" width="6.40" height="1.95" fill="#ee4d5b" stroke="rgba(40,40,40,0.5)" stroke-width="0.7"/>
<rect x="479.62" y="1345.30" width="6.40" height="137.14" fill="#ee4d5b" stroke="rgba(40,40,40,0.5)" stroke-width="0.7"/>
<rect x="487.34" y="1345.30" width="6.40" height="59.24" fill="#ee4d5b" stroke="rgba(40,40,40,0.5)" stroke-width="0.7"/>
<rect x="495.06" y="1345.30" width="6.40" height="25.84" fill="#ee4d5b" stroke="rgba(40,40,40,0.5)" stroke-width="0.7"/>
<rect x="502.78" y="1337.74" width="6.40" height="7.56" fill="#ee4d5b" stroke="rgba(40,40,40,0.5)" stroke-width="0.7"/>
<rect x="510.50" y="1345.30" width="6.40" height="23.53" fill="#ee4d5b" stroke="rgba(40,40,40,0.5)" stroke-width="0.7"/>
<rect x="518.22" y="1345.30" width="6.40" height="18.04" fill="#ee4d5b" stroke="rgba(40,40,40,0.5)" stroke-width="0.7"/>
<rect x="525.94" y="1345.30" width="6.40" height="14.99" fill="#ee4d5b" stroke="rgba(40,40,40,0.5)" stroke-width="0.7"/>
<rect x="533.66" y="1345.30" width="6.40" height="24.99" fill="#ee4d5b" stroke="rgba(40,40,40,0.5)" stroke-width="0.7"/>
<rect x="541.38" y="1345.30" width="6.40" height="35.59" fill="#ee4d5b" stroke="rgba(40,40,40,0.5)" stroke-width="0.7"/>
<rect x="549.10" y="1345.30" width="6.40" height="3.05" fill="#ee4d5b" stroke="rgba(40,40,40,0.5)" stroke-width="0.7"/>
<rect x="556.82" y="1345.30" width="6.40" height="29.01" fill="#ee4d5b" stroke="rgba(40,40,40,0.5)" stroke-width="0.7"/>
<rect x="564.54" y="1345.30" width="6.40" height="49.25" fill="#ee4d5b" stroke="rgba(40,40,40,0.5)" stroke-width="0.7"/>
<rect x="572.26" y="1344.45" width="6.40" height="0.85" fill="#ee4d5b" stroke="rgba(40,40,40,0.5)" stroke-width="0.7"/>
<rect x="579.98" y="1345.30" width="6.40" height="40.96" fill="#ee4d5b" stroke="rgba(40,40,40,0.5)" stroke-width="0.7"/>
<line x1="475.10" x2="475.10" y1="1343.35" y2="1309.95" stroke="#2c2c2c" stroke-width="1.1"/>
<line x1="471.31" x2="478.89" y1="1309.95" y2="1309.95" stroke="#2c2c2c" stroke-width="1.1"/>
<line x1="482.82" x2="482.82" y1="1482.44" y2="1447.70" stroke="#2c2c2c" stroke-width="1.1"/>
<line x1="479.03" x2="486.61" y1="1447.70" y2="1447.70" stroke="#2c2c2c" stroke-width="1.1"/>
<line x1="490.54" x2="490.54" y1="1404.54" y2="1386.99" stroke="#2c2c2c" stroke-width="1.1"/>
<line x1="486.75" x2="494.33" y1="1386.99" y2="1386.99" stroke="#2c2c2c" stroke-width="1.1"/>
<line x1="498.26" x2="498.26" y1="1371.14" y2="1356.64" stroke="#2c2c2c" stroke-width="1.1"/>
<line x1="494.47" x2="502.05" y1="1356.64" y2="1356.64" stroke="#2c2c2c" stroke-width="1.1"/>
<line x1="505.98" x2="505.98" y1="1337.74" y2="1323.36" stroke="#2c2c2c" stroke-width="1.1"/>
<line x1="502.19" x2="509.77" y1="1323.36" y2="1323.36" stroke="#2c2c2c" stroke-width="1.1"/>
<line x1="513.70" x2="513.70" y1="1368.83" y2="1351.64" stroke="#2c2c2c" stroke-width="1.1"/>
<line x1="509.91" x2="517.49" y1="1351.64" y2="1351.64" stroke="#2c2c2c" stroke-width="1.1"/>
<line x1="521.42" x2="521.42" y1="1363.34" y2="1356.15" stroke="#2c2c2c" stroke-width="1.1"/>
<line x1="517.63" x2="525.21" y1="1356.15" y2="1356.15" stroke="#2c2c2c" stroke-width="1.1"/>
<line x1="529.14" x2="529.14" y1="1360.29" y2="1358.10" stroke="#2c2c2c" stroke-width="1.1"/>
<line x1="525.35" x2="532.93" y1="1358.10" y2="1358.10" stroke="#2c2c2c" stroke-width="1.1"/>
<line x1="536.86" x2="536.86" y1="1370.29" y2="1323.85" stroke="#2c2c2c" stroke-width="1.1"/>
<line x1="533.07" x2="540.65" y1="1323.85" y2="1323.85" stroke="#2c2c2c" stroke-width="1.1"/>
<line x1="544.58" x2="544.58" y1="1380.89" y2="1349.93" stroke="#2c2c2c" stroke-width="1.1"/>
<line x1="540.79" x2="548.37" y1="1349.93" y2="1349.93" stroke="#2c2c2c" stroke-width="1.1"/>
<line x1="552.30" x2="552.30" y1="1348.35" y2="1319.58" stroke="#2c2c2c" stroke-width="1.1"/>
<line x1="548.51" x2="556.09" y1="1319.58" y2="1319.58" stroke="#2c2c2c" stroke-width="1.1"/>
<line x1="560.02" x2="560.02" y1="1374.31" y2="1365.66" stroke="#2c2c2c" stroke-width="1.1"/>
<line x1="556.23" x2="563.81" y1="1365.66" y2="1365.66" stroke="#2c2c2c" stroke-width="1.1"/>
<line x1="567.74" x2="567.74" y1="1394.55" y2="1377.24" stroke="#2c2c2c" stroke-width="1.1"/>
<line x1="563.95" x2="571.53" y1="1377.24" y2="1377.24" stroke="#2c2c2c" stroke-width="1.1"/>
<line x1="575.46" x2="575.46" y1="1344.45" y2="1314.70" stroke="#2c2c2c" stroke-width="1.1"/>
<line x1="571.67" x2="579.25" y1="1314.70" y2="1314.70" stroke="#2c2c2c" stroke-width="1.1"/>
<line x1="583.18" x2="583.18" y1="1386.26" y2="1361.15" stroke="#2c2c2c" stroke-width="1.1"/>
<line x1="579.39" x2="586.97" y1="1361.15" y2="1361.15" stroke="#2c2c2c" stroke-width="1.1"/>
</g>
<rect x="464.3" y="1308" width="129.30" height="176.20" fill="none" stroke="#2e2e2e" stroke-width="1.3"/>
<line x1="458.30" x2="464.3" y1="1467.20" y2="1467.20" stroke="#222" stroke-width="1"/>
<text x="453.70" y="1470.98" text-anchor="end" font-size="10.5" textLength="21.01" lengthAdjust="spacingAndGlyphs" fill="#1a1a1a">-100</text>
<line x1="458.30" x2="464.3" y1="1406.25" y2="1406.25" stroke="#222" stroke-width="1"/>
<text x="453.70" y="1410.03" text-anchor="end" font-size="10.5" textLength="15.17" lengthAdjust="spacingAndGlyphs" fill="#1a1a1a">-50</text>
<line x1="458.30" x2="464.3" y1="1345.30" y2="1345.30" stroke="#222" stroke-width="1"/>
<text x="453.70" y="1349.08" text-anchor="end" font-size="10.5" textLength="5.84" lengthAdjust="spacingAndGlyphs" fill="#1a1a1a">0</text>
<line x1="475.10" x2="475.10" y1="1484.2" y2="1490.7" stroke="#333" stroke-width="1.1"/>
<text transform="translate(477.90,1494.70) rotate(-90)" text-anchor="end" font-size="11" textLength="17.60" lengthAdjust="spacingAndGlyphs" fill="#1a1a1a">SCR</text>
<line x1="490.54" x2="490.54" y1="1484.2" y2="1490.7" stroke="#333" stroke-width="1.1"/>
<text transform="translate(493.34,1494.70) rotate(-90)" text-anchor="end" font-size="11" textLength="25.17" lengthAdjust="spacingAndGlyphs" fill="#1a1a1a">C2D7</text>
<line x1="505.98" x2="505.98" y1="1484.2" y2="1490.7" stroke="#333" stroke-width="1.1"/>
<text transform="translate(508.78,1494.70) rotate(-90)" text-anchor="end" font-size="11" textLength="25.17" lengthAdjust="spacingAndGlyphs" fill="#1a1a1a">C4D7</text>
<line x1="521.42" x2="521.42" y1="1484.2" y2="1490.7" stroke="#333" stroke-width="1.1"/>
<text transform="translate(524.22,1494.70) rotate(-90)" text-anchor="end" font-size="11" textLength="25.17" lengthAdjust="spacingAndGlyphs" fill="#1a1a1a">C6D7</text>
<line x1="536.86" x2="536.86" y1="1484.2" y2="1490.7" stroke="#333" stroke-width="1.1"/>
<text transform="translate(539.66,1494.70) rotate(-90)" text-anchor="end" font-size="11" textLength="25.17" lengthAdjust="spacingAndGlyphs" fill="#1a1a1a">C8D7</text>
<line x1="552.30" x2="552.30" y1="1484.2" y2="1490.7" stroke="#333" stroke-width="1.1"/>
<text transform="translate(555.10,1494.70) rotate(-90)" text-anchor="end" font-size="11" textLength="30.64" lengthAdjust="spacingAndGlyphs" fill="#1a1a1a">C10D7</text>
<line x1="567.74" x2="567.74" y1="1484.2" y2="1490.7" stroke="#333" stroke-width="1.1"/>
<text transform="translate(570.54,1494.70) rotate(-90)" text-anchor="end" font-size="11" textLength="30.64" lengthAdjust="spacingAndGlyphs" fill="#1a1a1a">C12D7</text>
<line x1="583.18" x2="583.18" y1="1484.2" y2="1490.7" stroke="#333" stroke-width="1.1"/>
<text transform="translate(585.98,1494.70) rotate(-90)" text-anchor="end" font-size="11" textLength="30.64" lengthAdjust="spacingAndGlyphs" fill="#1a1a1a">C14D7</text>
<text x="528.90" y="1300.10" text-anchor="middle" font-size="10" textLength="34.50" lengthAdjust="spacingAndGlyphs" fill="#1a1a1a">NKX3.1</text>
<text x="530.90" y="1549.30" text-anchor="middle" font-size="10.5" textLength="20.30" lengthAdjust="spacingAndGlyphs" fill="#1a1a1a">Visit</text>
<clipPath id="c28"><rect x="58.7" y="1593.2" width="137.20" height="181.30"/></clipPath>
<g clip-path="url(#c28)">
<line x1="58.7" x2="195.9" y1="1650.80" y2="1650.80" stroke="#a4a4a4" stroke-width="1"/>
<rect x="65.65" y="1650.80" width="7.30" height="24.38" fill="#3bb619" stroke="rgba(40,40,40,0.5)" stroke-width="0.7"/>
<rect x="73.95" y="1650.80" width="7.30" height="121.90" fill="#3bb619" stroke="rgba(40,40,40,0.5)" stroke-width="0.7"/>
<rect x="82.26" y="1650.80" width="7.30" height="101.03" fill="#3bb619" stroke="rgba(40,40,40,0.5)" stroke-width="0.7"/>
<rect x="90.56" y="1650.80" width="7.30" height="52.80" fill="#3bb619" stroke="rgba(40,40,40,0.5)" stroke-width="0.7"/>
<rect x="98.87" y="1631.40" width="7.30" height="19.40" fill="#3bb619" stroke="rgba(40,40,40,0.5)" stroke-width="0.7"/>
<rect x="107.17" y="1650.80" width="7.30" height="9.43" fill="#3bb619" stroke="rgba(40,40,40,0.5)" stroke-width="0.7"/>
<rect x="115.48" y="1650.80" width="7.30" height="18.59" fill="#3bb619" stroke="rgba(40,40,40,0.5)" stroke-width="0.7"/>
<rect x="123.78" y="1648.38" width="7.30" height="2.42" fill="#3bb619" stroke="rgba(40,40,40,0.5)" stroke-width="0.7"/>
<rect x="132.09" y="1645.14" width="7.30" height="5.66" fill="#3bb619" stroke="rgba(40,40,40,0.5)" stroke-width="0.7"/>
<rect x="140.40" y="1650.80" width="7.30" height="27.75" fill="#3bb619" stroke="rgba(40,40,40,0.5)" stroke-width="0.7"/>
<rect x="148.70" y="1637.46" width="7.30" height="13.34" fill="#3bb619" stroke="rgba(40,40,40,0.5)" stroke-width="0.7"/>
<rect x="157.00" y="1650.80" width="7.30" height="49.43" fill="#3bb619" stroke="rgba(40,40,40,0.5)" stroke-width="0.7"/>
<rect x="165.31" y="1650.80" width="7.30" height="10.91" fill="#3bb619" stroke="rgba(40,40,40,0.5)" stroke-width="0.7"/>
<rect x="173.61" y="1650.80" width="7.30" height="35.02" fill="#3bb619" stroke="rgba(40,40,40,0.5)" stroke-width="0.7"/>
<rect x="181.92" y="1650.80" width="7.30" height="18.18" fill="#3bb619" stroke="rgba(40,40,40,0.5)" stroke-width="0.7"/>
<line x1="69.30" x2="69.30" y1="1675.18" y2="1653.31" stroke="#2c2c2c" stroke-width="1.1"/>
<line x1="65.08" x2="73.52" y1="1653.31" y2="1653.31" stroke="#2c2c2c" stroke-width="1.1"/>
<line x1="77.60" x2="77.60" y1="1772.70" y2="1712.22" stroke="#2c2c2c" stroke-width="1.1"/>
<line x1="73.39" x2="81.82" y1="1712.22" y2="1712.22" stroke="#2c2c2c" stroke-width="1.1"/>
<line x1="85.91" x2="85.91" y1="1751.83" y2="1739.43" stroke="#2c2c2c" stroke-width="1.1"/>
<line x1="81.69" x2="90.13" y1="1739.43" y2="1739.43" stroke="#2c2c2c" stroke-width="1.1"/>
<line x1="94.22" x2="94.22" y1="1703.60" y2="1676.26" stroke="#2c2c2c" stroke-width="1.1"/>
<line x1="90.00" x2="98.43" y1="1676.26" y2="1676.26" stroke="#2c2c2c" stroke-width="1.1"/>
<line x1="102.52" x2="102.52" y1="1631.40" y2="1594.63" stroke="#2c2c2c" stroke-width="1.1"/>
<line x1="98.30" x2="106.74" y1="1594.63" y2="1594.63" stroke="#2c2c2c" stroke-width="1.1"/>
<line x1="110.82" x2="110.82" y1="1660.23" y2="1626.96" stroke="#2c2c2c" stroke-width="1.1"/>
<line x1="106.61" x2="115.04" y1="1626.96" y2="1626.96" stroke="#2c2c2c" stroke-width="1.1"/>
<line x1="119.13" x2="119.13" y1="1669.39" y2="1666.29" stroke="#2c2c2c" stroke-width="1.1"/>
<line x1="114.91" x2="123.35" y1="1666.29" y2="1666.29" stroke="#2c2c2c" stroke-width="1.1"/>
<line x1="127.44" x2="127.44" y1="1648.38" y2="1640.16" stroke="#2c2c2c" stroke-width="1.1"/>
<line x1="123.22" x2="131.65" y1="1640.16" y2="1640.16" stroke="#2c2c2c" stroke-width="1.1"/>
<line x1="135.74" x2="135.74" y1="1645.14" y2="1631.54" stroke="#2c2c2c" stroke-width="1.1"/>
<line x1="131.52" x2="139.96" y1="1631.54" y2="1631.54" stroke="#2c2c2c" stroke-width="1.1"/>
<line x1="144.05" x2="144.05" y1="1678.55" y2="1659.96" stroke="#2c2c2c" stroke-width="1.1"/>
<line x1="139.83" x2="148.26" y1="1659.96" y2="1659.96" stroke="#2c2c2c" stroke-width="1.1"/>
<line x1="152.35" x2="152.35" y1="1637.46" y2="1617.39" stroke="#2c2c2c" stroke-width="1.1"/>
<line x1="148.13" x2="156.57" y1="1617.39" y2="1617.39" stroke="#2c2c2c" stroke-width="1.1"/>
<line x1="160.65" x2="160.65" y1="1700.23" y2="1610.52" stroke="#2c2c2c" stroke-width="1.1"/>
<line x1="156.44" x2="164.87" y1="1610.52" y2="1610.52" stroke="#2c2c2c" stroke-width="1.1"/>
<line x1="168.96" x2="168.96" y1="1661.71" y2="1627.77" stroke="#2c2c2c" stroke-width="1.1"/>
<line x1="164.74" x2="173.18" y1="1627.77" y2="1627.77" stroke="#2c2c2c" stroke-width="1.1"/>
<line x1="177.26" x2="177.26" y1="1685.82" y2="1655.11" stroke="#2c2c2c" stroke-width="1.1"/>
<line x1="173.05" x2="181.48" y1="1655.11" y2="1655.11" stroke="#2c2c2c" stroke-width="1.1"/>
<line x1="185.57" x2="185.57" y1="1668.98" y2="1647.84" stroke="#2c2c2c" stroke-width="1.1"/>
<line x1="181.35" x2="189.79" y1="1647.84" y2="1647.84" stroke="#2c2c2c" stroke-width="1.1"/>
</g>
<rect x="58.7" y="1593.2" width="137.20" height="181.30" fill="none" stroke="#2e2e2e" stroke-width="1.3"/>
<line x1="52.70" x2="58.7" y1="1751.83" y2="1751.83" stroke="#222" stroke-width="1"/>
<text x="48.10" y="1755.61" text-anchor="end" font-size="10.5" textLength="15.17" lengthAdjust="spacingAndGlyphs" fill="#1a1a1a">-75</text>
<line x1="52.70" x2="58.7" y1="1718.15" y2="1718.15" stroke="#222" stroke-width="1"/>
<text x="48.10" y="1721.93" text-anchor="end" font-size="10.5" textLength="15.17" lengthAdjust="spacingAndGlyphs" fill="#1a1a1a">-50</text>
<line x1="52.70" x2="58.7" y1="1684.47" y2="1684.47" stroke="#222" stroke-width="1"/>
<text x="48.10" y="1688.25" text-anchor="end" font-size="10.5" textLength="15.17" lengthAdjust="spacingAndGlyphs" fill="#1a1a1a">-25</text>
<line x1="52.70" x2="58.7" y1="1650.80" y2="1650.80" stroke="#222" stroke-width="1"/>
<text x="48.10" y="1654.58" text-anchor="end" font-size="10.5" textLength="5.84" lengthAdjust="spacingAndGlyphs" fill="#1a1a1a">0</text>
<line x1="52.70" x2="58.7" y1="1617.12" y2="1617.12" stroke="#222" stroke-width="1"/>
<text x="48.10" y="1620.90" text-anchor="end" font-size="10.5" textLength="11.68" lengthAdjust="spacingAndGlyphs" fill="#1a1a1a">25</text>
<line x1="69.30" x2="69.30" y1="1774.5" y2="1781.0" stroke="#333" stroke-width="1.1"/>
<text transform="translate(72.10,1785.00) rotate(-90)" text-anchor="end" font-size="11" textLength="17.60" lengthAdjust="spacingAndGlyphs" fill="#1a1a1a">SCR</text>
<line x1="85.91" x2="85.91" y1="1774.5" y2="1781.0" stroke="#333" stroke-width="1.1"/>
<text transform="translate(88.71,1785.00) rotate(-90)" text-anchor="end" font-size="11" textLength="25.17" lengthAdjust="spacingAndGlyphs" fill="#1a1a1a">C2D7</text>
<line x1="102.52" x2="102.52" y1="1774.5" y2="1781.0" stroke="#333" stroke-width="1.1"/>
<text transform="translate(105.32,1785.00) rotate(-90)" text-anchor="end" font-size="11" textLength="25.17" lengthAdjust="spacingAndGlyphs" fill="#1a1a1a">C4D7</text>
<line x1="119.13" x2="119.13" y1="1774.5" y2="1781.0" stroke="#333" stroke-width="1.1"/>
<text transform="translate(121.93,1785.00) rotate(-90)" text-anchor="end" font-size="11" textLength="25.17" lengthAdjust="spacingAndGlyphs" fill="#1a1a1a">C6D7</text>
<line x1="135.74" x2="135.74" y1="1774.5" y2="1781.0" stroke="#333" stroke-width="1.1"/>
<text transform="translate(138.54,1785.00) rotate(-90)" text-anchor="end" font-size="11" textLength="25.17" lengthAdjust="spacingAndGlyphs" fill="#1a1a1a">C8D7</text>
<line x1="152.35" x2="152.35" y1="1774.5" y2="1781.0" stroke="#333" stroke-width="1.1"/>
<text transform="translate(155.15,1785.00) rotate(-90)" text-anchor="end" font-size="11" textLength="30.64" lengthAdjust="spacingAndGlyphs" fill="#1a1a1a">C10D7</text>
<line x1="168.96" x2="168.96" y1="1774.5" y2="1781.0" stroke="#333" stroke-width="1.1"/>
<text transform="translate(171.76,1785.00) rotate(-90)" text-anchor="end" font-size="11" textLength="30.64" lengthAdjust="spacingAndGlyphs" fill="#1a1a1a">C12D7</text>
<line x1="185.57" x2="185.57" y1="1774.5" y2="1781.0" stroke="#333" stroke-width="1.1"/>
<text transform="translate(188.37,1785.00) rotate(-90)" text-anchor="end" font-size="11" textLength="30.64" lengthAdjust="spacingAndGlyphs" fill="#1a1a1a">C14D7</text>
<text x="127.00" y="1583.30" text-anchor="middle" font-size="10" textLength="17.30" lengthAdjust="spacingAndGlyphs" fill="#1a1a1a">PAP</text>
<text x="125.80" y="1844.30" text-anchor="middle" font-size="10.5" textLength="20.30" lengthAdjust="spacingAndGlyphs" fill="#1a1a1a">Visit</text>
<text transform="translate(13.30,1676.60) rotate(-90)" text-anchor="middle" font-size="12" fill="#1a1a1a" textLength="76.5" lengthAdjust="spacingAndGlyphs">SFC/10<tspan font-size="8.2" dx="1" dy="-4.3">6</tspan><tspan dy="4.3"> PBMC</tspan></text>
<clipPath id="c29"><rect x="259.8" y="1592.8" width="137.00" height="181.70"/></clipPath>
<g clip-path="url(#c29)">
<line x1="259.8" x2="396.8" y1="1689.40" y2="1689.40" stroke="#a4a4a4" stroke-width="1"/>
<rect x="266.00" y="1676.09" width="7.60" height="13.31" fill="#3776bb" stroke="rgba(40,40,40,0.5)" stroke-width="0.7"/>
<rect x="274.33" y="1689.40" width="7.60" height="83.28" fill="#3776bb" stroke="rgba(40,40,40,0.5)" stroke-width="0.7"/>
<rect x="282.66" y="1689.40" width="7.60" height="65.14" fill="#3776bb" stroke="rgba(40,40,40,0.5)" stroke-width="0.7"/>
<rect x="290.99" y="1685.39" width="7.60" height="4.01" fill="#3776bb" stroke="rgba(40,40,40,0.5)" stroke-width="0.7"/>
<rect x="299.32" y="1674.79" width="7.60" height="14.61" fill="#3776bb" stroke="rgba(40,40,40,0.5)" stroke-width="0.7"/>
<rect x="307.65" y="1649.82" width="7.60" height="39.58" fill="#3776bb" stroke="rgba(40,40,40,0.5)" stroke-width="0.7"/>
<rect x="315.98" y="1685.39" width="7.60" height="4.01" fill="#3776bb" stroke="rgba(40,40,40,0.5)" stroke-width="0.7"/>
<rect x="324.31" y="1674.79" width="7.60" height="14.61" fill="#3776bb" stroke="rgba(40,40,40,0.5)" stroke-width="0.7"/>
<rect x="332.64" y="1644.40" width="7.60" height="45.00" fill="#3776bb" stroke="rgba(40,40,40,0.5)" stroke-width="0.7"/>
<rect x="340.97" y="1669.73" width="7.60" height="19.67" fill="#3776bb" stroke="rgba(40,40,40,0.5)" stroke-width="0.7"/>
<rect x="349.30" y="1647.46" width="7.60" height="41.94" fill="#3776bb" stroke="rgba(40,40,40,0.5)" stroke-width="0.7"/>
<rect x="357.63" y="1689.40" width="7.60" height="55.60" fill="#3776bb" stroke="rgba(40,40,40,0.5)" stroke-width="0.7"/>
<rect x="365.96" y="1689.40" width="7.60" height="30.16" fill="#3776bb" stroke="rgba(40,40,40,0.5)" stroke-width="0.7"/>
<rect x="374.29" y="1689.40" width="7.60" height="24.62" fill="#3776bb" stroke="rgba(40,40,40,0.5)" stroke-width="0.7"/>
<rect x="382.62" y="1689.40" width="7.60" height="35.93" fill="#3776bb" stroke="rgba(40,40,40,0.5)" stroke-width="0.7"/>
<line x1="269.80" x2="269.80" y1="1676.09" y2="1632.50" stroke="#2c2c2c" stroke-width="1.1"/>
<line x1="265.44" x2="274.16" y1="1632.50" y2="1632.50" stroke="#2c2c2c" stroke-width="1.1"/>
<line x1="278.13" x2="278.13" y1="1772.68" y2="1736.40" stroke="#2c2c2c" stroke-width="1.1"/>
<line x1="273.77" x2="282.49" y1="1736.40" y2="1736.40" stroke="#2c2c2c" stroke-width="1.1"/>
<line x1="286.46" x2="286.46" y1="1754.54" y2="1693.41" stroke="#2c2c2c" stroke-width="1.1"/>
<line x1="282.10" x2="290.82" y1="1693.41" y2="1693.41" stroke="#2c2c2c" stroke-width="1.1"/>
<line x1="294.79" x2="294.79" y1="1685.39" y2="1661.13" stroke="#2c2c2c" stroke-width="1.1"/>
<line x1="290.43" x2="299.15" y1="1661.13" y2="1661.13" stroke="#2c2c2c" stroke-width="1.1"/>
<line x1="303.12" x2="303.12" y1="1674.79" y2="1659.24" stroke="#2c2c2c" stroke-width="1.1"/>
<line x1="298.76" x2="307.48" y1="1659.24" y2="1659.24" stroke="#2c2c2c" stroke-width="1.1"/>
<line x1="311.45" x2="311.45" y1="1649.82" y2="1614.24" stroke="#2c2c2c" stroke-width="1.1"/>
<line x1="307.09" x2="315.81" y1="1614.24" y2="1614.24" stroke="#2c2c2c" stroke-width="1.1"/>
<line x1="319.78" x2="319.78" y1="1685.39" y2="1674.32" stroke="#2c2c2c" stroke-width="1.1"/>
<line x1="315.42" x2="324.14" y1="1674.32" y2="1674.32" stroke="#2c2c2c" stroke-width="1.1"/>
<line x1="328.11" x2="328.11" y1="1674.79" y2="1647.46" stroke="#2c2c2c" stroke-width="1.1"/>
<line x1="323.75" x2="332.47" y1="1647.46" y2="1647.46" stroke="#2c2c2c" stroke-width="1.1"/>
<line x1="336.44" x2="336.44" y1="1644.40" y2="1594.57" stroke="#2c2c2c" stroke-width="1.1"/>
<line x1="332.08" x2="340.80" y1="1594.57" y2="1594.57" stroke="#2c2c2c" stroke-width="1.1"/>
<line x1="344.77" x2="344.77" y1="1669.73" y2="1641.57" stroke="#2c2c2c" stroke-width="1.1"/>
<line x1="340.41" x2="349.13" y1="1641.57" y2="1641.57" stroke="#2c2c2c" stroke-width="1.1"/>
<line x1="353.10" x2="353.10" y1="1647.46" y2="1638.39" stroke="#2c2c2c" stroke-width="1.1"/>
<line x1="348.74" x2="357.46" y1="1638.39" y2="1638.39" stroke="#2c2c2c" stroke-width="1.1"/>
<line x1="361.43" x2="361.43" y1="1745.00" y2="1699.41" stroke="#2c2c2c" stroke-width="1.1"/>
<line x1="357.07" x2="365.79" y1="1699.41" y2="1699.41" stroke="#2c2c2c" stroke-width="1.1"/>
<line x1="369.76" x2="369.76" y1="1719.56" y2="1692.11" stroke="#2c2c2c" stroke-width="1.1"/>
<line x1="365.40" x2="374.12" y1="1692.11" y2="1692.11" stroke="#2c2c2c" stroke-width="1.1"/>
<line x1="378.09" x2="378.09" y1="1714.02" y2="1703.42" stroke="#2c2c2c" stroke-width="1.1"/>
<line x1="373.73" x2="382.45" y1="1703.42" y2="1703.42" stroke="#2c2c2c" stroke-width="1.1"/>
<line x1="386.42" x2="386.42" y1="1725.33" y2="1695.17" stroke="#2c2c2c" stroke-width="1.1"/>
<line x1="382.06" x2="390.78" y1="1695.17" y2="1695.17" stroke="#2c2c2c" stroke-width="1.1"/>
</g>
<rect x="259.8" y="1592.8" width="137.00" height="181.70" fill="none" stroke="#2e2e2e" stroke-width="1.3"/>
<line x1="253.80" x2="259.8" y1="1748.30" y2="1748.30" stroke="#222" stroke-width="1"/>
<text x="249.20" y="1752.08" text-anchor="end" font-size="10.5" textLength="15.17" lengthAdjust="spacingAndGlyphs" fill="#1a1a1a">-50</text>
<line x1="253.80" x2="259.8" y1="1689.40" y2="1689.40" stroke="#222" stroke-width="1"/>
<text x="249.20" y="1693.18" text-anchor="end" font-size="10.5" textLength="5.84" lengthAdjust="spacingAndGlyphs" fill="#1a1a1a">0</text>
<line x1="253.80" x2="259.8" y1="1630.50" y2="1630.50" stroke="#222" stroke-width="1"/>
<text x="249.20" y="1634.28" text-anchor="end" font-size="10.5" textLength="11.68" lengthAdjust="spacingAndGlyphs" fill="#1a1a1a">50</text>
<line x1="269.80" x2="269.80" y1="1774.5" y2="1781.0" stroke="#333" stroke-width="1.1"/>
<text transform="translate(272.60,1785.00) rotate(-90)" text-anchor="end" font-size="11" textLength="17.60" lengthAdjust="spacingAndGlyphs" fill="#1a1a1a">SCR</text>
<line x1="286.46" x2="286.46" y1="1774.5" y2="1781.0" stroke="#333" stroke-width="1.1"/>
<text transform="translate(289.26,1785.00) rotate(-90)" text-anchor="end" font-size="11" textLength="25.17" lengthAdjust="spacingAndGlyphs" fill="#1a1a1a">C2D7</text>
<line x1="303.12" x2="303.12" y1="1774.5" y2="1781.0" stroke="#333" stroke-width="1.1"/>
<text transform="translate(305.92,1785.00) rotate(-90)" text-anchor="end" font-size="11" textLength="25.17" lengthAdjust="spacingAndGlyphs" fill="#1a1a1a">C4D7</text>
<line x1="319.78" x2="319.78" y1="1774.5" y2="1781.0" stroke="#333" stroke-width="1.1"/>
<text transform="translate(322.58,1785.00) rotate(-90)" text-anchor="end" font-size="11" textLength="25.17" lengthAdjust="spacingAndGlyphs" fill="#1a1a1a">C6D7</text>
<line x1="336.44" x2="336.44" y1="1774.5" y2="1781.0" stroke="#333" stroke-width="1.1"/>
<text transform="translate(339.24,1785.00) rotate(-90)" text-anchor="end" font-size="11" textLength="25.17" lengthAdjust="spacingAndGlyphs" fill="#1a1a1a">C8D7</text>
<line x1="353.10" x2="353.10" y1="1774.5" y2="1781.0" stroke="#333" stroke-width="1.1"/>
<text transform="translate(355.90,1785.00) rotate(-90)" text-anchor="end" font-size="11" textLength="30.64" lengthAdjust="spacingAndGlyphs" fill="#1a1a1a">C10D7</text>
<line x1="369.76" x2="369.76" y1="1774.5" y2="1781.0" stroke="#333" stroke-width="1.1"/>
<text transform="translate(372.56,1785.00) rotate(-90)" text-anchor="end" font-size="11" textLength="30.64" lengthAdjust="spacingAndGlyphs" fill="#1a1a1a">C12D7</text>
<line x1="386.42" x2="386.42" y1="1774.5" y2="1781.0" stroke="#333" stroke-width="1.1"/>
<text transform="translate(389.22,1785.00) rotate(-90)" text-anchor="end" font-size="11" textLength="30.64" lengthAdjust="spacingAndGlyphs" fill="#1a1a1a">C14D7</text>
<text x="328.10" y="1583.30" text-anchor="middle" font-size="10" textLength="28.30" lengthAdjust="spacingAndGlyphs" fill="#1a1a1a">PSMA</text>
<text x="325.80" y="1844.30" text-anchor="middle" font-size="10.5" textLength="20.30" lengthAdjust="spacingAndGlyphs" fill="#1a1a1a">Visit</text>
<clipPath id="c30"><rect x="467.4" y="1593.2" width="130.70" height="181.30"/></clipPath>
<g clip-path="url(#c30)">
<line x1="467.4" x2="598.1" y1="1664.40" y2="1664.40" stroke="#a4a4a4" stroke-width="1"/>
<rect x="474.05" y="1664.40" width="6.90" height="49.62" fill="#ee4d5b" stroke="rgba(40,40,40,0.5)" stroke-width="0.7"/>
<rect x="481.89" y="1664.40" width="6.90" height="92.98" fill="#ee4d5b" stroke="rgba(40,40,40,0.5)" stroke-width="0.7"/>
<rect x="489.72" y="1664.40" width="6.90" height="69.14" fill="#ee4d5b" stroke="rgba(40,40,40,0.5)" stroke-width="0.7"/>
<rect x="497.56" y="1664.40" width="6.90" height="15.86" fill="#ee4d5b" stroke="rgba(40,40,40,0.5)" stroke-width="0.7"/>
<rect x="505.40" y="1664.40" width="6.90" height="17.15" fill="#ee4d5b" stroke="rgba(40,40,40,0.5)" stroke-width="0.7"/>
<rect x="513.23" y="1656.20" width="6.90" height="8.20" fill="#ee4d5b" stroke="rgba(40,40,40,0.5)" stroke-width="0.7"/>
<rect x="521.07" y="1658.79" width="6.90" height="5.61" fill="#ee4d5b" stroke="rgba(40,40,40,0.5)" stroke-width="0.7"/>
<rect x="528.91" y="1663.32" width="6.90" height="1.08" fill="#ee4d5b" stroke="rgba(40,40,40,0.5)" stroke-width="0.7"/>
<rect x="536.75" y="1647.46" width="6.90" height="16.94" fill="#ee4d5b" stroke="rgba(40,40,40,0.5)" stroke-width="0.7"/>
<rect x="544.58" y="1653.94" width="6.90" height="10.46" fill="#ee4d5b" stroke="rgba(40,40,40,0.5)" stroke-width="0.7"/>
<rect x="552.42" y="1632.36" width="6.90" height="32.04" fill="#ee4d5b" stroke="rgba(40,40,40,0.5)" stroke-width="0.7"/>
<rect x="560.26" y="1664.40" width="6.90" height="48.33" fill="#ee4d5b" stroke="rgba(40,40,40,0.5)" stroke-width="0.7"/>
<rect x="568.09" y="1664.40" width="6.90" height="29.02" fill="#ee4d5b" stroke="rgba(40,40,40,0.5)" stroke-width="0.7"/>
<rect x="575.93" y="1664.40" width="6.90" height="3.67" fill="#ee4d5b" stroke="rgba(40,40,40,0.5)" stroke-width="0.7"/>
<rect x="583.77" y="1621.36" width="6.90" height="43.04" fill="#ee4d5b" stroke="rgba(40,40,40,0.5)" stroke-width="0.7"/>
<line x1="477.50" x2="477.50" y1="1714.02" y2="1702.48" stroke="#2c2c2c" stroke-width="1.1"/>
<line x1="473.47" x2="481.53" y1="1702.48" y2="1702.48" stroke="#2c2c2c" stroke-width="1.1"/>
<line x1="485.34" x2="485.34" y1="1757.38" y2="1726.43" stroke="#2c2c2c" stroke-width="1.1"/>
<line x1="481.31" x2="489.36" y1="1726.43" y2="1726.43" stroke="#2c2c2c" stroke-width="1.1"/>
<line x1="493.17" x2="493.17" y1="1733.54" y2="1705.28" stroke="#2c2c2c" stroke-width="1.1"/>
<line x1="489.15" x2="497.20" y1="1705.28" y2="1705.28" stroke="#2c2c2c" stroke-width="1.1"/>
<line x1="501.01" x2="501.01" y1="1680.26" y2="1655.66" stroke="#2c2c2c" stroke-width="1.1"/>
<line x1="496.98" x2="505.04" y1="1655.66" y2="1655.66" stroke="#2c2c2c" stroke-width="1.1"/>
<line x1="508.85" x2="508.85" y1="1681.55" y2="1666.99" stroke="#2c2c2c" stroke-width="1.1"/>
<line x1="504.82" x2="512.88" y1="1666.99" y2="1666.99" stroke="#2c2c2c" stroke-width="1.1"/>
<line x1="516.68" x2="516.68" y1="1656.20" y2="1635.28" stroke="#2c2c2c" stroke-width="1.1"/>
<line x1="512.66" x2="520.71" y1="1635.28" y2="1635.28" stroke="#2c2c2c" stroke-width="1.1"/>
<line x1="524.52" x2="524.52" y1="1658.79" y2="1654.80" stroke="#2c2c2c" stroke-width="1.1"/>
<line x1="520.49" x2="528.55" y1="1654.80" y2="1654.80" stroke="#2c2c2c" stroke-width="1.1"/>
<line x1="532.36" x2="532.36" y1="1663.32" y2="1637.11" stroke="#2c2c2c" stroke-width="1.1"/>
<line x1="528.33" x2="536.39" y1="1637.11" y2="1637.11" stroke="#2c2c2c" stroke-width="1.1"/>
<line x1="540.20" x2="540.20" y1="1647.46" y2="1605.93" stroke="#2c2c2c" stroke-width="1.1"/>
<line x1="536.17" x2="544.22" y1="1605.93" y2="1605.93" stroke="#2c2c2c" stroke-width="1.1"/>
<line x1="548.03" x2="548.03" y1="1653.94" y2="1633.44" stroke="#2c2c2c" stroke-width="1.1"/>
<line x1="544.01" x2="552.06" y1="1633.44" y2="1633.44" stroke="#2c2c2c" stroke-width="1.1"/>
<line x1="555.87" x2="555.87" y1="1632.36" y2="1594.61" stroke="#2c2c2c" stroke-width="1.1"/>
<line x1="551.84" x2="559.90" y1="1594.61" y2="1594.61" stroke="#2c2c2c" stroke-width="1.1"/>
<line x1="563.71" x2="563.71" y1="1712.73" y2="1669.36" stroke="#2c2c2c" stroke-width="1.1"/>
<line x1="559.68" x2="567.73" y1="1669.36" y2="1669.36" stroke="#2c2c2c" stroke-width="1.1"/>
<line x1="571.54" x2="571.54" y1="1693.42" y2="1665.26" stroke="#2c2c2c" stroke-width="1.1"/>
<line x1="567.52" x2="575.57" y1="1665.26" y2="1665.26" stroke="#2c2c2c" stroke-width="1.1"/>
<line x1="579.38" x2="579.38" y1="1668.07" y2="1650.59" stroke="#2c2c2c" stroke-width="1.1"/>
<line x1="575.35" x2="583.41" y1="1650.59" y2="1650.59" stroke="#2c2c2c" stroke-width="1.1"/>
<line x1="587.22" x2="587.22" y1="1621.36" y2="1606.47" stroke="#2c2c2c" stroke-width="1.1"/>
<line x1="583.19" x2="591.25" y1="1606.47" y2="1606.47" stroke="#2c2c2c" stroke-width="1.1"/>
</g>
<rect x="467.4" y="1593.2" width="130.70" height="181.30" fill="none" stroke="#2e2e2e" stroke-width="1.3"/>
<line x1="461.40" x2="467.4" y1="1772.27" y2="1772.27" stroke="#222" stroke-width="1"/>
<text x="456.80" y="1776.05" text-anchor="end" font-size="10.5" textLength="21.01" lengthAdjust="spacingAndGlyphs" fill="#1a1a1a">-100</text>
<line x1="461.40" x2="467.4" y1="1718.34" y2="1718.34" stroke="#222" stroke-width="1"/>
<text x="456.80" y="1722.12" text-anchor="end" font-size="10.5" textLength="15.17" lengthAdjust="spacingAndGlyphs" fill="#1a1a1a">-50</text>
<line x1="461.40" x2="467.4" y1="1664.40" y2="1664.40" stroke="#222" stroke-width="1"/>
<text x="456.80" y="1668.18" text-anchor="end" font-size="10.5" textLength="5.84" lengthAdjust="spacingAndGlyphs" fill="#1a1a1a">0</text>
<line x1="461.40" x2="467.4" y1="1610.47" y2="1610.47" stroke="#222" stroke-width="1"/>
<text x="456.80" y="1614.25" text-anchor="end" font-size="10.5" textLength="11.68" lengthAdjust="spacingAndGlyphs" fill="#1a1a1a">50</text>
<line x1="477.50" x2="477.50" y1="1774.5" y2="1781.0" stroke="#333" stroke-width="1.1"/>
<text transform="translate(480.30,1785.00) rotate(-90)" text-anchor="end" font-size="11" textLength="17.60" lengthAdjust="spacingAndGlyphs" fill="#1a1a1a">SCR</text>
<line x1="493.17" x2="493.17" y1="1774.5" y2="1781.0" stroke="#333" stroke-width="1.1"/>
<text transform="translate(495.97,1785.00) rotate(-90)" text-anchor="end" font-size="11" textLength="25.17" lengthAdjust="spacingAndGlyphs" fill="#1a1a1a">C2D7</text>
<line x1="508.85" x2="508.85" y1="1774.5" y2="1781.0" stroke="#333" stroke-width="1.1"/>
<text transform="translate(511.65,1785.00) rotate(-90)" text-anchor="end" font-size="11" textLength="25.17" lengthAdjust="spacingAndGlyphs" fill="#1a1a1a">C4D7</text>
<line x1="524.52" x2="524.52" y1="1774.5" y2="1781.0" stroke="#333" stroke-width="1.1"/>
<text transform="translate(527.32,1785.00) rotate(-90)" text-anchor="end" font-size="11" textLength="25.17" lengthAdjust="spacingAndGlyphs" fill="#1a1a1a">C6D7</text>
<line x1="540.20" x2="540.20" y1="1774.5" y2="1781.0" stroke="#333" stroke-width="1.1"/>
<text transform="translate(543.00,1785.00) rotate(-90)" text-anchor="end" font-size="11" textLength="25.17" lengthAdjust="spacingAndGlyphs" fill="#1a1a1a">C8D7</text>
<line x1="555.87" x2="555.87" y1="1774.5" y2="1781.0" stroke="#333" stroke-width="1.1"/>
<text transform="translate(558.67,1785.00) rotate(-90)" text-anchor="end" font-size="11" textLength="30.64" lengthAdjust="spacingAndGlyphs" fill="#1a1a1a">C10D7</text>
<line x1="571.54" x2="571.54" y1="1774.5" y2="1781.0" stroke="#333" stroke-width="1.1"/>
<text transform="translate(574.34,1785.00) rotate(-90)" text-anchor="end" font-size="11" textLength="30.64" lengthAdjust="spacingAndGlyphs" fill="#1a1a1a">C12D7</text>
<line x1="587.22" x2="587.22" y1="1774.5" y2="1781.0" stroke="#333" stroke-width="1.1"/>
<text transform="translate(590.02,1785.00) rotate(-90)" text-anchor="end" font-size="11" textLength="30.64" lengthAdjust="spacingAndGlyphs" fill="#1a1a1a">C14D7</text>
<text x="532.50" y="1583.30" text-anchor="middle" font-size="10" textLength="22.20" lengthAdjust="spacingAndGlyphs" fill="#1a1a1a">SSX2</text>
<text x="531.60" y="1844.30" text-anchor="middle" font-size="10.5" textLength="20.30" lengthAdjust="spacingAndGlyphs" fill="#1a1a1a">Visit</text>
<clipPath id="c31"><rect x="705.1" y="1324.7" width="141.40" height="181.40"/></clipPath>
<g clip-path="url(#c31)">
<line x1="705.1" x2="846.5" y1="1504.20" y2="1504.20" stroke="#a4a4a4" stroke-width="1"/>
<rect x="716.35" y="1361.21" width="25.30" height="142.99" fill="#3bb619" stroke="rgba(40,40,40,0.5)" stroke-width="0.7"/>
<rect x="747.55" y="1445.38" width="25.30" height="58.82" fill="#3bb619" stroke="rgba(40,40,40,0.5)" stroke-width="0.7"/>
<rect x="778.75" y="1425.30" width="25.30" height="78.90" fill="#3bb619" stroke="rgba(40,40,40,0.5)" stroke-width="0.7"/>
<rect x="809.95" y="1430.40" width="25.30" height="73.80" fill="#3bb619" stroke="rgba(40,40,40,0.5)" stroke-width="0.7"/>
<line x1="729.00" x2="729.00" y1="1361.21" y2="1330.45" stroke="#2c2c2c" stroke-width="1.1"/>
<line x1="724.50" x2="733.50" y1="1330.45" y2="1330.45" stroke="#2c2c2c" stroke-width="1.1"/>
<line x1="760.20" x2="760.20" y1="1445.38" y2="1385.41" stroke="#2c2c2c" stroke-width="1.1"/>
<line x1="755.70" x2="764.70" y1="1385.41" y2="1385.41" stroke="#2c2c2c" stroke-width="1.1"/>
<line x1="791.40" x2="791.40" y1="1425.30" y2="1408.59" stroke="#2c2c2c" stroke-width="1.1"/>
<line x1="786.90" x2="795.90" y1="1408.59" y2="1408.59" stroke="#2c2c2c" stroke-width="1.1"/>
<line x1="822.60" x2="822.60" y1="1430.40" y2="1399.42" stroke="#2c2c2c" stroke-width="1.1"/>
<line x1="818.10" x2="827.10" y1="1399.42" y2="1399.42" stroke="#2c2c2c" stroke-width="1.1"/>
</g>
<rect x="705.1" y="1324.7" width="141.40" height="181.40" fill="none" stroke="#2e2e2e" stroke-width="1.3"/>
<line x1="699.10" x2="705.1" y1="1504.20" y2="1504.20" stroke="#222" stroke-width="1"/>
<text x="694.50" y="1507.98" text-anchor="end" font-size="10.5" textLength="5.84" lengthAdjust="spacingAndGlyphs" fill="#1a1a1a">0</text>
<line x1="699.10" x2="705.1" y1="1459.88" y2="1459.88" stroke="#222" stroke-width="1"/>
<text x="694.50" y="1463.65" text-anchor="end" font-size="10.5" textLength="11.68" lengthAdjust="spacingAndGlyphs" fill="#1a1a1a">10</text>
<line x1="699.10" x2="705.1" y1="1415.55" y2="1415.55" stroke="#222" stroke-width="1"/>
<text x="694.50" y="1419.33" text-anchor="end" font-size="10.5" textLength="11.68" lengthAdjust="spacingAndGlyphs" fill="#1a1a1a">20</text>
<line x1="699.10" x2="705.1" y1="1371.23" y2="1371.23" stroke="#222" stroke-width="1"/>
<text x="694.50" y="1375.01" text-anchor="end" font-size="10.5" textLength="11.68" lengthAdjust="spacingAndGlyphs" fill="#1a1a1a">30</text>
<line x1="699.10" x2="705.1" y1="1326.90" y2="1326.90" stroke="#222" stroke-width="1"/>
<text x="694.50" y="1330.68" text-anchor="end" font-size="10.5" textLength="11.68" lengthAdjust="spacingAndGlyphs" fill="#1a1a1a">40</text>
<line x1="729.00" x2="729.00" y1="1506.1" y2="1512.6" stroke="#333" stroke-width="1.1"/>
<text transform="translate(731.80,1516.60) rotate(-90)" text-anchor="end" font-size="11" textLength="17.60" lengthAdjust="spacingAndGlyphs" fill="#1a1a1a">SCR</text>
<line x1="760.20" x2="760.20" y1="1506.1" y2="1512.6" stroke="#333" stroke-width="1.1"/>
<text transform="translate(763.00,1516.60) rotate(-90)" text-anchor="end" font-size="11" textLength="25.17" lengthAdjust="spacingAndGlyphs" fill="#1a1a1a">C1D7</text>
<line x1="791.40" x2="791.40" y1="1506.1" y2="1512.6" stroke="#333" stroke-width="1.1"/>
<text transform="translate(794.20,1516.60) rotate(-90)" text-anchor="end" font-size="11" textLength="25.17" lengthAdjust="spacingAndGlyphs" fill="#1a1a1a">C2D7</text>
<line x1="822.60" x2="822.60" y1="1506.1" y2="1512.6" stroke="#333" stroke-width="1.1"/>
<text transform="translate(825.40,1516.60) rotate(-90)" text-anchor="end" font-size="11" textLength="25.17" lengthAdjust="spacingAndGlyphs" fill="#1a1a1a">C3D7</text>
<text x="775.30" y="1316.50" text-anchor="middle" font-size="10" textLength="23.00" lengthAdjust="spacingAndGlyphs" fill="#1a1a1a">CEFT</text>
<text x="774.30" y="1568.20" text-anchor="middle" font-size="10.5" textLength="20.30" lengthAdjust="spacingAndGlyphs" fill="#1a1a1a">Visit</text>
<text transform="translate(673.30,1413.10) rotate(-90)" text-anchor="middle" font-size="12" fill="#1a1a1a" textLength="76.5" lengthAdjust="spacingAndGlyphs">SFC/10<tspan font-size="8.2" dx="1" dy="-4.3">6</tspan><tspan dy="4.3"> PBMC</tspan></text>
<clipPath id="c32"><rect x="912.9" y="1324.7" width="134.50" height="181.40"/></clipPath>
<g clip-path="url(#c32)">
<line x1="912.9" x2="1047.4" y1="1504.20" y2="1504.20" stroke="#a4a4a4" stroke-width="1"/>
<rect x="923.70" y="1464.47" width="24.00" height="39.73" fill="#3776bb" stroke="rgba(40,40,40,0.5)" stroke-width="0.7"/>
<rect x="953.33" y="1429.88" width="24.00" height="74.32" fill="#3776bb" stroke="rgba(40,40,40,0.5)" stroke-width="0.7"/>
<rect x="982.96" y="1450.53" width="24.00" height="53.67" fill="#3776bb" stroke="rgba(40,40,40,0.5)" stroke-width="0.7"/>
<rect x="1012.59" y="1345.28" width="24.00" height="158.92" fill="#3776bb" stroke="rgba(40,40,40,0.5)" stroke-width="0.7"/>
<line x1="935.70" x2="935.70" y1="1464.47" y2="1461.82" stroke="#2c2c2c" stroke-width="1.1"/>
<line x1="931.20" x2="940.20" y1="1461.82" y2="1461.82" stroke="#2c2c2c" stroke-width="1.1"/>
<line x1="965.33" x2="965.33" y1="1429.88" y2="1423.11" stroke="#2c2c2c" stroke-width="1.1"/>
<line x1="960.83" x2="969.83" y1="1423.11" y2="1423.11" stroke="#2c2c2c" stroke-width="1.1"/>
<line x1="994.96" x2="994.96" y1="1450.53" y2="1430.43" stroke="#2c2c2c" stroke-width="1.1"/>
<line x1="990.46" x2="999.46" y1="1430.43" y2="1430.43" stroke="#2c2c2c" stroke-width="1.1"/>
<line x1="1024.59" x2="1024.59" y1="1345.28" y2="1326.51" stroke="#2c2c2c" stroke-width="1.1"/>
<line x1="1020.09" x2="1029.09" y1="1326.51" y2="1326.51" stroke="#2c2c2c" stroke-width="1.1"/>
</g>
<rect x="912.9" y="1324.7" width="134.50" height="181.40" fill="none" stroke="#2e2e2e" stroke-width="1.3"/>
<line x1="906.90" x2="912.9" y1="1504.20" y2="1504.20" stroke="#222" stroke-width="1"/>
<text x="902.30" y="1507.98" text-anchor="end" font-size="10.5" textLength="5.84" lengthAdjust="spacingAndGlyphs" fill="#1a1a1a">0</text>
<line x1="906.90" x2="912.9" y1="1465.25" y2="1465.25" stroke="#222" stroke-width="1"/>
<text x="902.30" y="1469.03" text-anchor="end" font-size="10.5" textLength="11.68" lengthAdjust="spacingAndGlyphs" fill="#1a1a1a">50</text>
<line x1="906.90" x2="912.9" y1="1426.30" y2="1426.30" stroke="#222" stroke-width="1"/>
<text x="902.30" y="1430.08" text-anchor="end" font-size="10.5" textLength="17.52" lengthAdjust="spacingAndGlyphs" fill="#1a1a1a">100</text>
<line x1="906.90" x2="912.9" y1="1387.35" y2="1387.35" stroke="#222" stroke-width="1"/>
<text x="902.30" y="1391.13" text-anchor="end" font-size="10.5" textLength="17.52" lengthAdjust="spacingAndGlyphs" fill="#1a1a1a">150</text>
<line x1="906.90" x2="912.9" y1="1348.40" y2="1348.40" stroke="#222" stroke-width="1"/>
<text x="902.30" y="1352.18" text-anchor="end" font-size="10.5" textLength="17.52" lengthAdjust="spacingAndGlyphs" fill="#1a1a1a">200</text>
<line x1="935.70" x2="935.70" y1="1506.1" y2="1512.6" stroke="#333" stroke-width="1.1"/>
<text transform="translate(938.50,1516.60) rotate(-90)" text-anchor="end" font-size="11" textLength="17.60" lengthAdjust="spacingAndGlyphs" fill="#1a1a1a">SCR</text>
<line x1="965.33" x2="965.33" y1="1506.1" y2="1512.6" stroke="#333" stroke-width="1.1"/>
<text transform="translate(968.13,1516.60) rotate(-90)" text-anchor="end" font-size="11" textLength="25.17" lengthAdjust="spacingAndGlyphs" fill="#1a1a1a">C1D7</text>
<line x1="994.96" x2="994.96" y1="1506.1" y2="1512.6" stroke="#333" stroke-width="1.1"/>
<text transform="translate(997.76,1516.60) rotate(-90)" text-anchor="end" font-size="11" textLength="25.17" lengthAdjust="spacingAndGlyphs" fill="#1a1a1a">C2D7</text>
<line x1="1024.59" x2="1024.59" y1="1506.1" y2="1512.6" stroke="#333" stroke-width="1.1"/>
<text transform="translate(1027.39,1516.60) rotate(-90)" text-anchor="end" font-size="11" textLength="25.17" lengthAdjust="spacingAndGlyphs" fill="#1a1a1a">C3D7</text>
<text x="980.30" y="1316.50" text-anchor="middle" font-size="10" textLength="16.80" lengthAdjust="spacingAndGlyphs" fill="#1a1a1a">LLO</text>
<text x="976.30" y="1568.20" text-anchor="middle" font-size="10.5" textLength="20.30" lengthAdjust="spacingAndGlyphs" fill="#1a1a1a">Visit</text>
<clipPath id="c33"><rect x="1110.9" y="1324.7" width="138.30" height="181.40"/></clipPath>
<g clip-path="url(#c33)">
<line x1="1110.9" x2="1249.2" y1="1400.70" y2="1400.70" stroke="#a4a4a4" stroke-width="1"/>
<line x1="1122.10" x2="1147.10" y1="1400.70" y2="1400.70" stroke="#333" stroke-width="1"/>
<rect x="1152.40" y="1400.70" width="25.00" height="40.37" fill="#ee4d5b" stroke="rgba(40,40,40,0.5)" stroke-width="0.7"/>
<rect x="1182.70" y="1389.42" width="25.00" height="11.28" fill="#ee4d5b" stroke="rgba(40,40,40,0.5)" stroke-width="0.7"/>
<rect x="1213.00" y="1400.70" width="25.00" height="97.81" fill="#ee4d5b" stroke="rgba(40,40,40,0.5)" stroke-width="0.7"/>
<line x1="1134.60" x2="1134.60" y1="1400.70" y2="1360.59" stroke="#2c2c2c" stroke-width="1.1"/>
<line x1="1130.10" x2="1139.10" y1="1360.59" y2="1360.59" stroke="#2c2c2c" stroke-width="1.1"/>
<line x1="1164.90" x2="1164.90" y1="1441.07" y2="1381.55" stroke="#2c2c2c" stroke-width="1.1"/>
<line x1="1160.40" x2="1169.40" y1="1381.55" y2="1381.55" stroke="#2c2c2c" stroke-width="1.1"/>
<line x1="1195.20" x2="1195.20" y1="1389.42" y2="1326.18" stroke="#2c2c2c" stroke-width="1.1"/>
<line x1="1190.70" x2="1199.70" y1="1326.18" y2="1326.18" stroke="#2c2c2c" stroke-width="1.1"/>
<line x1="1225.50" x2="1225.50" y1="1498.51" y2="1459.18" stroke="#2c2c2c" stroke-width="1.1"/>
<line x1="1221.00" x2="1230.00" y1="1459.18" y2="1459.18" stroke="#2c2c2c" stroke-width="1.1"/>
</g>
<rect x="1110.9" y="1324.7" width="138.30" height="181.40" fill="none" stroke="#2e2e2e" stroke-width="1.3"/>
<line x1="1104.90" x2="1110.9" y1="1504.20" y2="1504.20" stroke="#222" stroke-width="1"/>
<text x="1100.30" y="1507.98" text-anchor="end" font-size="10.5" textLength="15.17" lengthAdjust="spacingAndGlyphs" fill="#1a1a1a">-20</text>
<line x1="1104.90" x2="1110.9" y1="1452.45" y2="1452.45" stroke="#222" stroke-width="1"/>
<text x="1100.30" y="1456.23" text-anchor="end" font-size="10.5" textLength="15.17" lengthAdjust="spacingAndGlyphs" fill="#1a1a1a">-10</text>
<line x1="1104.90" x2="1110.9" y1="1400.70" y2="1400.70" stroke="#222" stroke-width="1"/>
<text x="1100.30" y="1404.48" text-anchor="end" font-size="10.5" textLength="5.84" lengthAdjust="spacingAndGlyphs" fill="#1a1a1a">0</text>
<line x1="1104.90" x2="1110.9" y1="1348.95" y2="1348.95" stroke="#222" stroke-width="1"/>
<line x1="1134.60" x2="1134.60" y1="1506.1" y2="1512.6" stroke="#333" stroke-width="1.1"/>
<text transform="translate(1137.40,1516.60) rotate(-90)" text-anchor="end" font-size="11" textLength="17.60" lengthAdjust="spacingAndGlyphs" fill="#1a1a1a">SCR</text>
<line x1="1164.90" x2="1164.90" y1="1506.1" y2="1512.6" stroke="#333" stroke-width="1.1"/>
<text transform="translate(1167.70,1516.60) rotate(-90)" text-anchor="end" font-size="11" textLength="25.17" lengthAdjust="spacingAndGlyphs" fill="#1a1a1a">C1D7</text>
<line x1="1195.20" x2="1195.20" y1="1506.1" y2="1512.6" stroke="#333" stroke-width="1.1"/>
<text transform="translate(1198.00,1516.60) rotate(-90)" text-anchor="end" font-size="11" textLength="25.17" lengthAdjust="spacingAndGlyphs" fill="#1a1a1a">C2D7</text>
<line x1="1225.50" x2="1225.50" y1="1506.1" y2="1512.6" stroke="#333" stroke-width="1.1"/>
<text transform="translate(1228.30,1516.60) rotate(-90)" text-anchor="end" font-size="11" textLength="25.17" lengthAdjust="spacingAndGlyphs" fill="#1a1a1a">C3D7</text>
<text x="1179.60" y="1316.50" text-anchor="middle" font-size="10" textLength="34.50" lengthAdjust="spacingAndGlyphs" fill="#1a1a1a">NKX3.1</text>
<text x="1177.30" y="1568.20" text-anchor="middle" font-size="10.5" textLength="20.30" lengthAdjust="spacingAndGlyphs" fill="#1a1a1a">Visit</text>
<clipPath id="c34"><rect x="709.6" y="1604.3" width="139.10" height="183.10"/></clipPath>
<g clip-path="url(#c34)">
<line x1="709.6" x2="848.7" y1="1731.00" y2="1731.00" stroke="#a4a4a4" stroke-width="1"/>
<rect x="720.60" y="1691.57" width="24.80" height="39.43" fill="#3bb619" stroke="rgba(40,40,40,0.5)" stroke-width="0.7"/>
<rect x="751.40" y="1731.00" width="24.80" height="55.72" fill="#3bb619" stroke="rgba(40,40,40,0.5)" stroke-width="0.7"/>
<rect x="782.20" y="1660.61" width="24.80" height="70.39" fill="#3bb619" stroke="rgba(40,40,40,0.5)" stroke-width="0.7"/>
<rect x="813.00" y="1731.00" width="24.80" height="7.62" fill="#3bb619" stroke="rgba(40,40,40,0.5)" stroke-width="0.7"/>
<line x1="733.00" x2="733.00" y1="1691.57" y2="1678.46" stroke="#2c2c2c" stroke-width="1.1"/>
<line x1="728.50" x2="737.50" y1="1678.46" y2="1678.46" stroke="#2c2c2c" stroke-width="1.1"/>
<line x1="763.80" x2="763.80" y1="1786.72" y2="1739.18" stroke="#2c2c2c" stroke-width="1.1"/>
<line x1="759.30" x2="768.30" y1="1739.18" y2="1739.18" stroke="#2c2c2c" stroke-width="1.1"/>
<line x1="794.60" x2="794.60" y1="1660.61" y2="1606.51" stroke="#2c2c2c" stroke-width="1.1"/>
<line x1="790.10" x2="799.10" y1="1606.51" y2="1606.51" stroke="#2c2c2c" stroke-width="1.1"/>
<line x1="825.40" x2="825.40" y1="1738.62" y2="1636.84" stroke="#2c2c2c" stroke-width="1.1"/>
<line x1="820.90" x2="829.90" y1="1636.84" y2="1636.84" stroke="#2c2c2c" stroke-width="1.1"/>
</g>
<rect x="709.6" y="1604.3" width="139.10" height="183.10" fill="none" stroke="#2e2e2e" stroke-width="1.3"/>
<line x1="703.60" x2="709.6" y1="1766.27" y2="1766.27" stroke="#222" stroke-width="1"/>
<text x="699.00" y="1770.05" text-anchor="end" font-size="10.5" textLength="9.34" lengthAdjust="spacingAndGlyphs" fill="#1a1a1a">-5</text>
<line x1="703.60" x2="709.6" y1="1731.00" y2="1731.00" stroke="#222" stroke-width="1"/>
<text x="699.00" y="1734.78" text-anchor="end" font-size="10.5" textLength="5.84" lengthAdjust="spacingAndGlyphs" fill="#1a1a1a">0</text>
<line x1="703.60" x2="709.6" y1="1695.73" y2="1695.73" stroke="#222" stroke-width="1"/>
<text x="699.00" y="1699.51" text-anchor="end" font-size="10.5" textLength="5.84" lengthAdjust="spacingAndGlyphs" fill="#1a1a1a">5</text>
<line x1="703.60" x2="709.6" y1="1660.47" y2="1660.47" stroke="#222" stroke-width="1"/>
<text x="699.00" y="1664.25" text-anchor="end" font-size="10.5" textLength="11.68" lengthAdjust="spacingAndGlyphs" fill="#1a1a1a">10</text>
<line x1="703.60" x2="709.6" y1="1625.20" y2="1625.20" stroke="#222" stroke-width="1"/>
<text x="699.00" y="1628.98" text-anchor="end" font-size="10.5" textLength="11.68" lengthAdjust="spacingAndGlyphs" fill="#1a1a1a">15</text>
<line x1="733.00" x2="733.00" y1="1787.4" y2="1793.9" stroke="#333" stroke-width="1.1"/>
<text transform="translate(735.80,1797.90) rotate(-90)" text-anchor="end" font-size="11" textLength="17.60" lengthAdjust="spacingAndGlyphs" fill="#1a1a1a">SCR</text>
<line x1="763.80" x2="763.80" y1="1787.4" y2="1793.9" stroke="#333" stroke-width="1.1"/>
<text transform="translate(766.60,1797.90) rotate(-90)" text-anchor="end" font-size="11" textLength="25.17" lengthAdjust="spacingAndGlyphs" fill="#1a1a1a">C1D7</text>
<line x1="794.60" x2="794.60" y1="1787.4" y2="1793.9" stroke="#333" stroke-width="1.1"/>
<text transform="translate(797.40,1797.90) rotate(-90)" text-anchor="end" font-size="11" textLength="25.17" lengthAdjust="spacingAndGlyphs" fill="#1a1a1a">C2D7</text>
<line x1="825.40" x2="825.40" y1="1787.4" y2="1793.9" stroke="#333" stroke-width="1.1"/>
<text transform="translate(828.20,1797.90) rotate(-90)" text-anchor="end" font-size="11" textLength="25.17" lengthAdjust="spacingAndGlyphs" fill="#1a1a1a">C3D7</text>
<text x="779.10" y="1596.10" text-anchor="middle" font-size="10" textLength="17.30" lengthAdjust="spacingAndGlyphs" fill="#1a1a1a">PAP</text>
<text x="779.80" y="1845.60" text-anchor="middle" font-size="10.5" textLength="20.30" lengthAdjust="spacingAndGlyphs" fill="#1a1a1a">Visit</text>
<text transform="translate(670.60,1697.10) rotate(-90)" text-anchor="middle" font-size="12" fill="#1a1a1a" textLength="76.5" lengthAdjust="spacingAndGlyphs">SFC/10<tspan font-size="8.2" dx="1" dy="-4.3">6</tspan><tspan dy="4.3"> PBMC</tspan></text>
<clipPath id="c35"><rect x="911.1" y="1605" width="135.20" height="182.40"/></clipPath>
<g clip-path="url(#c35)">
<line x1="911.1" x2="1046.3" y1="1720.70" y2="1720.70" stroke="#a4a4a4" stroke-width="1"/>
<rect x="921.80" y="1679.41" width="24.20" height="41.29" fill="#3776bb" stroke="rgba(40,40,40,0.5)" stroke-width="0.7"/>
<rect x="951.70" y="1720.70" width="24.20" height="66.25" fill="#3776bb" stroke="rgba(40,40,40,0.5)" stroke-width="0.7"/>
<rect x="981.60" y="1715.29" width="24.20" height="5.41" fill="#3776bb" stroke="rgba(40,40,40,0.5)" stroke-width="0.7"/>
<rect x="1011.50" y="1697.01" width="24.20" height="23.69" fill="#3776bb" stroke="rgba(40,40,40,0.5)" stroke-width="0.7"/>
<line x1="933.90" x2="933.90" y1="1679.41" y2="1662.08" stroke="#2c2c2c" stroke-width="1.1"/>
<line x1="929.40" x2="938.40" y1="1662.08" y2="1662.08" stroke="#2c2c2c" stroke-width="1.1"/>
<line x1="963.80" x2="963.80" y1="1786.95" y2="1723.72" stroke="#2c2c2c" stroke-width="1.1"/>
<line x1="959.30" x2="968.30" y1="1723.72" y2="1723.72" stroke="#2c2c2c" stroke-width="1.1"/>
<line x1="993.70" x2="993.70" y1="1715.29" y2="1678.51" stroke="#2c2c2c" stroke-width="1.1"/>
<line x1="989.20" x2="998.20" y1="1678.51" y2="1678.51" stroke="#2c2c2c" stroke-width="1.1"/>
<line x1="1023.60" x2="1023.60" y1="1697.01" y2="1605.69" stroke="#2c2c2c" stroke-width="1.1"/>
<line x1="1019.10" x2="1028.10" y1="1605.69" y2="1605.69" stroke="#2c2c2c" stroke-width="1.1"/>
</g>
<rect x="911.1" y="1605" width="135.20" height="182.40" fill="none" stroke="#2e2e2e" stroke-width="1.3"/>
<line x1="905.10" x2="911.1" y1="1773.70" y2="1773.70" stroke="#222" stroke-width="1"/>
<text x="900.50" y="1777.48" text-anchor="end" font-size="10.5" textLength="15.17" lengthAdjust="spacingAndGlyphs" fill="#1a1a1a">-10</text>
<line x1="905.10" x2="911.1" y1="1720.70" y2="1720.70" stroke="#222" stroke-width="1"/>
<text x="900.50" y="1724.48" text-anchor="end" font-size="10.5" textLength="5.84" lengthAdjust="spacingAndGlyphs" fill="#1a1a1a">0</text>
<line x1="905.10" x2="911.1" y1="1667.70" y2="1667.70" stroke="#222" stroke-width="1"/>
<text x="900.50" y="1671.48" text-anchor="end" font-size="10.5" textLength="11.68" lengthAdjust="spacingAndGlyphs" fill="#1a1a1a">10</text>
<line x1="905.10" x2="911.1" y1="1614.70" y2="1614.70" stroke="#222" stroke-width="1"/>
<text x="900.50" y="1618.48" text-anchor="end" font-size="10.5" textLength="11.68" lengthAdjust="spacingAndGlyphs" fill="#1a1a1a">20</text>
<line x1="933.90" x2="933.90" y1="1787.4" y2="1793.9" stroke="#333" stroke-width="1.1"/>
<text transform="translate(936.70,1797.90) rotate(-90)" text-anchor="end" font-size="11" textLength="17.60" lengthAdjust="spacingAndGlyphs" fill="#1a1a1a">SCR</text>
<line x1="963.80" x2="963.80" y1="1787.4" y2="1793.9" stroke="#333" stroke-width="1.1"/>
<text transform="translate(966.60,1797.90) rotate(-90)" text-anchor="end" font-size="11" textLength="25.17" lengthAdjust="spacingAndGlyphs" fill="#1a1a1a">C1D7</text>
<line x1="993.70" x2="993.70" y1="1787.4" y2="1793.9" stroke="#333" stroke-width="1.1"/>
<text transform="translate(996.50,1797.90) rotate(-90)" text-anchor="end" font-size="11" textLength="25.17" lengthAdjust="spacingAndGlyphs" fill="#1a1a1a">C2D7</text>
<line x1="1023.60" x2="1023.60" y1="1787.4" y2="1793.9" stroke="#333" stroke-width="1.1"/>
<text transform="translate(1026.40,1797.90) rotate(-90)" text-anchor="end" font-size="11" textLength="25.17" lengthAdjust="spacingAndGlyphs" fill="#1a1a1a">C3D7</text>
<text x="978.50" y="1596.10" text-anchor="middle" font-size="10" textLength="28.30" lengthAdjust="spacingAndGlyphs" fill="#1a1a1a">PSMA</text>
<text x="981.80" y="1845.60" text-anchor="middle" font-size="10.5" textLength="20.30" lengthAdjust="spacingAndGlyphs" fill="#1a1a1a">Visit</text>
<clipPath id="c36"><rect x="1108.2" y="1605" width="135.20" height="182.40"/></clipPath>
<g clip-path="url(#c36)">
<line x1="1108.2" x2="1243.4" y1="1698.10" y2="1698.10" stroke="#a4a4a4" stroke-width="1"/>
<rect x="1118.90" y="1657.87" width="24.20" height="40.23" fill="#ee4d5b" stroke="rgba(40,40,40,0.5)" stroke-width="0.7"/>
<rect x="1148.65" y="1698.10" width="24.20" height="87.58" fill="#ee4d5b" stroke="rgba(40,40,40,0.5)" stroke-width="0.7"/>
<rect x="1178.40" y="1677.93" width="24.20" height="20.17" fill="#ee4d5b" stroke="rgba(40,40,40,0.5)" stroke-width="0.7"/>
<rect x="1208.15" y="1698.10" width="24.20" height="67.29" fill="#ee4d5b" stroke="rgba(40,40,40,0.5)" stroke-width="0.7"/>
<line x1="1131.00" x2="1131.00" y1="1657.87" y2="1606.29" stroke="#2c2c2c" stroke-width="1.1"/>
<line x1="1126.50" x2="1135.50" y1="1606.29" y2="1606.29" stroke="#2c2c2c" stroke-width="1.1"/>
<line x1="1160.75" x2="1160.75" y1="1785.68" y2="1715.50" stroke="#2c2c2c" stroke-width="1.1"/>
<line x1="1156.25" x2="1165.25" y1="1715.50" y2="1715.50" stroke="#2c2c2c" stroke-width="1.1"/>
<line x1="1190.50" x2="1190.50" y1="1677.93" y2="1631.06" stroke="#2c2c2c" stroke-width="1.1"/>
<line x1="1186.00" x2="1195.00" y1="1631.06" y2="1631.06" stroke="#2c2c2c" stroke-width="1.1"/>
<line x1="1220.25" x2="1220.25" y1="1765.39" y2="1658.42" stroke="#2c2c2c" stroke-width="1.1"/>
<line x1="1215.75" x2="1224.75" y1="1658.42" y2="1658.42" stroke="#2c2c2c" stroke-width="1.1"/>
</g>
<rect x="1108.2" y="1605" width="135.20" height="182.40" fill="none" stroke="#2e2e2e" stroke-width="1.3"/>
<line x1="1102.20" x2="1108.2" y1="1758.50" y2="1758.50" stroke="#222" stroke-width="1"/>
<text x="1097.60" y="1762.28" text-anchor="end" font-size="10.5" textLength="15.17" lengthAdjust="spacingAndGlyphs" fill="#1a1a1a">-10</text>
<line x1="1102.20" x2="1108.2" y1="1698.10" y2="1698.10" stroke="#222" stroke-width="1"/>
<text x="1097.60" y="1701.88" text-anchor="end" font-size="10.5" textLength="5.84" lengthAdjust="spacingAndGlyphs" fill="#1a1a1a">0</text>
<line x1="1102.20" x2="1108.2" y1="1637.70" y2="1637.70" stroke="#222" stroke-width="1"/>
<text x="1097.60" y="1641.48" text-anchor="end" font-size="10.5" textLength="11.68" lengthAdjust="spacingAndGlyphs" fill="#1a1a1a">10</text>
<line x1="1131.00" x2="1131.00" y1="1787.4" y2="1793.9" stroke="#333" stroke-width="1.1"/>
<text transform="translate(1133.80,1797.90) rotate(-90)" text-anchor="end" font-size="11" textLength="17.60" lengthAdjust="spacingAndGlyphs" fill="#1a1a1a">SCR</text>
<line x1="1160.75" x2="1160.75" y1="1787.4" y2="1793.9" stroke="#333" stroke-width="1.1"/>
<text transform="translate(1163.55,1797.90) rotate(-90)" text-anchor="end" font-size="11" textLength="25.17" lengthAdjust="spacingAndGlyphs" fill="#1a1a1a">C1D7</text>
<line x1="1190.50" x2="1190.50" y1="1787.4" y2="1793.9" stroke="#333" stroke-width="1.1"/>
<text transform="translate(1193.30,1797.90) rotate(-90)" text-anchor="end" font-size="11" textLength="25.17" lengthAdjust="spacingAndGlyphs" fill="#1a1a1a">C2D7</text>
<line x1="1220.25" x2="1220.25" y1="1787.4" y2="1793.9" stroke="#333" stroke-width="1.1"/>
<text transform="translate(1223.05,1797.90) rotate(-90)" text-anchor="end" font-size="11" textLength="25.17" lengthAdjust="spacingAndGlyphs" fill="#1a1a1a">C3D7</text>
<text x="1175.40" y="1596.10" text-anchor="middle" font-size="10" textLength="22.20" lengthAdjust="spacingAndGlyphs" fill="#1a1a1a">SSX2</text>
<text x="1182.70" y="1845.60" text-anchor="middle" font-size="10.5" textLength="20.30" lengthAdjust="spacingAndGlyphs" fill="#1a1a1a">Visit</text>
<clipPath id="c37"><rect x="396.5" y="1957.5" width="129.40" height="183.70"/></clipPath>
<g clip-path="url(#c37)">
<line x1="396.5" x2="525.9" y1="2139.20" y2="2139.20" stroke="#a4a4a4" stroke-width="1"/>
<rect x="406.75" y="2004.49" width="23.30" height="134.71" fill="#3bb619" stroke="rgba(40,40,40,0.5)" stroke-width="0.7"/>
<rect x="435.00" y="1971.10" width="23.30" height="168.10" fill="#3bb619" stroke="rgba(40,40,40,0.5)" stroke-width="0.7"/>
<rect x="463.25" y="1996.31" width="23.30" height="142.89" fill="#3bb619" stroke="rgba(40,40,40,0.5)" stroke-width="0.7"/>
<rect x="491.50" y="2014.33" width="23.30" height="124.87" fill="#3bb619" stroke="rgba(40,40,40,0.5)" stroke-width="0.7"/>
<line x1="418.40" x2="418.40" y1="2004.49" y2="1999.78" stroke="#2c2c2c" stroke-width="1.1"/>
<line x1="413.90" x2="422.90" y1="1999.78" y2="1999.78" stroke="#2c2c2c" stroke-width="1.1"/>
<line x1="446.65" x2="446.65" y1="1971.10" y2="1959.30" stroke="#2c2c2c" stroke-width="1.1"/>
<line x1="442.15" x2="451.15" y1="1959.30" y2="1959.30" stroke="#2c2c2c" stroke-width="1.1"/>
<line x1="474.90" x2="474.90" y1="1996.31" y2="1992.12" stroke="#2c2c2c" stroke-width="1.1"/>
<line x1="470.40" x2="479.40" y1="1992.12" y2="1992.12" stroke="#2c2c2c" stroke-width="1.1"/>
<line x1="503.15" x2="503.15" y1="2014.33" y2="2013.97" stroke="#2c2c2c" stroke-width="1.1"/>
<line x1="498.65" x2="507.65" y1="2013.97" y2="2013.97" stroke="#2c2c2c" stroke-width="1.1"/>
</g>
<rect x="396.5" y="1957.5" width="129.40" height="183.70" fill="none" stroke="#2e2e2e" stroke-width="1.3"/>
<line x1="390.50" x2="396.5" y1="2139.20" y2="2139.20" stroke="#222" stroke-width="1"/>
<text x="385.90" y="2142.94" text-anchor="end" font-size="10.4" textLength="5.78" lengthAdjust="spacingAndGlyphs" fill="#1a1a1a">0</text>
<line x1="390.50" x2="396.5" y1="2087.43" y2="2087.43" stroke="#222" stroke-width="1"/>
<text x="385.90" y="2091.17" text-anchor="end" font-size="10.4" textLength="23.13" lengthAdjust="spacingAndGlyphs" fill="#1a1a1a">1000</text>
<line x1="390.50" x2="396.5" y1="2035.66" y2="2035.66" stroke="#222" stroke-width="1"/>
<text x="385.90" y="2039.40" text-anchor="end" font-size="10.4" textLength="23.13" lengthAdjust="spacingAndGlyphs" fill="#1a1a1a">2000</text>
<line x1="390.50" x2="396.5" y1="1983.89" y2="1983.89" stroke="#222" stroke-width="1"/>
<text x="385.90" y="1987.63" text-anchor="end" font-size="10.4" textLength="23.13" lengthAdjust="spacingAndGlyphs" fill="#1a1a1a">3000</text>
<line x1="418.40" x2="418.40" y1="2141.2" y2="2147.7" stroke="#333" stroke-width="1.1"/>
<text transform="translate(421.20,2151.70) rotate(-90)" text-anchor="end" font-size="11" textLength="17.60" lengthAdjust="spacingAndGlyphs" fill="#1a1a1a">SCR</text>
<line x1="446.65" x2="446.65" y1="2141.2" y2="2147.7" stroke="#333" stroke-width="1.1"/>
<text transform="translate(449.45,2151.70) rotate(-90)" text-anchor="end" font-size="11" textLength="25.17" lengthAdjust="spacingAndGlyphs" fill="#1a1a1a">C1D7</text>
<line x1="474.90" x2="474.90" y1="2141.2" y2="2147.7" stroke="#333" stroke-width="1.1"/>
<text transform="translate(477.70,2151.70) rotate(-90)" text-anchor="end" font-size="11" textLength="25.17" lengthAdjust="spacingAndGlyphs" fill="#1a1a1a">C2D7</text>
<line x1="503.15" x2="503.15" y1="2141.2" y2="2147.7" stroke="#333" stroke-width="1.1"/>
<text transform="translate(505.95,2151.70) rotate(-90)" text-anchor="end" font-size="11" textLength="25.17" lengthAdjust="spacingAndGlyphs" fill="#1a1a1a">C3D7</text>
<text x="460.90" y="1946.50" text-anchor="middle" font-size="10" textLength="23.00" lengthAdjust="spacingAndGlyphs" fill="#1a1a1a">CEFT</text>
<text x="458.90" y="2204.60" text-anchor="middle" font-size="10.5" textLength="20.30" lengthAdjust="spacingAndGlyphs" fill="#1a1a1a">Visit</text>
<text transform="translate(340.60,2059.10) rotate(-90)" text-anchor="middle" font-size="12" fill="#1a1a1a" textLength="76.5" lengthAdjust="spacingAndGlyphs">SFC/10<tspan font-size="8.2" dx="1" dy="-4.3">6</tspan><tspan dy="4.3"> PBMC</tspan></text>
<clipPath id="c38"><rect x="592.5" y="1957.5" width="136.20" height="183.70"/></clipPath>
<g clip-path="url(#c38)">
<line x1="592.5" x2="728.7" y1="2111.10" y2="2111.10" stroke="#a4a4a4" stroke-width="1"/>
<rect x="603.20" y="2111.10" width="24.20" height="28.26" fill="#3776bb" stroke="rgba(40,40,40,0.5)" stroke-width="0.7"/>
<rect x="633.27" y="1984.29" width="24.20" height="126.81" fill="#3776bb" stroke="rgba(40,40,40,0.5)" stroke-width="0.7"/>
<rect x="663.34" y="2111.10" width="24.20" height="6.21" fill="#3776bb" stroke="rgba(40,40,40,0.5)" stroke-width="0.7"/>
<rect x="693.41" y="2106.00" width="24.20" height="5.10" fill="#3776bb" stroke="rgba(40,40,40,0.5)" stroke-width="0.7"/>
<line x1="615.30" x2="615.30" y1="2139.36" y2="2119.30" stroke="#2c2c2c" stroke-width="1.1"/>
<line x1="610.80" x2="619.80" y1="2119.30" y2="2119.30" stroke="#2c2c2c" stroke-width="1.1"/>
<line x1="645.37" x2="645.37" y1="1984.29" y2="1973.34" stroke="#2c2c2c" stroke-width="1.1"/>
<line x1="640.87" x2="649.87" y1="1973.34" y2="1973.34" stroke="#2c2c2c" stroke-width="1.1"/>
<line x1="675.44" x2="675.44" y1="2117.31" y2="2108.20" stroke="#2c2c2c" stroke-width="1.1"/>
<line x1="670.94" x2="679.94" y1="2108.20" y2="2108.20" stroke="#2c2c2c" stroke-width="1.1"/>
<line x1="705.51" x2="705.51" y1="2106.00" y2="2097.40" stroke="#2c2c2c" stroke-width="1.1"/>
<line x1="701.01" x2="710.01" y1="2097.40" y2="2097.40" stroke="#2c2c2c" stroke-width="1.1"/>
</g>
<rect x="592.5" y="1957.5" width="136.20" height="183.70" fill="none" stroke="#2e2e2e" stroke-width="1.3"/>
<line x1="586.50" x2="592.5" y1="2111.10" y2="2111.10" stroke="#222" stroke-width="1"/>
<text x="581.90" y="2114.84" text-anchor="end" font-size="10.4" textLength="5.78" lengthAdjust="spacingAndGlyphs" fill="#1a1a1a">0</text>
<line x1="586.50" x2="592.5" y1="2060.64" y2="2060.64" stroke="#222" stroke-width="1"/>
<text x="581.90" y="2064.38" text-anchor="end" font-size="10.4" textLength="17.35" lengthAdjust="spacingAndGlyphs" fill="#1a1a1a">200</text>
<line x1="586.50" x2="592.5" y1="2010.18" y2="2010.18" stroke="#222" stroke-width="1"/>
<text x="581.90" y="2013.92" text-anchor="end" font-size="10.4" textLength="17.35" lengthAdjust="spacingAndGlyphs" fill="#1a1a1a">400</text>
<line x1="586.50" x2="592.5" y1="1959.72" y2="1959.72" stroke="#222" stroke-width="1"/>
<text x="581.90" y="1963.46" text-anchor="end" font-size="10.4" textLength="17.35" lengthAdjust="spacingAndGlyphs" fill="#1a1a1a">600</text>
<line x1="615.30" x2="615.30" y1="2141.2" y2="2147.7" stroke="#333" stroke-width="1.1"/>
<text transform="translate(618.10,2151.70) rotate(-90)" text-anchor="end" font-size="11" textLength="17.60" lengthAdjust="spacingAndGlyphs" fill="#1a1a1a">SCR</text>
<line x1="645.37" x2="645.37" y1="2141.2" y2="2147.7" stroke="#333" stroke-width="1.1"/>
<text transform="translate(648.17,2151.70) rotate(-90)" text-anchor="end" font-size="11" textLength="25.17" lengthAdjust="spacingAndGlyphs" fill="#1a1a1a">C1D7</text>
<line x1="675.44" x2="675.44" y1="2141.2" y2="2147.7" stroke="#333" stroke-width="1.1"/>
<text transform="translate(678.24,2151.70) rotate(-90)" text-anchor="end" font-size="11" textLength="25.17" lengthAdjust="spacingAndGlyphs" fill="#1a1a1a">C2D7</text>
<line x1="705.51" x2="705.51" y1="2141.2" y2="2147.7" stroke="#333" stroke-width="1.1"/>
<text transform="translate(708.31,2151.70) rotate(-90)" text-anchor="end" font-size="11" textLength="25.17" lengthAdjust="spacingAndGlyphs" fill="#1a1a1a">C3D7</text>
<text x="660.30" y="1945.60" text-anchor="middle" font-size="10" textLength="16.80" lengthAdjust="spacingAndGlyphs" fill="#1a1a1a">LLO</text>
<text x="660.90" y="2204.60" text-anchor="middle" font-size="10.5" textLength="20.30" lengthAdjust="spacingAndGlyphs" fill="#1a1a1a">Visit</text>
<clipPath id="c39"><rect x="799.6" y="1958" width="132.40" height="183.20"/></clipPath>
<g clip-path="url(#c39)">
<line x1="799.6" x2="932" y1="2076.90" y2="2076.90" stroke="#a4a4a4" stroke-width="1"/>
<rect x="810.45" y="2076.90" width="23.90" height="8.51" fill="#ee4d5b" stroke="rgba(40,40,40,0.5)" stroke-width="0.7"/>
<rect x="839.48" y="2023.11" width="23.90" height="53.79" fill="#ee4d5b" stroke="rgba(40,40,40,0.5)" stroke-width="0.7"/>
<rect x="868.51" y="2076.90" width="23.90" height="62.30" fill="#ee4d5b" stroke="rgba(40,40,40,0.5)" stroke-width="0.7"/>
<rect x="897.54" y="2068.27" width="23.90" height="8.63" fill="#ee4d5b" stroke="rgba(40,40,40,0.5)" stroke-width="0.7"/>
<line x1="822.40" x2="822.40" y1="2085.41" y2="2032.61" stroke="#2c2c2c" stroke-width="1.1"/>
<line x1="817.90" x2="826.90" y1="2032.61" y2="2032.61" stroke="#2c2c2c" stroke-width="1.1"/>
<line x1="851.43" x2="851.43" y1="2023.11" y2="1959.71" stroke="#2c2c2c" stroke-width="1.1"/>
<line x1="846.93" x2="855.93" y1="1959.71" y2="1959.71" stroke="#2c2c2c" stroke-width="1.1"/>
<line x1="880.46" x2="880.46" y1="2139.20" y2="2071.40" stroke="#2c2c2c" stroke-width="1.1"/>
<line x1="875.96" x2="884.96" y1="2071.40" y2="2071.40" stroke="#2c2c2c" stroke-width="1.1"/>
<line x1="909.49" x2="909.49" y1="2068.27" y2="2063.18" stroke="#2c2c2c" stroke-width="1.1"/>
<line x1="904.99" x2="913.99" y1="2063.18" y2="2063.18" stroke="#2c2c2c" stroke-width="1.1"/>
</g>
<rect x="799.6" y="1958" width="132.40" height="183.20" fill="none" stroke="#2e2e2e" stroke-width="1.3"/>
<line x1="793.60" x2="799.6" y1="2134.80" y2="2134.80" stroke="#222" stroke-width="1"/>
<text x="789.00" y="2138.54" text-anchor="end" font-size="10.4" textLength="20.81" lengthAdjust="spacingAndGlyphs" fill="#1a1a1a">-100</text>
<line x1="793.60" x2="799.6" y1="2076.90" y2="2076.90" stroke="#222" stroke-width="1"/>
<text x="789.00" y="2080.64" text-anchor="end" font-size="10.4" textLength="5.78" lengthAdjust="spacingAndGlyphs" fill="#1a1a1a">0</text>
<line x1="793.60" x2="799.6" y1="2019.00" y2="2019.00" stroke="#222" stroke-width="1"/>
<text x="789.00" y="2022.74" text-anchor="end" font-size="10.4" textLength="17.35" lengthAdjust="spacingAndGlyphs" fill="#1a1a1a">100</text>
<line x1="793.60" x2="799.6" y1="1961.10" y2="1961.10" stroke="#222" stroke-width="1"/>
<text x="789.00" y="1964.84" text-anchor="end" font-size="10.4" textLength="17.35" lengthAdjust="spacingAndGlyphs" fill="#1a1a1a">200</text>
<line x1="822.40" x2="822.40" y1="2141.2" y2="2147.7" stroke="#333" stroke-width="1.1"/>
<text transform="translate(825.20,2151.70) rotate(-90)" text-anchor="end" font-size="11" textLength="17.60" lengthAdjust="spacingAndGlyphs" fill="#1a1a1a">SCR</text>
<line x1="851.43" x2="851.43" y1="2141.2" y2="2147.7" stroke="#333" stroke-width="1.1"/>
<text transform="translate(854.23,2151.70) rotate(-90)" text-anchor="end" font-size="11" textLength="25.17" lengthAdjust="spacingAndGlyphs" fill="#1a1a1a">C1D7</text>
<line x1="880.46" x2="880.46" y1="2141.2" y2="2147.7" stroke="#333" stroke-width="1.1"/>
<text transform="translate(883.26,2151.70) rotate(-90)" text-anchor="end" font-size="11" textLength="25.17" lengthAdjust="spacingAndGlyphs" fill="#1a1a1a">C2D7</text>
<line x1="909.49" x2="909.49" y1="2141.2" y2="2147.7" stroke="#333" stroke-width="1.1"/>
<text transform="translate(912.29,2151.70) rotate(-90)" text-anchor="end" font-size="11" textLength="25.17" lengthAdjust="spacingAndGlyphs" fill="#1a1a1a">C3D7</text>
<text x="865.80" y="1945.60" text-anchor="middle" font-size="10" textLength="34.50" lengthAdjust="spacingAndGlyphs" fill="#1a1a1a">NKX3.1</text>
<text x="861.80" y="2204.60" text-anchor="middle" font-size="10.5" textLength="20.30" lengthAdjust="spacingAndGlyphs" fill="#1a1a1a">Visit</text>
<clipPath id="c40"><rect x="392.5" y="2248.9" width="134.40" height="181.70"/></clipPath>
<g clip-path="url(#c40)">
<line x1="392.5" x2="526.9" y1="2392.30" y2="2392.30" stroke="#a4a4a4" stroke-width="1"/>
<rect x="402.80" y="2364.40" width="24.00" height="27.90" fill="#3bb619" stroke="rgba(40,40,40,0.5)" stroke-width="0.7"/>
<rect x="432.43" y="2323.08" width="24.00" height="69.22" fill="#3bb619" stroke="rgba(40,40,40,0.5)" stroke-width="0.7"/>
<rect x="462.06" y="2392.30" width="24.00" height="36.10" fill="#3bb619" stroke="rgba(40,40,40,0.5)" stroke-width="0.7"/>
<rect x="491.69" y="2392.30" width="24.00" height="3.27" fill="#3bb619" stroke="rgba(40,40,40,0.5)" stroke-width="0.7"/>
<line x1="414.80" x2="414.80" y1="2364.40" y2="2307.18" stroke="#2c2c2c" stroke-width="1.1"/>
<line x1="410.30" x2="419.30" y1="2307.18" y2="2307.18" stroke="#2c2c2c" stroke-width="1.1"/>
<line x1="444.43" x2="444.43" y1="2323.08" y2="2251.38" stroke="#2c2c2c" stroke-width="1.1"/>
<line x1="439.93" x2="448.93" y1="2251.38" y2="2251.38" stroke="#2c2c2c" stroke-width="1.1"/>
<line x1="474.06" x2="474.06" y1="2428.40" y2="2421.52" stroke="#2c2c2c" stroke-width="1.1"/>
<line x1="469.56" x2="478.56" y1="2421.52" y2="2421.52" stroke="#2c2c2c" stroke-width="1.1"/>
<line x1="503.69" x2="503.69" y1="2395.57" y2="2388.28" stroke="#2c2c2c" stroke-width="1.1"/>
<line x1="499.19" x2="508.19" y1="2388.28" y2="2388.28" stroke="#2c2c2c" stroke-width="1.1"/>
</g>
<rect x="392.5" y="2248.9" width="134.40" height="181.70" fill="none" stroke="#2e2e2e" stroke-width="1.3"/>
<line x1="386.50" x2="392.5" y1="2392.30" y2="2392.30" stroke="#222" stroke-width="1"/>
<text x="381.90" y="2396.04" text-anchor="end" font-size="10.4" textLength="5.78" lengthAdjust="spacingAndGlyphs" fill="#1a1a1a">0</text>
<line x1="386.50" x2="392.5" y1="2334.90" y2="2334.90" stroke="#222" stroke-width="1"/>
<text x="381.90" y="2338.64" text-anchor="end" font-size="10.4" textLength="17.35" lengthAdjust="spacingAndGlyphs" fill="#1a1a1a">100</text>
<line x1="386.50" x2="392.5" y1="2277.50" y2="2277.50" stroke="#222" stroke-width="1"/>
<text x="381.90" y="2281.24" text-anchor="end" font-size="10.4" textLength="17.35" lengthAdjust="spacingAndGlyphs" fill="#1a1a1a">200</text>
<line x1="414.80" x2="414.80" y1="2430.6" y2="2437.1" stroke="#333" stroke-width="1.1"/>
<text transform="translate(417.60,2441.10) rotate(-90)" text-anchor="end" font-size="11" textLength="17.60" lengthAdjust="spacingAndGlyphs" fill="#1a1a1a">SCR</text>
<line x1="444.43" x2="444.43" y1="2430.6" y2="2437.1" stroke="#333" stroke-width="1.1"/>
<text transform="translate(447.23,2441.10) rotate(-90)" text-anchor="end" font-size="11" textLength="25.17" lengthAdjust="spacingAndGlyphs" fill="#1a1a1a">C1D7</text>
<line x1="474.06" x2="474.06" y1="2430.6" y2="2437.1" stroke="#333" stroke-width="1.1"/>
<text transform="translate(476.86,2441.10) rotate(-90)" text-anchor="end" font-size="11" textLength="25.17" lengthAdjust="spacingAndGlyphs" fill="#1a1a1a">C2D7</text>
<line x1="503.69" x2="503.69" y1="2430.6" y2="2437.1" stroke="#333" stroke-width="1.1"/>
<text transform="translate(506.49,2441.10) rotate(-90)" text-anchor="end" font-size="11" textLength="25.17" lengthAdjust="spacingAndGlyphs" fill="#1a1a1a">C3D7</text>
<text x="459.40" y="2238.00" text-anchor="middle" font-size="10" textLength="17.30" lengthAdjust="spacingAndGlyphs" fill="#1a1a1a">PAP</text>
<text x="459.40" y="2490.70" text-anchor="middle" font-size="10.5" textLength="20.30" lengthAdjust="spacingAndGlyphs" fill="#1a1a1a">Visit</text>
<text transform="translate(345.10,2349.50) rotate(-90)" text-anchor="middle" font-size="12" fill="#1a1a1a" textLength="76.5" lengthAdjust="spacingAndGlyphs">SFC/10<tspan font-size="8.2" dx="1" dy="-4.3">6</tspan><tspan dy="4.3"> PBMC</tspan></text>
<clipPath id="c41"><rect x="596.5" y="2249.3" width="130.70" height="181.30"/></clipPath>
<g clip-path="url(#c41)">
<line x1="596.5" x2="727.2" y1="2366.80" y2="2366.80" stroke="#a4a4a4" stroke-width="1"/>
<rect x="607.80" y="2366.80" width="23.00" height="32.80" fill="#3776bb" stroke="rgba(40,40,40,0.5)" stroke-width="0.7"/>
<rect x="636.47" y="2302.08" width="23.00" height="64.72" fill="#3776bb" stroke="rgba(40,40,40,0.5)" stroke-width="0.7"/>
<rect x="665.14" y="2366.80" width="23.00" height="61.64" fill="#3776bb" stroke="rgba(40,40,40,0.5)" stroke-width="0.7"/>
<rect x="693.81" y="2366.80" width="23.00" height="2.71" fill="#3776bb" stroke="rgba(40,40,40,0.5)" stroke-width="0.7"/>
<line x1="619.30" x2="619.30" y1="2399.60" y2="2320.71" stroke="#2c2c2c" stroke-width="1.1"/>
<line x1="614.80" x2="623.80" y1="2320.71" y2="2320.71" stroke="#2c2c2c" stroke-width="1.1"/>
<line x1="647.97" x2="647.97" y1="2302.08" y2="2251.39" stroke="#2c2c2c" stroke-width="1.1"/>
<line x1="643.47" x2="652.47" y1="2251.39" y2="2251.39" stroke="#2c2c2c" stroke-width="1.1"/>
<line x1="676.64" x2="676.64" y1="2428.44" y2="2391.78" stroke="#2c2c2c" stroke-width="1.1"/>
<line x1="672.14" x2="681.14" y1="2391.78" y2="2391.78" stroke="#2c2c2c" stroke-width="1.1"/>
<line x1="705.31" x2="705.31" y1="2369.51" y2="2360.36" stroke="#2c2c2c" stroke-width="1.1"/>
<line x1="700.81" x2="709.81" y1="2360.36" y2="2360.36" stroke="#2c2c2c" stroke-width="1.1"/>
</g>
<rect x="596.5" y="2249.3" width="130.70" height="181.30" fill="none" stroke="#2e2e2e" stroke-width="1.3"/>
<line x1="590.50" x2="596.5" y1="2412.80" y2="2412.80" stroke="#222" stroke-width="1"/>
<text x="585.90" y="2416.54" text-anchor="end" font-size="10.4" textLength="20.81" lengthAdjust="spacingAndGlyphs" fill="#1a1a1a">-100</text>
<line x1="590.50" x2="596.5" y1="2366.80" y2="2366.80" stroke="#222" stroke-width="1"/>
<text x="585.90" y="2370.54" text-anchor="end" font-size="10.4" textLength="5.78" lengthAdjust="spacingAndGlyphs" fill="#1a1a1a">0</text>
<line x1="590.50" x2="596.5" y1="2320.80" y2="2320.80" stroke="#222" stroke-width="1"/>
<text x="585.90" y="2324.54" text-anchor="end" font-size="10.4" textLength="17.35" lengthAdjust="spacingAndGlyphs" fill="#1a1a1a">100</text>
<line x1="590.50" x2="596.5" y1="2274.80" y2="2274.80" stroke="#222" stroke-width="1"/>
<text x="585.90" y="2278.54" text-anchor="end" font-size="10.4" textLength="17.35" lengthAdjust="spacingAndGlyphs" fill="#1a1a1a">200</text>
<line x1="619.30" x2="619.30" y1="2430.6" y2="2437.1" stroke="#333" stroke-width="1.1"/>
<text transform="translate(622.10,2441.10) rotate(-90)" text-anchor="end" font-size="11" textLength="17.60" lengthAdjust="spacingAndGlyphs" fill="#1a1a1a">SCR</text>
<line x1="647.97" x2="647.97" y1="2430.6" y2="2437.1" stroke="#333" stroke-width="1.1"/>
<text transform="translate(650.77,2441.10) rotate(-90)" text-anchor="end" font-size="11" textLength="25.17" lengthAdjust="spacingAndGlyphs" fill="#1a1a1a">C1D7</text>
<line x1="676.64" x2="676.64" y1="2430.6" y2="2437.1" stroke="#333" stroke-width="1.1"/>
<text transform="translate(679.44,2441.10) rotate(-90)" text-anchor="end" font-size="11" textLength="25.17" lengthAdjust="spacingAndGlyphs" fill="#1a1a1a">C2D7</text>
<line x1="705.31" x2="705.31" y1="2430.6" y2="2437.1" stroke="#333" stroke-width="1.1"/>
<text transform="translate(708.11,2441.10) rotate(-90)" text-anchor="end" font-size="11" textLength="25.17" lengthAdjust="spacingAndGlyphs" fill="#1a1a1a">C3D7</text>
<text x="662.20" y="2236.50" text-anchor="middle" font-size="10" textLength="28.30" lengthAdjust="spacingAndGlyphs" fill="#1a1a1a">PSMA</text>
<text x="661.20" y="2490.70" text-anchor="middle" font-size="10.5" textLength="20.30" lengthAdjust="spacingAndGlyphs" fill="#1a1a1a">Visit</text>
<clipPath id="c42"><rect x="794.2" y="2249.6" width="134.10" height="181.00"/></clipPath>
<g clip-path="url(#c42)">
<line x1="794.2" x2="928.3" y1="2415.60" y2="2415.60" stroke="#a4a4a4" stroke-width="1"/>
<rect x="804.30" y="2415.60" width="24.60" height="12.74" fill="#ee4d5b" stroke="rgba(40,40,40,0.5)" stroke-width="0.7"/>
<rect x="833.95" y="2328.25" width="24.60" height="87.35" fill="#ee4d5b" stroke="rgba(40,40,40,0.5)" stroke-width="0.7"/>
<line x1="863.60" x2="888.20" y1="2415.60" y2="2415.60" stroke="#333" stroke-width="1"/>
<rect x="893.25" y="2412.71" width="24.60" height="2.89" fill="#ee4d5b" stroke="rgba(40,40,40,0.5)" stroke-width="0.7"/>
<line x1="816.60" x2="816.60" y1="2428.34" y2="2328.25" stroke="#2c2c2c" stroke-width="1.1"/>
<line x1="812.10" x2="821.10" y1="2328.25" y2="2328.25" stroke="#2c2c2c" stroke-width="1.1"/>
<line x1="846.25" x2="846.25" y1="2328.25" y2="2259.28" stroke="#2c2c2c" stroke-width="1.1"/>
<line x1="841.75" x2="850.75" y1="2259.28" y2="2259.28" stroke="#2c2c2c" stroke-width="1.1"/>
<line x1="875.90" x2="875.90" y1="2415.60" y2="2343.48" stroke="#2c2c2c" stroke-width="1.1"/>
<line x1="871.40" x2="880.40" y1="2343.48" y2="2343.48" stroke="#2c2c2c" stroke-width="1.1"/>
<line x1="905.55" x2="905.55" y1="2412.71" y2="2403.25" stroke="#2c2c2c" stroke-width="1.1"/>
<line x1="901.05" x2="910.05" y1="2403.25" y2="2403.25" stroke="#2c2c2c" stroke-width="1.1"/>
</g>
<rect x="794.2" y="2249.6" width="134.10" height="181.00" fill="none" stroke="#2e2e2e" stroke-width="1.3"/>
<line x1="788.20" x2="794.2" y1="2415.60" y2="2415.60" stroke="#222" stroke-width="1"/>
<text x="783.60" y="2419.34" text-anchor="end" font-size="10.4" textLength="5.78" lengthAdjust="spacingAndGlyphs" fill="#1a1a1a">0</text>
<line x1="788.20" x2="794.2" y1="2382.76" y2="2382.76" stroke="#222" stroke-width="1"/>
<text x="783.60" y="2386.50" text-anchor="end" font-size="10.4" textLength="11.57" lengthAdjust="spacingAndGlyphs" fill="#1a1a1a">25</text>
<line x1="788.20" x2="794.2" y1="2349.92" y2="2349.92" stroke="#222" stroke-width="1"/>
<text x="783.60" y="2353.66" text-anchor="end" font-size="10.4" textLength="11.57" lengthAdjust="spacingAndGlyphs" fill="#1a1a1a">50</text>
<line x1="788.20" x2="794.2" y1="2317.08" y2="2317.08" stroke="#222" stroke-width="1"/>
<text x="783.60" y="2320.82" text-anchor="end" font-size="10.4" textLength="11.57" lengthAdjust="spacingAndGlyphs" fill="#1a1a1a">75</text>
<line x1="788.20" x2="794.2" y1="2284.24" y2="2284.24" stroke="#222" stroke-width="1"/>
<text x="783.60" y="2287.98" text-anchor="end" font-size="10.4" textLength="17.35" lengthAdjust="spacingAndGlyphs" fill="#1a1a1a">100</text>
<line x1="788.20" x2="794.2" y1="2251.40" y2="2251.40" stroke="#222" stroke-width="1"/>
<text x="783.60" y="2255.14" text-anchor="end" font-size="10.4" textLength="17.35" lengthAdjust="spacingAndGlyphs" fill="#1a1a1a">125</text>
<line x1="816.60" x2="816.60" y1="2430.6" y2="2437.1" stroke="#333" stroke-width="1.1"/>
<text transform="translate(819.40,2441.10) rotate(-90)" text-anchor="end" font-size="11" textLength="17.60" lengthAdjust="spacingAndGlyphs" fill="#1a1a1a">SCR</text>
<line x1="846.25" x2="846.25" y1="2430.6" y2="2437.1" stroke="#333" stroke-width="1.1"/>
<text transform="translate(849.05,2441.10) rotate(-90)" text-anchor="end" font-size="11" textLength="25.17" lengthAdjust="spacingAndGlyphs" fill="#1a1a1a">C1D7</text>
<line x1="875.90" x2="875.90" y1="2430.6" y2="2437.1" stroke="#333" stroke-width="1.1"/>
<text transform="translate(878.70,2441.10) rotate(-90)" text-anchor="end" font-size="11" textLength="25.17" lengthAdjust="spacingAndGlyphs" fill="#1a1a1a">C2D7</text>
<line x1="905.55" x2="905.55" y1="2430.6" y2="2437.1" stroke="#333" stroke-width="1.1"/>
<text transform="translate(908.35,2441.10) rotate(-90)" text-anchor="end" font-size="11" textLength="25.17" lengthAdjust="spacingAndGlyphs" fill="#1a1a1a">C3D7</text>
<text x="860.90" y="2236.50" text-anchor="middle" font-size="10" textLength="22.20" lengthAdjust="spacingAndGlyphs" fill="#1a1a1a">SSX2</text>
<text x="862.20" y="2490.70" text-anchor="middle" font-size="10.5" textLength="20.30" lengthAdjust="spacingAndGlyphs" fill="#1a1a1a">Visit</text>
</svg></body></html>
